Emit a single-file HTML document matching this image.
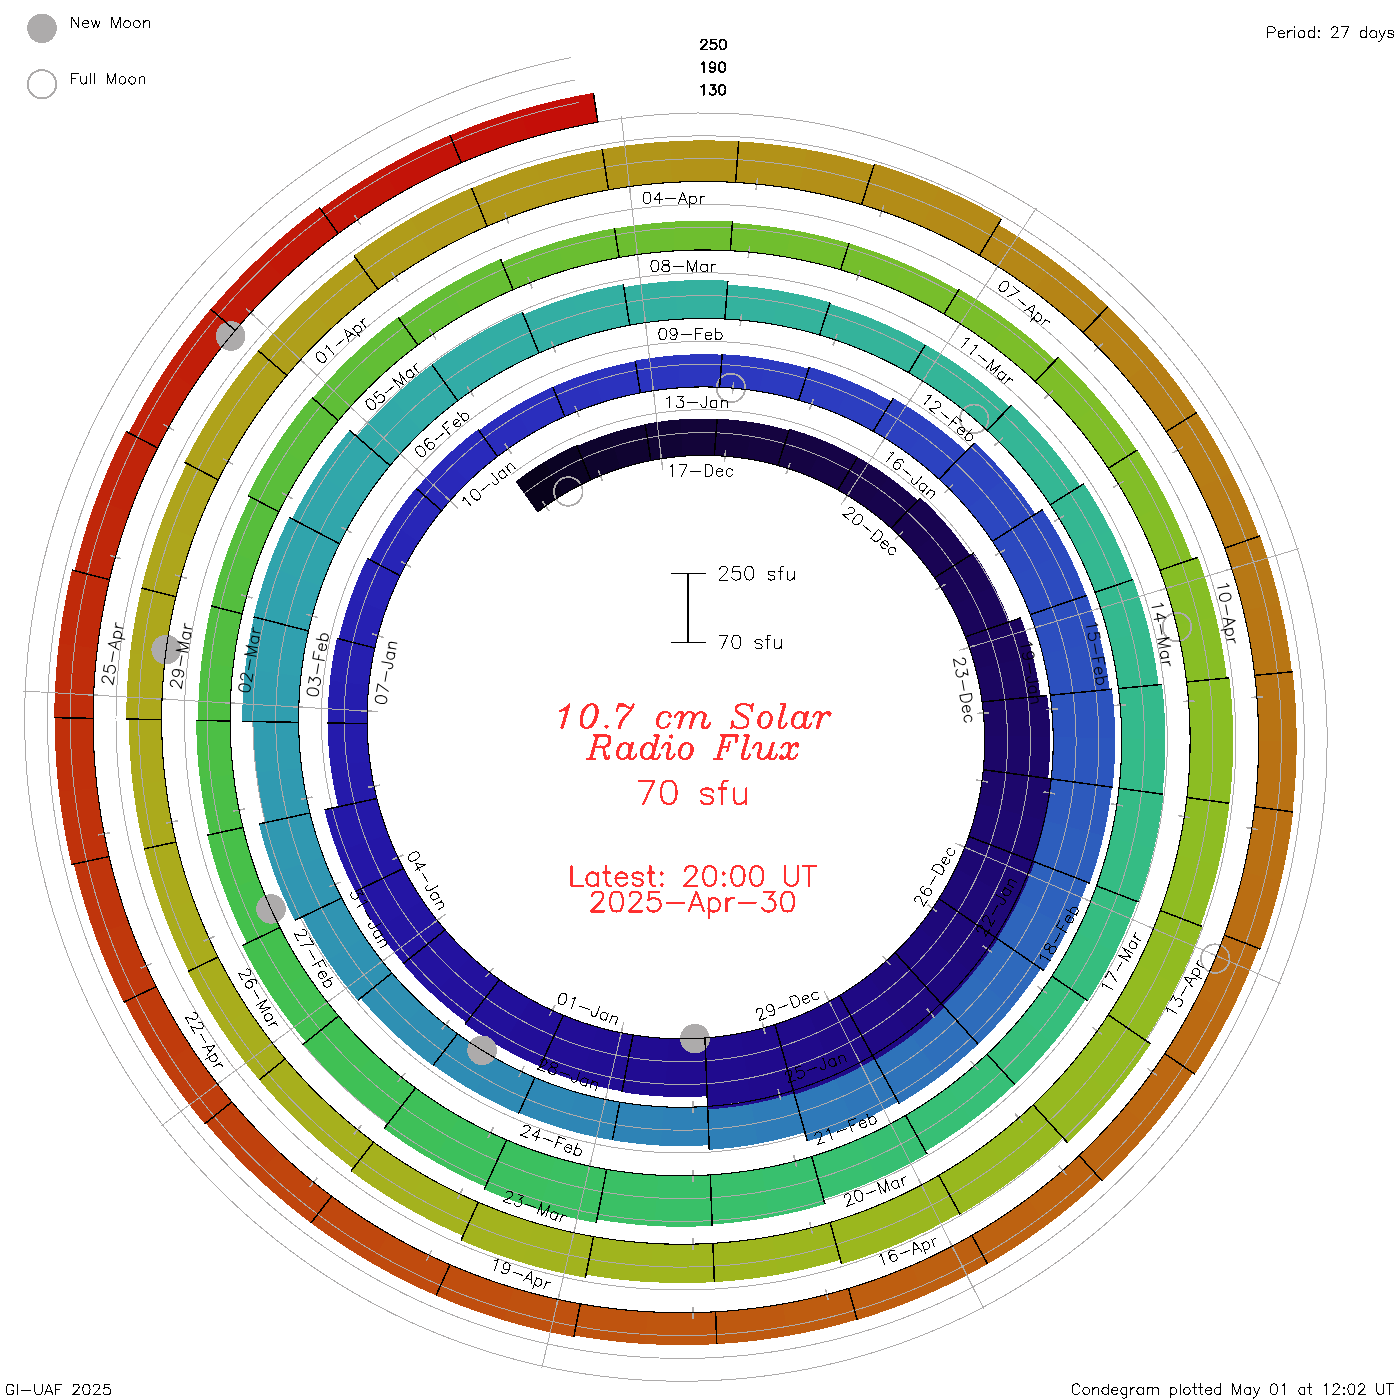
<!DOCTYPE html><html><head><meta charset="utf-8"><title>Condegram</title><style>html,body{margin:0;padding:0;background:#fff}svg{display:block}</style></head><body><svg shape-rendering="crispEdges" width="1400" height="1400" viewBox="0 0 1400 1400">
<rect width="1400" height="1400" fill="#fff"/>
<g shape-rendering="crispEdges" stroke="none">
<path fill="#c40e08" d="M528.4 138.5L542.1 134.6L555.9 131L569.9 127.8L583.9 124.8L597.9 122.2L593.4 92.9L578.6 95.6L563.9 98.7L549.3 102.1L534.8 105.9L520.4 110Z"/>
<path fill="#c31108" d="M461.3 162.8L474.5 157.4L487.8 152.2L501.2 147.3L514.7 142.8L528.4 138.5L520.4 110L506.1 114.4L491.9 119.1L477.8 124.2L463.9 129.6L450.1 135.4Z"/>
<path fill="#c31308" d="M397.6 194.7L410 187.7L422.6 181.1L435.4 174.7L448.3 168.6L461.3 162.8L449.9 135L436.2 141.1L422.7 147.4L409.3 154.1L396.1 161.1L383.1 168.4Z"/>
<path fill="#c21608" d="M338.2 233.6L349.7 225.3L361.4 217.2L373.3 209.4L385.4 201.9L397.6 194.7L383.1 168.4L370.2 175.9L357.6 183.8L345.1 192L332.8 200.4L320.7 209.2Z"/>
<path fill="#c21808" d="M283.8 279.1L294.3 269.5L304.9 260.2L315.8 251.1L326.9 242.2L338.2 233.6L319.4 207.3L307.5 216.3L295.8 225.7L284.3 235.2L273.1 245.1L262.1 255.2Z"/>
<path fill="#c11b09" d="M235.2 330.5L244.4 319.8L253.9 309.3L263.7 299L273.6 288.9L283.8 279.1L262.1 255.2L251.3 265.5L240.8 276.1L230.6 286.9L220.6 297.9L210.8 309.2Z"/>
<path fill="#c11e09" d="M193 387.1L200.9 375.4L209.1 363.9L217.5 352.5L226.2 341.4L235.2 330.5L210.6 309L201.1 320.5L191.9 332.2L183 344.1L174.3 356.2L166 368.5Z"/>
<path fill="#c12109" d="M157.7 448L164.2 435.5L170.9 423.2L178 411L185.3 398.9L193 387.1L166 368.5L157.9 381L150.2 393.7L142.7 406.6L135.6 419.6L128.7 432.8Z"/>
<path fill="#c0240a" d="M129.7 512.5L134.7 499.4L140 486.4L145.6 473.4L151.5 460.7L157.7 448L125.7 431.2L119.1 444.6L112.8 458.1L106.9 471.8L101.3 485.6L96 499.5Z"/>
<path fill="#c0270a" d="M109.5 579.7L112.9 566.1L116.7 552.6L120.7 539.1L125.1 525.8L129.7 512.5L96 499.5L91 513.5L86.4 527.7L82.1 541.9L78.1 556.3L74.5 570.7Z"/>
<path fill="#c02a0a" d="M97.3 648.6L99.1 634.8L101.2 620.9L103.7 607.1L106.4 593.4L109.5 579.7L71.9 570L68.6 584.6L65.7 599.2L63 613.9L60.8 628.6L58.8 643.4Z"/>
<path fill="#c02d0b" d="M93.1 718.4L93.3 704.4L93.8 690.4L94.6 676.5L95.8 662.5L97.3 648.6L58.8 643.4L57.2 658.2L56 673L55.1 687.9L54.5 702.7L54.3 717.6Z"/>
<path fill="#c0300b" d="M97.1 788L95.7 774.1L94.5 760.2L93.7 746.3L93.3 732.3L93.1 718.4L54.7 717.6L54.8 732.5L55.3 747.3L56.1 762.1L57.3 776.9L58.8 791.7Z"/>
<path fill="#c0320b" d="M109.1 856.5L106.1 842.9L103.3 829.3L100.9 815.6L98.9 801.8L97.1 788L58.8 791.7L60.7 806.4L62.9 821L65.4 835.6L68.3 850.2L71.5 864.6Z"/>
<path fill="#c0350c" d="M128.9 923L124.3 909.9L120.1 896.7L116.1 883.4L112.4 870L109.1 856.5L73.8 864.1L77.3 878.4L81.2 892.7L85.4 906.8L89.9 920.8L94.7 934.7Z"/>
<path fill="#c0380c" d="M156.3 986.6L150.2 974.2L144.5 961.6L139 948.9L133.8 936L128.9 923L94.7 934.7L99.9 948.5L105.4 962.1L111.2 975.6L117.3 989L123.7 1002.2Z"/>
<path fill="#c03b0c" d="M190.8 1046.5L183.3 1034.9L176.2 1023.1L169.3 1011.1L162.6 998.9L156.3 986.6L124.7 1001.7L131.4 1014.8L138.4 1027.6L145.7 1040.3L153.3 1052.9L161.2 1065.2Z"/>
<path fill="#c03e0d" d="M231.9 1101.9L223.2 1091.2L214.7 1080.3L206.5 1069.3L198.5 1058L190.8 1046.5L161.2 1065.2L169.3 1077.3L177.8 1089.3L186.5 1101L195.4 1112.6L204.7 1123.9Z"/>
<path fill="#c0410d" d="M279.1 1152L269.2 1142.4L259.5 1132.6L250.1 1122.6L240.9 1112.4L231.9 1101.9L205.6 1123.2L215 1134.2L224.8 1145.1L234.7 1155.7L244.9 1166.1L255.4 1176.2Z"/>
<path fill="#c0450d" d="M331.7 1196.2L320.8 1187.9L310 1179.3L299.5 1170.4L289.2 1161.3L279.1 1152L255.4 1176.2L266.1 1186.1L277 1195.7L288.1 1205L299.4 1214.1L310.9 1223Z"/>
<path fill="#c0480e" d="M388.9 1233.9L377.1 1226.9L365.5 1219.6L354 1212.1L342.8 1204.3L331.7 1196.2L310.9 1223L322.6 1231.5L334.6 1239.8L346.7 1247.8L358.9 1255.5L371.4 1262.9Z"/>
<path fill="#c04b0e" d="M450 1264.7L437.5 1259.1L425.1 1253.2L412.9 1247.1L400.8 1240.6L388.9 1233.9L371.4 1262.9L384 1270L396.8 1276.9L409.7 1283.4L422.8 1289.6L436 1295.5Z"/>
<path fill="#c04e0e" d="M514.1 1288L501 1284L488.1 1279.6L475.3 1274.9L462.6 1269.9L450 1264.7L436 1295.5L449.3 1301.1L462.7 1306.4L476.3 1311.3L490 1316L503.7 1320.3Z"/>
<path fill="#bf510f" d="M580.3 1303.8L566.9 1301.3L553.6 1298.4L540.4 1295.3L527.2 1291.8L514.1 1288L503.7 1320.3L517.6 1324.3L531.5 1328L545.5 1331.3L559.6 1334.3L573.8 1337Z"/>
<path fill="#bf540f" d="M647.8 1311.7L634.2 1310.8L620.7 1309.5L607.2 1307.9L593.7 1306L580.3 1303.8L574.1 1335.5L588.2 1337.9L602.5 1339.9L616.7 1341.6L631 1343L645.3 1344Z"/>
<path fill="#bf560f" d="M715.6 1311.8L702 1312.4L688.5 1312.7L674.9 1312.7L661.3 1312.4L647.8 1311.7L645.3 1344L659.6 1344.7L673.9 1345L688.2 1345.1L702.5 1344.8L716.8 1344.1Z"/>
<path fill="#be5910" d="M782.8 1304L769.4 1306.2L756 1308L742.6 1309.6L729.1 1310.9L715.6 1311.8L716.8 1344.1L731.1 1343.1L745.3 1341.8L759.5 1340.2L773.7 1338.2L787.8 1335.9Z"/>
<path fill="#be5c10" d="M848.5 1288.5L835.5 1292.2L822.4 1295.6L809.3 1298.7L796.1 1301.5L782.8 1304L787.8 1335.9L801.8 1333.3L815.8 1330.4L829.6 1327.1L843.4 1323.5L857.1 1319.6Z"/>
<path fill="#be5e10" d="M911.8 1265.5L899.3 1270.6L886.8 1275.5L874.1 1280.1L861.3 1284.4L848.5 1288.5L857.2 1320L870.8 1315.8L884.3 1311.2L897.7 1306.4L911 1301.2L924.1 1295.8Z"/>
<path fill="#bd6011" d="M971.8 1235.3L960.1 1241.9L948.2 1248.2L936.2 1254.2L924.1 1260L911.8 1265.5L924.1 1295.8L937.1 1290L950 1283.9L962.7 1277.6L975.3 1270.9L987.6 1264Z"/>
<path fill="#bd6211" d="M1027.9 1198.5L1017 1206.4L1006 1214L994.8 1221.4L983.4 1228.5L971.8 1235.3L987.6 1264L999.9 1256.8L1011.9 1249.3L1023.8 1241.5L1035.4 1233.4L1046.9 1225.1Z"/>
<path fill="#bd6411" d="M1079.1 1155.5L1069.3 1164.6L1059.3 1173.4L1049 1182L1038.5 1190.4L1027.9 1198.5L1046.9 1225.1L1058.2 1216.6L1069.2 1207.7L1080.1 1198.7L1090.7 1189.3L1101.1 1179.8Z"/>
<path fill="#bc6612" d="M1125 1107L1116.3 1117.1L1107.3 1127L1098.2 1136.7L1088.8 1146.2L1079.1 1155.5L1102.2 1180.9L1112.4 1171.1L1122.3 1161L1132.1 1150.7L1141.6 1140.2L1150.8 1129.5Z"/>
<path fill="#bc6812" d="M1164.8 1053.6L1157.3 1064.6L1149.6 1075.5L1141.7 1086.2L1133.4 1096.7L1125 1107L1150.8 1129.5L1159.8 1118.6L1168.5 1107.5L1176.9 1096.1L1185.1 1084.6L1193 1072.9Z"/>
<path fill="#bb6a12" d="M1198 996L1191.9 1007.8L1185.5 1019.5L1178.9 1031L1172 1042.4L1164.8 1053.6L1194.9 1074.2L1202.6 1062.3L1209.9 1050.2L1217 1038L1223.8 1025.6L1230.4 1013Z"/>
<path fill="#bb6c13" d="M1224.3 935.1L1219.6 947.5L1214.7 959.8L1209.4 972L1203.9 984.1L1198 996L1230.4 1013L1236.6 1000.4L1242.5 987.5L1248.1 974.6L1253.4 961.5L1258.4 948.3Z"/>
<path fill="#ba6e13" d="M1243.3 871.8L1240.1 884.6L1236.6 897.3L1232.8 910L1228.7 922.6L1224.3 935.1L1260.5 949.1L1265.2 935.8L1269.6 922.3L1273.7 908.8L1277.5 895.1L1280.9 881.4Z"/>
<path fill="#b97013" d="M1254.8 806.7L1253.1 819.8L1251.1 832.9L1248.8 845.9L1246.2 858.8L1243.3 871.8L1280.9 881.4L1284 867.7L1286.8 853.8L1289.3 839.9L1291.4 826L1293.2 812Z"/>
<path fill="#b97214" d="M1258.6 741L1258.5 754.1L1258 767.3L1257.2 780.5L1256.2 793.6L1254.8 806.7L1292.5 811.9L1294 797.9L1295.1 783.9L1296 769.8L1296.5 755.8L1296.7 741.7Z"/>
<path fill="#b87414" d="M1254.8 675.4L1256.2 688.4L1257.3 701.5L1258 714.7L1258.5 727.8L1258.6 741L1296.7 741.7L1296.5 727.7L1296.1 713.6L1295.3 699.6L1294.1 685.6L1292.7 671.7Z"/>
<path fill="#b87614" d="M1243.4 610.8L1246.3 623.6L1248.9 636.4L1251.2 649.3L1253.1 662.3L1254.8 675.4L1291.9 671.7L1290.2 657.9L1288.1 644L1285.7 630.2L1282.9 616.5L1279.9 602.9Z"/>
<path fill="#b77815" d="M1224.7 548.1L1229 560.4L1233 572.9L1236.8 585.4L1240.3 598.1L1243.4 610.8L1279.9 602.9L1276.5 589.3L1272.8 575.8L1268.9 562.5L1264.6 549.2L1260 536Z"/>
<path fill="#b77b15" d="M1198.8 488.1L1204.5 499.9L1210 511.7L1215.2 523.7L1220.1 535.8L1224.7 548.1L1258.9 536.4L1254 523.4L1248.8 510.4L1243.3 497.7L1237.5 485L1231.4 472.5Z"/>
<path fill="#b77d15" d="M1166.2 431.7L1173.3 442.7L1180 453.8L1186.6 465.1L1192.8 476.5L1198.8 488.1L1231.4 472.5L1225.1 460.2L1218.4 448L1211.5 436L1204.3 424.1L1196.8 412.5Z"/>
<path fill="#b67f16" d="M1127.4 379.6L1135.7 389.7L1143.7 399.9L1151.4 410.3L1159 420.9L1166.2 431.7L1196.8 412.5L1189.1 401L1181.1 389.6L1172.8 378.5L1164.3 367.6L1155.6 356.9Z"/>
<path fill="#b68216" d="M1082.9 332.4L1092.2 341.4L1101.4 350.7L1110.3 360.1L1119 369.8L1127.4 379.6L1155.6 356.9L1146.6 346.4L1137.3 336.1L1127.9 326.1L1118.2 316.2L1108.2 306.6Z"/>
<path fill="#b58416" d="M1033.4 290.9L1043.6 298.7L1053.7 306.8L1063.7 315.1L1073.4 323.7L1082.9 332.4L1108.2 306.6L1098.1 297.3L1087.8 288.2L1077.2 279.3L1066.4 270.7L1055.5 262.3Z"/>
<path fill="#b58717" d="M979.4 255.4L990.5 262L1001.5 268.8L1012.3 275.9L1022.9 283.3L1033.4 290.9L1055.5 262.3L1044.4 254.2L1033.1 246.3L1021.6 238.8L1009.9 231.5L998.1 224.5Z"/>
<path fill="#b48a17" d="M921.9 226.5L933.6 231.8L945.3 237.3L956.8 243L968.2 249.1L979.4 255.4L1001.6 218.6L989.5 211.8L977.3 205.2L964.9 199L952.3 193L939.7 187.4Z"/>
<path fill="#b38c17" d="M861.5 204.6L873.7 208.4L885.9 212.5L898 216.9L910 221.6L921.9 226.5L939.7 187.4L926.9 182L914 177L900.9 172.2L887.8 167.8L874.6 163.6Z"/>
<path fill="#b38f18" d="M799.1 189.8L811.7 192.2L824.2 194.8L836.7 197.8L849.1 201L861.5 204.6L874 165.4L860.8 161.6L847.4 158.1L834 154.9L820.5 152L807 149.5Z"/>
<path fill="#b29218" d="M735.6 182.4L748.3 183.3L761.1 184.5L773.8 186L786.4 187.7L799.1 189.8L807 149.5L793.4 147.2L779.8 145.3L766.1 143.7L752.5 142.4L738.7 141.4Z"/>
<path fill="#b29318" d="M671.8 182.4L684.5 181.8L697.3 181.5L710 181.5L722.8 181.8L735.6 182.4L738.7 141.4L725 140.8L711.3 140.4L697.6 140.4L683.9 140.7L670.2 141.4Z"/>
<path fill="#b19519" d="M608.5 189.9L621.1 187.8L633.7 186L646.3 184.5L659 183.3L671.8 182.4L670.2 141.4L656.5 142.3L642.8 143.6L629.2 145.1L615.7 147L602.2 149.3Z"/>
<path fill="#b19719" d="M546.7 204.5L558.9 201L571.2 197.8L583.6 194.9L596 192.2L608.5 189.9L602.2 149.3L588.7 151.8L575.4 154.6L562.1 157.7L548.8 161.2L535.7 164.9Z"/>
<path fill="#b19819" d="M487.2 226.2L498.9 221.4L510.7 216.7L522.6 212.4L534.6 208.3L546.7 204.5L535.7 164.9L522.7 169L509.7 173.4L496.9 178L484.2 183L471.7 188.2Z"/>
<path fill="#b09a1a" d="M430.7 254.7L441.7 248.5L452.9 242.5L464.2 236.8L475.6 231.4L487.2 226.2L471.5 187.8L459.1 193.4L446.7 199.2L434.6 205.3L422.5 211.7L410.7 218.3Z"/>
<path fill="#b09c1a" d="M378 289.4L388.2 281.9L398.6 274.7L409.2 267.8L419.9 261.1L430.7 254.7L410.7 218.3L399 225.3L387.4 232.5L376.1 239.9L364.9 247.6L353.9 255.6Z"/>
<path fill="#b09d1a" d="M329.9 329.8L339.1 321.3L348.6 313L358.2 304.9L368 297L378 289.4L355.9 258.4L345.2 266.6L334.7 275L324.3 283.6L314.2 292.5L304.3 301.7Z"/>
<path fill="#af9f1b" d="M286.8 375.5L295 366L303.4 356.7L312 347.5L320.8 338.6L329.9 329.8L304.3 301.7L294.6 311L285.1 320.6L275.9 330.3L266.9 340.3L258.2 350.5Z"/>
<path fill="#afa11b" d="M249.5 425.8L256.5 415.4L263.7 405.2L271.2 395.1L278.9 385.2L286.8 375.5L258.2 350.5L249.6 360.9L241.4 371.5L233.3 382.2L225.6 393.2L218.1 404.3Z"/>
<path fill="#afa21b" d="M218.3 479.9L224 468.8L230 457.9L236.2 447L242.7 436.3L249.5 425.8L218.1 404.3L210.8 415.6L203.9 427L197.2 438.6L190.7 450.3L184.6 462.2Z"/>
<path fill="#aea41c" d="M193.6 537.2L198 525.5L202.7 514L207.6 502.5L212.8 491.2L218.3 479.9L187 463.4L181.1 475.4L175.6 487.5L170.3 499.7L165.3 512L160.6 524.5Z"/>
<path fill="#aea61c" d="M175.9 596.8L178.9 584.7L182.1 572.7L185.7 560.8L189.5 549L193.6 537.2L160.6 524.5L156.2 537L152.1 549.6L148.3 562.3L144.8 575.1L141.6 588Z"/>
<path fill="#ada71c" d="M165.1 657.9L166.7 645.6L168.6 633.3L170.7 621.1L173.1 608.9L175.9 596.8L141.6 588L138.7 600.9L136.1 613.9L133.8 626.9L131.8 640L130.1 653.1Z"/>
<path fill="#ada81c" d="M161.6 719.7L161.7 707.3L162.2 694.9L162.9 682.6L163.9 670.2L165.1 657.9L130.1 653.1L128.7 666.3L127.6 679.4L126.8 692.6L126.4 705.8L126.2 719Z"/>
<path fill="#aca91c" d="M165.3 781.3L164 769.1L162.9 756.7L162.2 744.4L161.8 732.1L161.6 719.7L128.9 719.1L129 732.2L129.5 745.3L130.3 758.4L131.3 771.5L132.7 784.5Z"/>
<path fill="#abaa1c" d="M176 842L173.3 830L170.9 817.9L168.7 805.8L166.9 793.6L165.3 781.3L132.7 784.5L134.4 797.5L136.3 810.4L138.6 823.3L141.2 836.2L144.1 848.9Z"/>
<path fill="#abab1c" d="M193.7 900.8L189.7 889.2L185.8 877.6L182.3 865.8L179 853.9L176 842L144.1 848.9L147.2 861.6L150.7 874.2L154.4 886.7L158.5 899.1L162.8 911.4Z"/>
<path fill="#aaac1c" d="M218.1 957.1L212.7 946.1L207.6 934.9L202.7 923.7L198.1 912.3L193.7 900.8L162.8 911.4L167.4 923.6L172.3 935.7L177.4 947.7L182.9 959.5L188.6 971.2Z"/>
<path fill="#a9ad1c" d="M248.7 1010L242.1 999.7L235.7 989.3L229.6 978.7L223.7 968L218.1 957.1L187.9 971.5L193.9 983.1L200.1 994.5L206.6 1005.8L213.4 1016.9L220.4 1027.9Z"/>
<path fill="#a8ae1d" d="M285.2 1058.9L277.5 1049.5L270 1039.9L262.7 1030.1L255.6 1020.1L248.7 1010L220.4 1027.9L227.7 1038.6L235.2 1049.2L242.9 1059.7L250.9 1069.9L259.2 1079.9Z"/>
<path fill="#a7af1d" d="M327.1 1103.1L318.3 1094.7L309.7 1086L301.4 1077.2L293.2 1068.1L285.2 1058.9L259.2 1079.9L267.6 1089.8L276.3 1099.4L285.2 1108.8L294.3 1118L303.6 1127Z"/>
<path fill="#a6b01d" d="M373.6 1142.1L364 1134.7L354.5 1127.1L345.2 1119.3L336 1111.3L327.1 1103.1L303.6 1127L313.1 1135.8L322.8 1144.3L332.7 1152.6L342.8 1160.7L353.1 1168.5Z"/>
<path fill="#a5b11e" d="M424.3 1175.3L413.9 1169.1L403.6 1162.7L393.4 1156.1L383.5 1149.2L373.6 1142.1L351 1171.2L361.5 1178.9L372.2 1186.3L383 1193.4L394.1 1200.3L405.2 1206.9Z"/>
<path fill="#a4b21e" d="M478.3 1202.3L467.3 1197.4L456.3 1192.2L445.5 1186.8L434.8 1181.2L424.3 1175.3L405.2 1206.9L416.5 1213.2L427.9 1219.3L439.5 1225.1L451.2 1230.6L463 1235.9Z"/>
<path fill="#a3b31e" d="M535 1222.8L523.5 1219.2L512 1215.4L500.7 1211.3L489.5 1206.9L478.3 1202.3L461 1240.4L473 1245.4L485.2 1250.2L497.4 1254.6L509.8 1258.8L522.2 1262.7Z"/>
<path fill="#a2b31e" d="M593.5 1236.6L581.7 1234.4L569.9 1231.9L558.2 1229.1L546.6 1226.1L535 1222.8L522.2 1262.7L534.7 1266.3L547.3 1269.6L560 1272.6L572.7 1275.3L585.4 1277.7Z"/>
<path fill="#a0b41e" d="M653.1 1243.4L641.1 1242.6L629.2 1241.5L617.3 1240.2L605.4 1238.5L593.5 1236.6L586 1274.7L598.8 1276.8L611.6 1278.6L624.4 1280.1L637.2 1281.3L650.1 1282.1Z"/>
<path fill="#9fb51e" d="M712.9 1243.3L701 1243.9L689 1244.2L677 1244.2L665.1 1244L653.1 1243.4L650.1 1282.1L663 1282.7L675.8 1283L688.7 1283L701.6 1282.7L714.4 1282.1Z"/>
<path fill="#9eb51e" d="M772.2 1236.3L760.4 1238.3L748.6 1239.9L736.7 1241.4L724.8 1242.5L712.9 1243.3L714.4 1282.1L727.3 1281.2L740 1280L752.8 1278.5L765.5 1276.7L778.2 1274.7Z"/>
<path fill="#9cb61e" d="M830.1 1222.5L818.7 1225.8L807.1 1228.8L795.6 1231.6L783.9 1234.1L772.2 1236.3L778.2 1274.7L790.8 1272.3L803.3 1269.6L815.8 1266.6L828.2 1263.4L840.5 1259.9Z"/>
<path fill="#9bb71e" d="M885.9 1202L874.9 1206.6L863.9 1211L852.7 1215.1L841.4 1218.9L830.1 1222.5L841.7 1264.3L854 1260.4L866.3 1256.3L878.4 1251.9L890.4 1247.2L902.3 1242.2Z"/>
<path fill="#9ab71f" d="M938.7 1175.4L928.4 1181.2L918 1186.8L907.4 1192.1L896.7 1197.2L885.9 1202L902.3 1242.2L914 1237L925.7 1231.5L937.1 1225.7L948.5 1219.6L959.7 1213.3Z"/>
<path fill="#98b81f" d="M988 1142.8L978.5 1149.7L968.8 1156.5L958.9 1163L948.9 1169.3L938.7 1175.4L960.2 1214.3L971.3 1207.8L982.2 1200.9L993 1193.9L1003.5 1186.6L1013.9 1179Z"/>
<path fill="#97b91f" d="M1033.1 1104.8L1024.5 1112.8L1015.6 1120.6L1006.6 1128.2L997.4 1135.6L988 1142.8L1013.9 1179L1024.1 1171.2L1034.2 1163.2L1044 1154.9L1053.6 1146.5L1063 1137.8Z"/>
<path fill="#96b920" d="M1073.4 1061.9L1065.7 1070.9L1057.9 1079.6L1049.8 1088.2L1041.6 1096.6L1033.1 1104.8L1067.6 1142.8L1077 1133.8L1086.1 1124.6L1095 1115.2L1103.6 1105.6L1112.1 1095.7Z"/>
<path fill="#94ba20" d="M1108.3 1014.8L1101.8 1024.6L1095 1034.1L1088 1043.6L1080.8 1052.8L1073.4 1061.9L1112.1 1095.7L1120.3 1085.7L1128.2 1075.5L1136 1065.1L1143.4 1054.6L1150.7 1043.9Z"/>
<path fill="#93bb21" d="M1137.4 964.1L1132.1 974.5L1126.5 984.8L1120.7 994.9L1114.6 1004.9L1108.3 1014.8L1145.3 1040.2L1152.2 1029.5L1158.8 1018.6L1165.2 1007.5L1171.3 996.3L1177.2 985Z"/>
<path fill="#91bb21" d="M1160.4 910.5L1156.3 921.4L1152 932.2L1147.4 943L1142.5 953.6L1137.4 964.1L1177.2 985L1182.7 973.6L1188 962L1193.1 950.3L1197.8 938.5L1202.3 926.6Z"/>
<path fill="#8fbc22" d="M1177 854.7L1174.2 866L1171.1 877.2L1167.8 888.4L1164.2 899.5L1160.4 910.5L1200.5 926L1204.7 914L1208.6 902L1212.2 889.8L1215.6 877.7L1218.6 865.4Z"/>
<path fill="#8ebd23" d="M1186.9 797.5L1185.5 809L1183.7 820.5L1181.8 831.9L1179.5 843.3L1177 854.7L1218.6 865.4L1221.4 853.1L1223.9 840.7L1226 828.3L1227.9 815.8L1229.5 803.3Z"/>
<path fill="#8cbd23" d="M1190.1 739.6L1190 751.2L1189.7 762.8L1189 774.4L1188.1 785.9L1186.9 797.5L1229.5 803.3L1230.8 790.8L1231.8 778.2L1232.6 765.6L1233 753.1L1233.1 740.5Z"/>
<path fill="#8abe24" d="M1186.6 682L1187.9 693.5L1188.8 705L1189.5 716.5L1190 728.1L1190.1 739.6L1233.1 740.5L1233 727.9L1232.5 715.3L1231.8 702.8L1230.8 690.3L1229.4 677.8Z"/>
<path fill="#88be25" d="M1176.5 625.3L1179 636.5L1181.3 647.8L1183.4 659.1L1185.1 670.5L1186.6 682L1226.8 678.1L1225.2 665.7L1223.3 653.4L1221.1 641.1L1218.7 628.9L1215.9 616.7Z"/>
<path fill="#86be25" d="M1159.9 570.3L1163.7 581.1L1167.3 592L1170.6 603L1173.7 614.1L1176.5 625.3L1215.9 616.7L1212.9 604.7L1209.6 592.7L1206 580.7L1202.2 568.9L1198 557.2Z"/>
<path fill="#84be26" d="M1137 517.7L1142.1 528L1146.9 538.4L1151.4 548.9L1155.8 559.5L1159.9 570.3L1192.3 559.2L1187.9 547.7L1183.3 536.3L1178.4 525.1L1173.3 513.9L1167.9 502.9Z"/>
<path fill="#82be27" d="M1108.3 468.3L1114.5 477.9L1120.5 487.6L1126.2 497.5L1131.7 507.5L1137 517.7L1167.9 502.9L1162.3 492L1156.4 481.3L1150.3 470.7L1143.9 460.3L1137.3 450Z"/>
<path fill="#80be27" d="M1074.1 422.6L1081.4 431.4L1088.4 440.4L1095.2 449.5L1101.9 458.8L1108.3 468.3L1136.9 450.2L1130.1 440.1L1123 430.1L1115.7 420.4L1108.2 410.8L1100.5 401.3Z"/>
<path fill="#7ebe28" d="M1035 381.3L1043.2 389.2L1051.2 397.3L1059 405.5L1066.7 414L1074.1 422.6L1100.5 401.3L1092.5 392.1L1084.4 383.1L1076 374.2L1067.4 365.6L1058.7 357.2Z"/>
<path fill="#7cbe29" d="M991.4 345L1000.4 351.9L1009.3 358.9L1018 366.2L1026.6 373.7L1035 381.3L1055.5 360.4L1046.6 352.3L1037.5 344.3L1028.3 336.6L1018.9 329.1L1009.3 321.8Z"/>
<path fill="#7abe2a" d="M944 314.1L953.8 319.8L963.4 325.8L972.9 332L982.2 338.4L991.4 345L1009.3 321.8L999.6 314.8L989.7 308L979.7 301.4L969.5 295.1L959.2 289Z"/>
<path fill="#77be2b" d="M893.5 288.9L903.8 293.4L914 298.2L924.2 303.3L934.2 308.5L944 314.1L958.4 290.3L947.9 284.4L937.4 278.8L926.7 273.5L915.9 268.4L905 263.6Z"/>
<path fill="#75be2c" d="M840.6 269.8L851.3 273.1L862 276.7L872.6 280.5L883.1 284.6L893.5 288.9L905 263.6L894 259L882.9 254.7L871.7 250.7L860.4 246.9L849 243.3Z"/>
<path fill="#73be2d" d="M785.9 257L796.9 259.1L807.9 261.4L818.9 263.9L829.7 266.7L840.6 269.8L849 243.3L837.6 240.1L826.1 237.1L814.5 234.4L802.9 231.9L791.2 229.8Z"/>
<path fill="#70be2e" d="M730.3 250.7L741.4 251.4L752.6 252.4L763.7 253.7L774.8 255.2L785.9 257L791.2 229.8L779.5 227.9L767.8 226.2L756 224.9L744.2 223.8L732.4 223Z"/>
<path fill="#6ebe2f" d="M674.4 250.9L685.6 250.3L696.7 250L707.9 250L719.1 250.2L730.3 250.7L732.5 221.5L720.7 221L708.8 220.7L697 220.7L685.1 221L673.3 221.6Z"/>
<path fill="#6cbe30" d="M619.1 257.5L630.1 255.7L641.1 254.1L652.2 252.8L663.3 251.7L674.4 250.9L673.3 221.6L661.5 222.5L649.7 223.6L637.9 225L626.2 226.6L614.6 228.6Z"/>
<path fill="#6abe31" d="M565.1 270.5L575.8 267.4L586.5 264.6L597.3 262L608.2 259.6L619.1 257.5L614.5 228.2L602.9 230.4L591.4 232.9L579.9 235.6L568.5 238.7L557.1 241.9Z"/>
<path fill="#68be32" d="M513.1 289.7L523.3 285.4L533.6 281.3L544 277.5L554.5 273.9L565.1 270.5L557.1 241.9L545.9 245.5L534.7 249.3L523.7 253.3L512.7 257.6L501.9 262.2Z"/>
<path fill="#66be33" d="M463.8 314.6L473.4 309.2L483.2 304L493 299L503 294.2L513.1 289.7L500.6 259L489.8 263.8L479.1 268.9L468.5 274.3L458.1 279.8L447.8 285.6Z"/>
<path fill="#64be34" d="M417.9 345.1L426.8 338.6L435.8 332.3L445 326.2L454.3 320.3L463.8 314.6L447.8 285.6L437.7 291.7L427.7 298L417.8 304.5L408.1 311.2L398.6 318.1Z"/>
<path fill="#62be35" d="M375.9 380.6L384 373.1L392.2 365.8L400.6 358.7L409.1 351.8L417.9 345.1L398 317.2L388.6 324.4L379.4 331.8L370.4 339.4L361.5 347.2L352.9 355.2Z"/>
<path fill="#5fbe37" d="M338.4 420.6L345.5 412.2L352.8 404.1L360.3 396.1L368 388.2L375.9 380.6L352.9 355.2L344.4 363.4L336.2 371.8L328.1 380.4L320.3 389.1L312.6 398.1Z"/>
<path fill="#5cbe39" d="M306 464.5L312 455.5L318.3 446.5L324.8 437.7L331.5 429.1L338.4 420.6L311.8 397.3L304.3 406.4L297.1 415.7L290.1 425.2L283.3 434.8L276.8 444.5Z"/>
<path fill="#5abe3a" d="M278.9 511.9L283.8 502.2L289 492.6L294.5 483.1L300.1 473.8L306 464.5L276.8 444.5L270.5 454.4L264.4 464.5L258.5 474.6L252.9 484.9L247.6 495.4Z"/>
<path fill="#57be3c" d="M257.5 561.9L261.3 551.7L265.4 541.6L269.6 531.6L274.1 521.7L278.9 511.9L250.6 497L245.5 507.4L240.7 518L236.1 528.7L231.8 539.5L227.7 550.4Z"/>
<path fill="#54be3e" d="M242.2 613.9L244.8 603.4L247.6 592.9L250.7 582.5L254 572.1L257.5 561.9L227.7 550.4L223.9 561.3L220.3 572.4L217 583.5L214 594.7L211.2 605.9Z"/>
<path fill="#52be40" d="M233 667.2L234.4 656.4L235.9 645.7L237.8 635.1L239.9 624.5L242.2 613.9L211.2 605.9L208.7 617.2L206.5 628.6L204.5 640L202.8 651.4L201.3 662.8Z"/>
<path fill="#4fbf42" d="M230.1 721L230.2 710.2L230.5 699.5L231.1 688.7L231.9 677.9L233 667.2L201.3 662.8L200.2 674.3L199.3 685.8L198.6 697.4L198.2 708.9L198.1 720.4Z"/>
<path fill="#4cbf45" d="M233.5 774.7L232.3 764L231.4 753.3L230.7 742.6L230.3 731.8L230.1 721L196.2 720.4L196.4 731.9L196.8 743.5L197.5 755L198.5 766.5L199.7 778Z"/>
<path fill="#4abf47" d="M243 827.5L240.6 817L238.4 806.5L236.5 796L234.9 785.4L233.5 774.7L199.7 778L201.2 789.4L203 800.8L205 812.1L207.3 823.4L209.9 834.6Z"/>
<path fill="#47c049" d="M258.5 878.7L255 868.6L251.6 858.4L248.5 848.2L245.6 837.9L243 827.5L207.3 835.2L210.1 846.4L213.2 857.6L216.5 868.6L220.1 879.6L224 890.5Z"/>
<path fill="#44c04c" d="M279.9 927.5L275.2 918L270.7 908.3L266.4 898.5L262.4 888.6L258.5 878.7L224 890.5L228.1 901.3L232.4 911.9L237 922.5L241.9 933L246.9 943.3Z"/>
<path fill="#43c04e" d="M306.7 973.5L300.9 964.6L295.3 955.5L290 946.3L284.8 937L279.9 927.5L242.1 945.6L247.5 955.9L253.1 966.1L258.9 976.1L265 986.1L271.3 995.8Z"/>
<path fill="#42c051" d="M338.6 1015.9L331.8 1007.7L325.2 999.4L318.8 990.9L312.7 982.3L306.7 973.5L271.3 995.8L277.8 1005.4L284.5 1014.8L291.5 1024.1L298.6 1033.2L306 1042.2Z"/>
<path fill="#40c054" d="M375 1054.2L367.4 1046.9L359.9 1039.4L352.6 1031.7L345.5 1023.9L338.6 1015.9L302.7 1044.8L310.3 1053.6L318.2 1062.3L326.2 1070.7L334.4 1079L342.8 1087.1Z"/>
<path fill="#3fc056" d="M415.6 1087.9L407.2 1081.6L398.9 1075L390.8 1068.3L382.8 1061.3L375 1054.2L342.8 1087.1L351.4 1094.9L360.1 1102.6L369 1110.1L378.1 1117.3L387.4 1124.3Z"/>
<path fill="#3ec059" d="M459.7 1116.6L450.6 1111.3L441.7 1105.8L432.8 1100L424.1 1094.1L415.6 1087.9L384.1 1128.5L393.6 1135.4L403.3 1142.1L413.1 1148.5L423 1154.7L433.1 1160.6Z"/>
<path fill="#3cc05c" d="M506.7 1139.9L497.1 1135.7L487.6 1131.3L478.2 1126.6L468.9 1121.7L459.7 1116.6L433.1 1160.6L443.3 1166.3L453.7 1171.8L464.1 1177L474.7 1182L485.4 1186.7Z"/>
<path fill="#3bc05f" d="M555.9 1157.6L545.9 1154.5L536 1151.2L526.1 1147.7L516.3 1143.9L506.7 1139.9L484.1 1189.5L495 1194L505.9 1198.2L517 1202.2L528.1 1205.9L539.3 1209.4Z"/>
<path fill="#3bc062" d="M606.7 1169.4L596.5 1167.5L586.2 1165.4L576.1 1163L566 1160.4L555.9 1157.6L539.3 1209.4L550.6 1212.6L561.9 1215.6L573.3 1218.2L584.7 1220.6L596.2 1222.8Z"/>
<path fill="#3ac065" d="M658.4 1175.2L648 1174.5L637.7 1173.6L627.3 1172.4L617 1171L606.7 1169.4L596.9 1219.4L608.3 1221.3L619.8 1222.8L631.4 1224.2L642.9 1225.2L654.4 1226Z"/>
<path fill="#39c068" d="M710.3 1174.9L699.9 1175.4L689.5 1175.7L679.2 1175.8L668.8 1175.6L658.4 1175.2L654.4 1226L666 1226.5L677.6 1226.7L689.1 1226.7L700.7 1226.4L712.2 1225.8Z"/>
<path fill="#39c06b" d="M761.6 1168.6L751.4 1170.4L741.2 1171.8L730.9 1173.1L720.6 1174.1L710.3 1174.9L712.2 1224.3L723.7 1223.5L735.1 1222.4L746.5 1221L757.9 1219.4L769.2 1217.5Z"/>
<path fill="#38c06e" d="M811.7 1156.5L801.8 1159.4L791.9 1162L781.8 1164.5L771.7 1166.7L761.6 1168.6L769.2 1217.5L780.5 1215.3L791.7 1212.9L802.9 1210.3L814 1207.3L825 1204.1Z"/>
<path fill="#38c070" d="M859.9 1138.6L850.5 1142.6L840.9 1146.4L831.3 1150L821.5 1153.4L811.7 1156.5L823.6 1199L834.4 1195.6L845.1 1191.9L855.7 1188L866.2 1183.9L876.6 1179.5Z"/>
<path fill="#37bf72" d="M905.6 1115.4L896.7 1120.4L887.7 1125.3L878.6 1130L869.3 1134.4L859.9 1138.6L876.6 1179.5L886.9 1174.9L897.1 1170L907.2 1164.9L917.2 1159.6L927 1154Z"/>
<path fill="#37bf75" d="M948.2 1087.1L940 1093.1L931.6 1099L923.1 1104.6L914.4 1110.1L905.6 1115.4L925.5 1151.4L935.1 1145.6L944.6 1139.7L953.9 1133.5L963.1 1127.1L972.1 1120.5Z"/>
<path fill="#37bf77" d="M987.1 1054.1L979.6 1061L972 1067.8L964.2 1074.4L956.3 1080.8L948.2 1087.1L972.1 1120.5L981 1113.7L989.7 1106.7L998.2 1099.5L1006.5 1092.1L1014.7 1084.5Z"/>
<path fill="#36be79" d="M1021.8 1016.9L1015.2 1024.7L1008.4 1032.2L1001.5 1039.7L994.4 1047L987.1 1054.1L1014.7 1084.5L1022.7 1076.7L1030.5 1068.8L1038.1 1060.7L1045.5 1052.4L1052.7 1043.9Z"/>
<path fill="#36be7c" d="M1051.8 976.1L1047.1 983.1L1042.3 990.1L1037.4 996.9L1032.3 1003.7L1027.1 1010.3L1021.8 1016.9L1052.7 1043.9L1058.6 1036.8L1064.3 1029.5L1069.9 1022.1L1075.3 1014.6L1080.6 1007L1085.7 999.3Z"/>
<path fill="#36bd7e" d="M1076.8 932.2L1072.2 941.2L1067.4 950.1L1062.4 958.9L1057.2 967.5L1051.8 976.1L1087.9 1000.8L1093.9 991.4L1099.6 981.9L1105.2 972.2L1110.5 962.5L1115.5 952.6Z"/>
<path fill="#35bd81" d="M1096.5 885.8L1093 895.2L1089.3 904.6L1085.4 913.9L1081.2 923.1L1076.8 932.2L1115.5 952.6L1120.4 942.6L1125 932.5L1129.3 922.2L1133.5 911.9L1137.3 901.6Z"/>
<path fill="#35bc84" d="M1110.6 837.6L1108.3 847.3L1105.7 857L1102.8 866.7L1099.8 876.3L1096.5 885.8L1138.4 902L1142 891.5L1145.4 880.9L1148.6 870.3L1151.5 859.5L1154.1 848.8Z"/>
<path fill="#35bb86" d="M1119 788.2L1117.8 798.1L1116.4 808L1114.7 817.9L1112.8 827.8L1110.6 837.6L1154.1 848.8L1156.5 838L1158.7 827.1L1160.5 816.2L1162.2 805.2L1163.5 794.3Z"/>
<path fill="#34bb89" d="M1121.7 738.3L1121.6 748.3L1121.3 758.3L1120.8 768.3L1120 778.2L1119 788.2L1162.4 794.1L1163.5 783.1L1164.4 772.2L1165 761.2L1165.3 750.2L1165.4 739.2Z"/>
<path fill="#34ba8c" d="M1118.5 688.6L1119.6 698.5L1120.4 708.4L1121.1 718.4L1121.5 728.3L1121.7 738.3L1165.4 739.2L1165.2 728.2L1164.8 717.2L1164.1 706.2L1163.2 695.3L1162 684.4Z"/>
<path fill="#34b98d" d="M1109.5 639.8L1111.8 649.4L1113.8 659.2L1115.6 668.9L1117.1 678.8L1118.5 688.6L1158.6 684.7L1157.2 673.9L1155.5 663.2L1153.6 652.5L1151.4 641.8L1149 631.2Z"/>
<path fill="#34b98f" d="M1095 592.4L1098.4 601.8L1101.5 611.1L1104.4 620.6L1107.1 630.2L1109.5 639.8L1149 631.2L1146.3 620.7L1143.4 610.3L1140.2 599.9L1136.8 589.6L1133.2 579.4Z"/>
<path fill="#34b891" d="M1075.2 547.2L1079.6 556.1L1083.8 565L1087.7 574.1L1091.5 583.2L1095 592.4L1132.5 579.6L1128.6 569.5L1124.5 559.5L1120.2 549.6L1115.7 539.8L1110.9 530.2Z"/>
<path fill="#34b792" d="M1050.3 504.8L1055.7 513L1060.9 521.4L1065.9 529.9L1070.6 538.5L1075.2 547.2L1110.9 530.2L1105.9 520.6L1100.7 511.2L1095.3 501.9L1089.7 492.7L1083.8 483.7Z"/>
<path fill="#34b794" d="M1020.8 465.6L1027.1 473.2L1033.1 480.8L1039.1 488.7L1044.8 496.7L1050.3 504.8L1080.3 485.9L1074.3 477.1L1068.1 468.4L1061.7 459.9L1055.1 451.6L1048.3 443.4Z"/>
<path fill="#34b696" d="M987 430.3L994.1 437L1001 443.9L1007.8 451L1014.4 458.2L1020.8 465.6L1048.3 443.4L1041.4 435.4L1034.2 427.5L1026.9 419.8L1019.4 412.3L1011.8 405Z"/>
<path fill="#34b597" d="M949.4 399.2L957.2 405L964.9 411.1L972.4 417.3L979.8 423.7L987 430.3L1009.9 406.9L1002.1 399.8L994.2 392.9L986.1 386.1L977.9 379.6L969.5 373.3Z"/>
<path fill="#34b598" d="M908.6 372.7L917 377.6L925.3 382.7L933.5 388L941.5 393.5L949.4 399.2L969.5 373.3L961 367.2L952.3 361.2L943.5 355.5L934.6 350L925.5 344.7Z"/>
<path fill="#34b49a" d="M865.2 351.2L874 355.1L882.8 359.2L891.5 363.5L900.1 368L908.6 372.7L925.5 344.7L916.4 339.6L907.1 334.7L897.7 330.1L888.3 325.7L878.7 321.4Z"/>
<path fill="#34b39b" d="M819.6 335L828.9 337.8L838.1 340.9L847.2 344.1L856.2 347.6L865.2 351.2L878.7 321.4L869.1 317.5L859.3 313.7L849.5 310.2L839.6 306.9L829.6 303.9Z"/>
<path fill="#34b39c" d="M772.7 324.2L782.2 326L791.6 327.9L801 330L810.3 332.4L819.6 335L830.1 302.4L820 299.6L809.9 297L799.8 294.6L789.5 292.5L779.3 290.6Z"/>
<path fill="#34b29e" d="M724.9 319L734.5 319.6L744.1 320.4L753.7 321.5L763.2 322.7L772.7 324.2L779.3 290.6L769 289L758.7 287.6L748.3 286.4L738 285.5L727.6 284.8Z"/>
<path fill="#34b19f" d="M677.1 319.3L686.6 318.8L696.2 318.5L705.8 318.5L715.4 318.6L724.9 319L727.9 280.7L717.4 280.2L707 280L696.5 280.1L686 280.4L675.6 280.9Z"/>
<path fill="#33b0a0" d="M629.7 325.2L639.1 323.6L648.5 322.2L658 321L667.5 320.1L677.1 319.3L675.6 280.9L665.1 281.7L654.7 282.7L644.4 284L634 285.5L623.8 287.2Z"/>
<path fill="#33afa2" d="M583.5 336.5L592.6 333.8L601.8 331.4L611 329.1L620.3 327L629.7 325.2L623.3 284.2L613 286.2L602.7 288.5L592.5 290.9L582.4 293.6L572.3 296.6Z"/>
<path fill="#33aea3" d="M539 353.1L547.7 349.4L556.5 345.8L565.4 342.5L574.4 339.4L583.5 336.5L572.3 296.6L562.4 299.7L552.5 303.1L542.7 306.7L532.9 310.6L523.3 314.7Z"/>
<path fill="#32ada4" d="M496.9 374.6L505.1 369.9L513.4 365.4L521.9 361.1L530.4 357L539 353.1L522.2 311.9L512.6 316.2L503.1 320.7L493.8 325.5L484.5 330.4L475.4 335.6Z"/>
<path fill="#32aca6" d="M457.7 400.8L465.3 395.2L473 389.8L480.8 384.5L488.8 379.5L496.9 374.6L475.4 335.6L466.4 341L457.5 346.6L448.8 352.4L440.2 358.4L431.8 364.6Z"/>
<path fill="#32aba7" d="M421.9 431.3L428.8 424.9L435.8 418.6L443 412.5L450.3 406.6L457.7 400.8L431.8 364.6L423.5 371L415.4 377.5L407.4 384.3L399.6 391.2L392 398.3Z"/>
<path fill="#31a9a8" d="M390 465.6L396.1 458.5L402.3 451.5L408.7 444.6L415.2 437.9L421.9 431.3L392 398.3L384.6 405.6L377.3 413L370.2 420.6L363.2 428.4L356.5 436.3Z"/>
<path fill="#31a7aa" d="M362.4 503.3L367.6 495.5L372.9 487.8L378.5 480.3L384.2 472.9L390 465.6L349.6 430.3L342.9 438.6L336.4 446.9L330.2 455.5L324.1 464.1L318.2 472.9Z"/>
<path fill="#31a6ab" d="M339.5 543.8L343.7 535.5L348.1 527.3L352.7 519.2L357.5 511.2L362.4 503.3L318.2 472.9L312.5 481.9L307.1 490.9L301.8 500.1L296.8 509.4L292 518.8Z"/>
<path fill="#30a4ac" d="M321.4 586.5L324.6 577.8L328.1 569.2L331.7 560.7L335.5 552.2L339.5 543.8L289.3 517.4L284.7 526.9L280.3 536.6L276.2 546.3L272.2 556.2L268.5 566.1Z"/>
<path fill="#30a2ae" d="M308.5 631L310.7 622L313.1 613L315.6 604.1L318.4 595.3L321.4 586.5L268.5 566.1L265.1 576.1L261.9 586.2L258.9 596.4L256.1 606.6L253.6 616.8Z"/>
<path fill="#30a0af" d="M300.9 676.4L302 667.3L303.3 658.2L304.8 649.1L306.6 640L308.5 631L254 616.9L251.7 627.2L249.7 637.6L247.9 648L246.4 658.4L245.1 668.8Z"/>
<path fill="#309eaf" d="M298.6 722.4L298.6 713.2L298.9 704L299.3 694.8L300 685.6L300.9 676.4L245.1 668.8L244 679.3L243.2 689.8L242.7 700.3L242.3 710.8L242.3 721.3Z"/>
<path fill="#309cb0" d="M301.6 768.1L300.6 759L299.8 749.8L299.2 740.7L298.8 731.5L298.6 722.4L252.5 721.5L252.7 731.7L253.1 741.9L253.8 752.2L254.7 762.4L255.8 772.5Z"/>
<path fill="#309ab1" d="M309.9 813L307.9 804.1L306 795.1L304.3 786.2L302.9 777.1L301.6 768.1L255.8 772.5L257.2 782.7L258.8 792.7L260.6 802.8L262.6 812.8L264.9 822.7Z"/>
<path fill="#3098b1" d="M323.4 856.5L320.3 847.9L317.4 839.3L314.7 830.6L312.2 821.8L309.9 813L259 824L261.5 834L264.3 844L267.3 853.8L270.6 863.6L274 873.4Z"/>
<path fill="#3096b2" d="M341.7 898L337.6 889.9L333.8 881.7L330.1 873.4L326.6 865L323.4 856.5L274 873.4L277.7 883L281.6 892.5L285.8 901.9L290.1 911.3L294.6 920.5Z"/>
<path fill="#3094b2" d="M364.6 937L359.7 929.4L354.9 921.7L350.3 913.9L345.9 906L341.7 898L302.2 916.9L306.9 925.8L311.8 934.6L316.9 943.3L322.1 951.9L327.6 960.3Z"/>
<path fill="#2f92b3" d="M391.9 972.9L386.1 966L380.5 958.9L375 951.7L369.8 944.4L364.6 937L327.6 960.3L333.3 968.6L339.1 976.8L345.2 984.8L351.4 992.6L357.8 1000.4Z"/>
<path fill="#2f90b3" d="M423 1005.3L416.5 999.1L410.1 992.8L403.9 986.3L397.8 979.7L391.9 972.9L360.5 998.2L367 1005.7L373.7 1013.1L380.5 1020.2L387.6 1027.2L394.7 1034.1Z"/>
<path fill="#2f8eb3" d="M457.6 1033.8L450.4 1028.4L443.3 1022.9L436.4 1017.2L429.6 1011.3L423 1005.3L394.7 1034.1L402.1 1040.8L409.6 1047.3L417.2 1053.6L424.9 1059.7L432.8 1065.7Z"/>
<path fill="#2e8cb4" d="M495.1 1058L487.4 1053.5L479.7 1048.8L472.2 1044L464.8 1039L457.6 1033.8L433.3 1065.1L441.3 1070.8L449.5 1076.4L457.7 1081.7L466.1 1086.9L474.6 1091.9Z"/>
<path fill="#2e8ab4" d="M535 1077.6L526.9 1074L518.8 1070.3L510.8 1066.4L502.9 1062.3L495.1 1058L474.6 1091.9L483.2 1096.6L491.9 1101.2L500.7 1105.5L509.6 1109.7L518.6 1113.6Z"/>
<path fill="#2e88b5" d="M576.8 1092.4L568.3 1089.8L559.9 1087L551.5 1084.1L543.2 1080.9L535 1077.6L518.9 1112.9L528 1116.6L537.1 1120.1L546.3 1123.4L555.6 1126.5L565 1129.3Z"/>
<path fill="#2e86b5" d="M619.9 1102.2L611.2 1100.6L602.6 1098.8L593.9 1096.9L585.3 1094.7L576.8 1092.4L565 1129.3L574.4 1132L583.8 1134.4L593.3 1136.5L602.9 1138.5L612.4 1140.2Z"/>
<path fill="#2e83b6" d="M663.7 1106.9L654.9 1106.3L646.1 1105.6L637.4 1104.7L628.6 1103.5L619.9 1102.2L612.4 1140.2L622 1141.8L631.7 1143L641.3 1144.1L651 1144.9L660.7 1145.6Z"/>
<path fill="#2e81b7" d="M707.6 1106.4L698.8 1106.9L690.1 1107.2L681.3 1107.3L672.5 1107.2L663.7 1106.9L660.7 1145.6L670.4 1145.9L680.1 1146.1L689.8 1146L699.5 1145.7L709.1 1145.2Z"/>
<path fill="#2e7fb7" d="M751 1100.9L742.4 1102.5L733.7 1103.8L725.1 1104.9L716.3 1105.7L707.6 1106.4L709.3 1149.8L719 1149L728.8 1148.1L738.5 1146.9L748.1 1145.5L757.7 1143.8Z"/>
<path fill="#2e7cb8" d="M793.3 1090.5L785 1093L776.6 1095.3L768.1 1097.4L759.6 1099.2L751 1100.9L757.7 1143.8L767.3 1141.9L776.8 1139.9L786.3 1137.5L795.7 1135L805 1132.3Z"/>
<path fill="#2e79b9" d="M834 1075.2L826.1 1078.6L818 1081.9L809.9 1084.9L801.6 1087.8L793.3 1090.5L807.5 1141.4L817 1138.4L826.4 1135.2L835.7 1131.7L844.9 1128.1L854 1124.2Z"/>
<path fill="#2e76b9" d="M872.6 1055.4L865 1059.7L857.4 1063.9L849.7 1067.8L841.9 1071.6L834 1075.2L854 1124.2L863.1 1120.1L872 1115.8L880.8 1111.3L889.5 1106.6L898.1 1101.7Z"/>
<path fill="#2e73ba" d="M908.4 1031.3L901.4 1036.5L894.4 1041.4L887.2 1046.3L879.9 1050.9L872.6 1055.4L899.2 1103.7L907.7 1098.6L916.1 1093.3L924.4 1087.8L932.5 1082.1L940.5 1076.2Z"/>
<path fill="#2e6fbb" d="M941 1003.3L934.8 1009.2L928.4 1015L921.8 1020.6L915.2 1026L908.4 1031.3L940.5 1076.2L948.3 1070.2L956 1063.9L963.5 1057.5L970.9 1051L978.1 1044.2Z"/>
<path fill="#2e6cbb" d="M970.1 971.9L964.6 978.4L959 984.9L953.1 991.2L947.2 997.3L941 1003.3L978.1 1044.2L985.2 1037.3L992.1 1030.2L998.8 1023L1005.4 1015.7L1011.7 1008.2Z"/>
<path fill="#2e69bc" d="M995.3 937.3L990.6 944.5L985.7 951.5L980.7 958.4L975.5 965.2L970.1 971.9L1011.7 1008.2L1017.9 1000.5L1023.9 992.7L1029.7 984.8L1035.4 976.7L1040.8 968.6Z"/>
<path fill="#2e65bc" d="M1016.2 900.3L1012.4 907.8L1008.4 915.4L1004.2 922.8L999.8 930.1L995.3 937.3L1044 970.7L1049.2 962.3L1054.3 953.8L1059.2 945.2L1063.9 936.5L1068.4 927.7Z"/>
<path fill="#2d61bd" d="M1032.6 861.1L1029.7 869.1L1026.6 877L1023.3 884.8L1019.9 892.6L1016.2 900.3L1068.4 927.7L1072.7 918.8L1076.7 909.8L1080.6 900.8L1084.2 891.6L1087.6 882.4Z"/>
<path fill="#2d5ebd" d="M1044.3 820.5L1042.3 828.7L1040.2 836.9L1037.9 845L1035.3 853.1L1032.6 861.1L1089.8 883.2L1093 873.8L1096 864.4L1098.8 854.9L1101.3 845.4L1103.6 835.8Z"/>
<path fill="#2d5abd" d="M1051.2 778.9L1050.2 787.3L1049 795.6L1047.6 803.9L1046.1 812.2L1044.3 820.5L1103.6 835.8L1105.7 826.1L1107.6 816.5L1109.3 806.7L1110.7 797L1111.9 787.2Z"/>
<path fill="#2c56be" d="M1053.2 737L1053.2 745.4L1053 753.8L1052.6 762.2L1052 770.5L1051.2 778.9L1112.6 787.3L1113.6 777.5L1114.3 767.7L1114.9 757.9L1115.1 748L1115.2 738.2Z"/>
<path fill="#2c53be" d="M1050.3 695.2L1051.2 703.6L1052 711.9L1052.6 720.2L1053 728.6L1053.2 737L1115.2 738.2L1115 728.4L1114.6 718.6L1114 708.8L1113.1 699L1112 689.2Z"/>
<path fill="#2c50be" d="M1042.6 654.3L1044.5 662.4L1046.2 670.5L1047.8 678.7L1049.1 687L1050.3 695.2L1109.7 689.5L1108.4 679.8L1106.9 670.2L1105.2 660.6L1103.2 651.1L1101 641.6Z"/>
<path fill="#2c4ebf" d="M1030.2 614.6L1033.1 622.4L1035.7 630.3L1038.2 638.2L1040.5 646.2L1042.6 654.3L1101 641.6L1098.6 632.2L1095.9 622.9L1093.1 613.6L1090 604.4L1086.8 595.3Z"/>
<path fill="#2c4bbf" d="M1013.4 576.8L1017.1 584.2L1020.7 591.7L1024 599.2L1027.2 606.9L1030.2 614.6L1086.4 595.4L1082.9 586.4L1079.2 577.4L1075.4 568.6L1071.3 559.8L1067 551.2Z"/>
<path fill="#2c49bf" d="M992.4 541.3L996.9 548.2L1001.3 555.2L1005.5 562.3L1009.5 569.5L1013.4 576.8L1067 551.2L1062.5 542.6L1057.8 534.2L1052.9 525.9L1047.9 517.7L1042.6 509.6Z"/>
<path fill="#2c47c0" d="M967.5 508.6L972.7 514.9L977.9 521.3L982.9 527.9L987.7 534.5L992.4 541.3L1035.5 514.1L1030.2 506.3L1024.7 498.7L1019 491.2L1013.2 483.8L1007.2 476.6Z"/>
<path fill="#2c44c0" d="M939 479.2L945 484.8L950.8 490.5L956.5 496.4L962.1 502.5L967.5 508.6L1007.2 476.6L1001 469.5L994.7 462.6L988.2 455.8L981.5 449.2L974.7 442.7Z"/>
<path fill="#2c42c0" d="M907.5 453.3L914 458.2L920.4 463.2L926.8 468.4L932.9 473.7L939 479.2L966.2 451.4L959.5 445.3L952.6 439.4L945.6 433.6L938.5 428L931.2 422.6Z"/>
<path fill="#2c40c0" d="M873.2 431.4L880.3 435.4L887.2 439.6L894.1 444L900.8 448.6L907.5 453.3L931.2 422.6L923.9 417.4L916.4 412.3L908.8 407.4L901.1 402.7L893.3 398.1Z"/>
<path fill="#2c3ec0" d="M836.8 413.6L844.3 416.8L851.6 420.2L858.9 423.7L866.1 427.5L873.2 431.4L891.3 401.4L883.5 397.1L875.6 393L867.6 389L859.5 385.3L851.3 381.7Z"/>
<path fill="#2c3cc0" d="M798.7 400.3L806.5 402.6L814.1 405.1L821.8 407.7L829.3 410.6L836.8 413.6L851.3 381.7L843.1 378.4L834.7 375.2L826.4 372.2L817.9 369.5L809.4 366.9Z"/>
<path fill="#2c3ac0" d="M759.5 391.5L767.4 392.8L775.3 394.4L783.1 396.2L791 398.1L798.7 400.3L808.8 368.7L800.3 366.4L791.8 364.2L783.2 362.3L774.5 360.5L765.9 359Z"/>
<path fill="#2c38c0" d="M719.6 387.3L727.6 387.7L735.6 388.4L743.6 389.2L751.5 390.2L759.5 391.5L765.9 359L757.2 357.6L748.5 356.5L739.7 355.5L731 354.8L722.2 354.3Z"/>
<path fill="#2c36bf" d="M679.7 387.8L687.7 387.3L695.7 387L703.6 386.9L711.6 387L719.6 387.3L722.2 354.7L713.4 354.3L704.7 354.2L695.9 354.3L687.2 354.6L678.5 355.1Z"/>
<path fill="#2b34bf" d="M640.3 392.9L648.1 391.5L656 390.3L663.9 389.3L671.8 388.4L679.7 387.8L678.5 355.1L669.7 355.8L661.1 356.7L652.4 357.8L643.8 359.1L635.2 360.6Z"/>
<path fill="#2b32be" d="M601.8 402.5L609.4 400.2L617.1 398.1L624.8 396.2L632.5 394.5L640.3 392.9L635.3 361.3L626.8 363L618.3 364.9L609.9 367L601.6 369.2L593.3 371.7Z"/>
<path fill="#2b30bd" d="M564.9 416.5L572.2 413.4L579.5 410.4L586.9 407.6L594.3 405L601.8 402.5L593.3 371.7L585 374.4L576.9 377.2L568.8 380.3L560.8 383.5L552.8 386.9Z"/>
<path fill="#2a2ebd" d="M530 434.6L536.8 430.6L543.7 426.9L550.7 423.2L557.8 419.8L564.9 416.5L552.8 386.9L545 390.5L537.2 394.2L529.6 398.2L522 402.3L514.6 406.6Z"/>
<path fill="#2a2cbc" d="M497.5 456.5L503.8 451.9L510.2 447.3L516.7 442.9L523.3 438.7L530 434.6L514.6 406.6L507.2 411.1L500 415.7L492.8 420.5L485.8 425.4L479 430.5Z"/>
<path fill="#292abb" d="M468 482L473.6 476.7L479.4 471.4L485.3 466.3L491.4 461.4L497.5 456.5L478.1 429.3L471.3 434.6L464.6 440L458.1 445.6L451.7 451.3L445.5 457.2Z"/>
<path fill="#2928b9" d="M441.7 510.7L446.6 504.7L451.8 498.8L457 493.1L462.4 487.5L468 482L445.5 457.2L439.4 463.2L433.4 469.4L427.6 475.7L421.9 482.1L416.4 488.6Z"/>
<path fill="#2826b7" d="M418.9 542L423.2 535.6L427.6 529.2L432.1 522.9L436.8 516.7L441.7 510.7L415.9 488.1L410.5 494.8L405.3 501.6L400.3 508.5L395.4 515.5L390.7 522.7Z"/>
<path fill="#2724b6" d="M400.1 575.7L403.5 568.8L407.1 562L410.9 555.3L414.8 548.6L418.9 542L390.7 522.7L386.2 529.9L381.8 537.2L377.6 544.6L373.6 552.2L369.8 559.7Z"/>
<path fill="#2722b4" d="M385.3 611.2L388 604L390.7 596.8L393.7 589.7L396.8 582.7L400.1 575.7L367.1 558.3L363.4 566.1L359.9 573.9L356.6 581.8L353.5 589.8L350.6 597.8Z"/>
<path fill="#2620b2" d="M374.9 648.1L376.6 640.6L378.5 633.2L380.6 625.8L382.9 618.5L385.3 611.2L350.6 597.8L347.8 605.9L345.3 614L342.9 622.2L340.7 630.5L338.7 638.7Z"/>
<path fill="#261fb0" d="M368.8 685.7L369.6 678.1L370.7 670.6L371.9 663L373.3 655.5L374.9 648.1L336.9 638.3L335.1 646.6L333.5 655L332.1 663.5L330.9 671.9L329.9 680.4Z"/>
<path fill="#251dae" d="M367.1 723.7L367.1 716.1L367.2 708.5L367.6 700.9L368.1 693.3L368.8 685.7L329.9 680.4L329.1 688.9L328.5 697.4L328.1 705.9L327.9 714.4L327.9 722.9Z"/>
<path fill="#251bac" d="M369.8 761.4L368.9 753.9L368.2 746.4L367.6 738.8L367.3 731.3L367.1 723.7L327.5 722.9L327.7 731.4L328.1 739.9L328.7 748.4L329.4 756.8L330.4 765.3Z"/>
<path fill="#251aaa" d="M376.9 798.5L375.1 791.1L373.5 783.8L372.1 776.4L370.9 768.9L369.8 761.4L330.4 765.3L331.6 773.7L333 782L334.5 790.3L336.3 798.6L338.2 806.9Z"/>
<path fill="#2418a8" d="M388.2 834.3L385.6 827.3L383.2 820.1L380.9 813L378.8 805.8L376.9 798.5L324.4 809.8L326.6 818.3L329 826.8L331.6 835.1L334.4 843.4L337.4 851.7Z"/>
<path fill="#2416a6" d="M403.5 868.4L400.1 861.8L396.9 855L393.8 848.2L390.9 841.3L388.2 834.3L337.4 851.7L340.6 859.8L343.9 867.9L347.5 875.9L351.2 883.8L355.1 891.6Z"/>
<path fill="#2415a4" d="M422.6 900.4L418.5 894.2L414.5 887.9L410.7 881.5L407 875L403.5 868.4L355.1 891.6L359.2 899.3L363.4 906.9L367.8 914.4L372.4 921.8L377.2 929Z"/>
<path fill="#2314a2" d="M445.2 929.9L440.4 924.2L435.7 918.4L431.2 912.5L426.8 906.5L422.6 900.4L377.2 929L382.1 936.2L387.2 943.2L392.5 950.1L397.9 956.9L403.4 963.6Z"/>
<path fill="#23129f" d="M471 956.4L465.6 951.3L460.3 946.2L455.1 940.9L450.1 935.4L445.2 929.9L403.1 963.8L408.8 970.3L414.7 976.7L420.7 982.9L426.8 989L433.1 995Z"/>
<path fill="#23119d" d="M499.5 979.6L493.6 975.3L487.8 970.8L482.1 966.1L476.5 961.3L471 956.4L433.1 995L439.5 1000.8L446.1 1006.4L452.7 1011.9L459.5 1017.2L466.4 1022.3Z"/>
<path fill="#22109b" d="M530.5 999.3L524.1 995.7L517.8 991.9L511.6 988L505.5 983.9L499.5 979.6L465 1024.2L472.1 1029.2L479.2 1034L486.5 1038.7L493.9 1043.2L501.4 1047.5Z"/>
<path fill="#220e98" d="M563.4 1015.2L557.8 1012.8L552.2 1010.4L546.7 1007.8L541.2 1005.1L535.8 1002.2L530.5 999.3L501.4 1047.5L507.7 1051L514 1054.4L520.4 1057.6L526.9 1060.7L533.5 1063.7L540 1066.5Z"/>
<path fill="#220d96" d="M597.7 1027.1L590.8 1025.1L583.8 1022.9L577 1020.5L570.1 1017.9L563.4 1015.2L539.6 1067.5L547.6 1070.8L555.6 1073.8L563.8 1076.7L571.9 1079.4L580.2 1081.9Z"/>
<path fill="#210d94" d="M633.1 1034.9L626 1033.7L618.9 1032.3L611.8 1030.8L604.7 1029L597.7 1027.1L580.2 1081.9L588.5 1084.1L596.8 1086.2L605.2 1088.1L613.6 1089.8L622 1091.3Z"/>
<path fill="#210c92" d="M669 1038.6L661.8 1038.2L654.6 1037.6L647.4 1036.9L640.3 1036L633.1 1034.9L621.9 1092.1L630.4 1093.4L638.9 1094.5L647.4 1095.4L656 1096.1L664.5 1096.6Z"/>
<path fill="#210b90" d="M705 1038L697.8 1038.4L690.6 1038.7L683.4 1038.8L676.2 1038.8L669 1038.6L664.5 1096.6L673.1 1096.9L681.6 1097L690.2 1096.9L698.7 1096.7L707.2 1096.2Z"/>
<path fill="#200b8e" d="M740.4 1033.3L733.4 1034.5L726.3 1035.7L719.2 1036.6L712.1 1037.4L705 1038L707.7 1109.5L716.5 1108.8L725.3 1107.9L734.1 1106.8L742.8 1105.5L751.5 1104Z"/>
<path fill="#200a8c" d="M775 1024.5L768.2 1026.6L761.3 1028.5L754.4 1030.2L747.4 1031.8L740.4 1033.3L751.5 1104L760.1 1102.2L768.7 1100.3L777.3 1098.2L785.7 1095.9L794.2 1093.4Z"/>
<path fill="#200a8a" d="M808.1 1011.8L801.6 1014.7L795.1 1017.3L788.4 1019.9L781.7 1022.3L775 1024.5L794.5 1094.5L802.9 1091.8L811.2 1088.9L819.4 1085.8L827.6 1082.6L835.6 1079.1Z"/>
<path fill="#1f0986" d="M839.5 995.4L833.4 999L827.2 1002.4L820.9 1005.7L814.6 1008.8L808.1 1011.8L835.6 1079.1L843.6 1075.5L851.5 1071.6L859.3 1067.6L867 1063.4L874.6 1059.1Z"/>
<path fill="#1f0984" d="M868.5 975.6L862.9 979.8L857.2 983.9L851.4 987.9L845.5 991.7L839.5 995.4L875.1 1060.1L882.6 1055.5L890 1050.8L897.3 1045.9L904.4 1040.9L911.5 1035.7Z"/>
<path fill="#1f0980" d="M895 952.6L889.9 957.5L884.8 962.2L879.5 966.8L874.1 971.2L868.5 975.6L911.5 1035.7L918.4 1030.3L925.1 1024.8L931.8 1019.1L938.3 1013.3L944.6 1007.3Z"/>
<path fill="#1e087e" d="M918.5 926.8L914.1 932.2L909.5 937.5L904.8 942.6L900 947.7L895 952.6L943.1 1005.6L949.3 999.5L955.3 993.3L961.2 987L966.9 980.5L972.4 973.9Z"/>
<path fill="#1e087a" d="M938.8 898.6L935 904.4L931.1 910.2L927.1 915.8L922.9 921.4L918.5 926.8L972.4 973.9L977.8 967.1L983.1 960.3L988.2 953.3L993.1 946.2L997.8 939.1Z"/>
<path fill="#1e0877" d="M955.6 868.3L952.5 874.5L949.3 880.7L946 886.7L942.5 892.7L938.8 898.6L997.2 938.6L1001.8 931.4L1006.1 924L1010.3 916.5L1014.4 909L1018.2 901.3Z"/>
<path fill="#1d0773" d="M968.7 836.4L966.4 842.9L963.9 849.4L961.3 855.7L958.5 862.1L955.6 868.3L1018.2 901.3L1021.9 893.6L1025.4 885.8L1028.7 877.9L1031.8 870L1034.7 861.9Z"/>
<path fill="#1d0770" d="M978 803.4L976.4 810.1L974.7 816.7L972.9 823.3L970.9 829.9L968.7 836.4L1033.3 861.4L1036 853.4L1038.6 845.3L1040.9 837.1L1043.1 828.9L1045 820.7Z"/>
<path fill="#1d076c" d="M983.3 769.7L982.6 776.4L981.6 783.2L980.6 790L979.4 796.7L978 803.4L1045 820.7L1046.8 812.4L1048.4 804.1L1049.8 795.8L1050.9 787.4L1051.9 779Z"/>
<path fill="#1c0668" d="M984.7 735.7L984.7 742.5L984.6 749.3L984.3 756.1L983.9 762.9L983.3 769.7L1048.2 778.5L1048.9 770.2L1049.5 761.9L1049.9 753.6L1050.1 745.2L1050.1 736.9Z"/>
<path fill="#1c0665" d="M982.1 701.9L982.9 708.6L983.6 715.3L984.1 722.1L984.5 728.9L984.7 735.7L1050.1 736.9L1049.9 728.6L1049.6 720.3L1049 712L1048.2 703.8L1047.3 695.5Z"/>
<path fill="#1b0661" d="M975.6 668.8L977.2 675.3L978.7 681.9L980 688.5L981.1 695.2L982.1 701.9L1040.4 696.2L1039.3 688.2L1038 680.2L1036.5 672.2L1034.8 664.2L1032.9 656.4Z"/>
<path fill="#1b055e" d="M965.4 636.8L967.8 643.1L970 649.4L972 655.8L973.9 662.3L975.6 668.8L1032.9 656.4L1030.9 648.5L1028.6 640.8L1026.2 633L1023.6 625.4L1020.9 617.8Z"/>
<path fill="#1a055b" d="M951.6 606.3L954.7 612.3L957.6 618.3L960.3 624.4L962.9 630.6L965.4 636.8L1009.7 621.6L1006.9 614.4L1003.9 607.2L1000.7 600.1L997.3 593.1L993.8 586.1Z"/>
<path fill="#190557" d="M934.4 577.8L938.1 583.4L941.7 589L945.1 594.7L948.4 600.5L951.6 606.3L993.8 586.1L990.2 579.3L986.4 572.5L982.4 565.9L978.3 559.3L974 552.9Z"/>
<path fill="#190454" d="M914.2 551.6L918.4 556.7L922.6 561.8L926.7 567L930.6 572.4L934.4 577.8L970.2 555.3L965.8 549L961.3 542.9L956.7 536.8L951.9 530.9L947 525.1Z"/>
<path fill="#180451" d="M891.1 528.1L895.1 531.8L899.1 535.6L902.9 539.5L906.8 543.5L910.5 547.5L914.2 551.6L947 525.1L942.8 520.4L938.6 515.7L934.2 511.1L929.8 506.6L925.2 502.2L920.6 497.9Z"/>
<path fill="#17044d" d="M865.5 507.4L870.8 511.3L876 515.3L881.1 519.4L886.1 523.7L891.1 528.1L918 500.6L912.4 495.6L906.7 490.8L900.9 486.1L895 481.5L889 477.1Z"/>
<path fill="#17044a" d="M837.8 490L843.5 493.2L849.1 496.6L854.7 500.1L860.1 503.7L865.5 507.4L889 477.1L883 472.8L876.8 468.6L870.5 464.6L864.1 460.8L857.7 457.1Z"/>
<path fill="#160447" d="M808.5 476L814.5 478.5L820.4 481.2L826.3 484L832.1 486.9L837.8 490L857.7 457.1L851.2 453.6L844.6 450.2L837.9 446.9L831.2 443.9L824.4 441Z"/>
<path fill="#150443" d="M777.8 465.5L784 467.3L790.2 469.2L796.3 471.3L802.4 473.6L808.5 476L824.4 441L817.5 438.2L810.6 435.6L803.6 433.2L796.6 431L789.5 428.9Z"/>
<path fill="#150440" d="M746.3 458.7L752.6 459.7L759 460.9L765.3 462.3L771.6 463.8L777.8 465.5L789.1 430.3L782 428.4L774.9 426.7L767.8 425.1L760.6 423.7L753.4 422.4Z"/>
<path fill="#14043d" d="M714.3 455.6L720.7 455.9L727.1 456.4L733.5 457L739.9 457.8L746.3 458.7L753.4 422.4L746.2 421.4L739 420.5L731.7 419.7L724.5 419.2L717.2 418.8Z"/>
<path fill="#130439" d="M682.4 456.2L688.7 455.8L695.1 455.5L701.5 455.4L707.9 455.4L714.3 455.6L717.2 418.8L709.9 418.6L702.7 418.5L695.4 418.6L688.2 418.9L680.9 419.3Z"/>
<path fill="#110435" d="M650.9 460.6L657.1 459.4L663.4 458.4L669.7 457.5L676 456.8L682.4 456.2L680.9 419.3L673.7 420L666.5 420.7L659.4 421.7L652.3 422.8L645.2 424.1Z"/>
<path fill="#100431" d="M620.2 468.5L626.2 466.6L632.3 464.9L638.5 463.3L644.6 461.9L650.9 460.6L645.2 424.5L638.2 425.9L631.2 427.5L624.2 429.3L617.3 431.2L610.4 433.3Z"/>
<path fill="#0e042d" d="M590.8 479.9L596.6 477.3L602.4 474.9L608.3 472.7L614.2 470.5L620.2 468.5L610.4 433.3L603.6 435.6L596.9 438L590.2 440.5L583.6 443.2L577 446.1Z"/>
<path fill="#0b0324" d="M563.1 494.6L568.5 491.4L574 488.3L579.5 485.4L585.1 482.6L590.8 479.9L576.6 445L570.1 448L563.7 451.2L557.3 454.5L551.1 458L544.9 461.6Z"/>
<path fill="#08021b" d="M537.4 512.3L542.3 508.5L547.4 504.8L552.5 501.3L557.8 497.9L563.1 494.6L544.9 461.6L538.8 465.3L532.8 469.2L526.9 473.2L521.1 477.3L515.5 481.6Z"/>
</g>
<circle cx="695" cy="1038.6" r="14.8" fill="#adabab"/>
<circle cx="482.1" cy="1050.3" r="14.8" fill="#adabab"/>
<circle cx="271" cy="908.9" r="14.8" fill="#adabab"/>
<circle cx="166.2" cy="649.6" r="14.8" fill="#adabab"/>
<circle cx="230.7" cy="336" r="14.8" fill="#adabab"/>
<g fill="none" stroke="#adabab" stroke-width="1">
<path d="M524.1 493.7L529.5 489.6L535 485.7L540.6 481.8L546.3 478.1L552.1 474.6L557.9 471.1L563.9 467.8L569.9 464.7L576 461.6L582.2 458.8L588.4 456L594.8 453.4L601.1 451L607.6 448.7L614.1 446.5L620.6 444.5L627.2 442.6L633.9 440.9L640.6 439.4L647.3 438L654.1 436.8L660.9 435.7L667.7 434.8L674.6 434L681.5 433.4L688.4 433L695.3 432.7L702.2 432.6L709.2 432.6L716.1 432.8L723 433.2L730 433.7L736.9 434.4L743.8 435.3L750.7 436.3L757.6 437.4L764.4 438.8L771.2 440.3L778 441.9L784.8 443.7L791.5 445.7L798.2 447.8L804.8 450.1L811.4 452.6L817.9 455.2L824.4 457.9L830.8 460.8L837.1 463.9L843.4 467.1L849.6 470.4L855.8 473.9L861.8 477.6L867.8 481.4L873.7 485.3L879.5 489.4L885.2 493.6L890.8 497.9L896.3 502.4L901.7 507L907 511.8L912.2 516.6L917.3 521.6L922.3 526.7L927.2 531.9L931.9 537.3L936.5 542.7L941 548.3L945.4 554L949.6 559.8L953.7 565.6L957.7 571.6L961.6 577.7L965.2 583.9L968.8 590.1L972.2 596.5L975.5 602.9L978.6 609.4L981.6 616L984.4 622.7L987 629.4L989.5 636.2L991.9 643L994.1 649.9L996.1 656.9L998 663.9L999.7 671L1001.2 678.1L1002.6 685.3L1003.8 692.4L1004.8 699.7L1005.7 706.9L1006.4 714.2L1006.9 721.5L1007.3 728.8L1007.5 736.1L1007.5 743.4L1007.4 750.7L1007.1 758.1L1006.6 765.4L1005.9 772.7L1005.1 780L1004.1 787.3L1002.9 794.6L1001.6 801.9L1000.1 809.1L998.4 816.3L996.6 823.4L994.5 830.5L992.4 837.6L990 844.7L987.5 851.6L984.8 858.6L982 865.4L979 872.2L975.8 878.9L972.5 885.6L969 892.2L965.4 898.7L961.6 905.1L957.7 911.5L953.6 917.7L949.3 923.9L945 930L940.4 936L935.8 941.8L930.9 947.6L926 953.2L920.9 958.8L915.7 964.2L910.4 969.5L904.9 974.7L899.3 979.8L893.6 984.7L887.8 989.5L881.8 994.2L875.8 998.7L869.6 1003.1L863.4 1007.3L857 1011.4L850.5 1015.4L843.9 1019.2L837.3 1022.9L830.5 1026.4L823.7 1029.7L816.8 1032.9L809.8 1036L802.7 1038.8L795.6 1041.6L788.4 1044.1L781.1 1046.5L773.8 1048.7L766.4 1050.7L759 1052.6L751.5 1054.3L744 1055.8L736.4 1057.2L728.8 1058.3L721.2 1059.3L713.5 1060.2L705.9 1060.8L698.2 1061.3L690.5 1061.6L682.7 1061.7L675 1061.6L667.3 1061.3L659.5 1060.9L651.8 1060.3L644.1 1059.5L636.4 1058.5L628.7 1057.3L621.1 1056L613.5 1054.5L605.9 1052.8L598.3 1050.9L590.8 1048.9L583.3 1046.7L575.9 1044.3L568.5 1041.7L561.2 1038.9L553.9 1036L546.7 1032.9L539.6 1029.7L532.6 1026.2L525.6 1022.6L518.7 1018.9L511.9 1015L505.2 1010.9L498.5 1006.7L492 1002.3L485.6 997.7L479.2 993L473 988.2L466.9 983.2L460.9 978L455 972.7L449.2 967.3L443.6 961.7L438.1 956L432.7 950.2L427.4 944.2L422.3 938.2L417.4 932L412.5 925.6L407.8 919.2L403.3 912.6L398.9 906L394.7 899.2L390.6 892.3L386.7 885.4L382.9 878.3L379.3 871.2L375.9 863.9L372.6 856.6L369.5 849.2L366.6 841.7L363.8 834.2L361.2 826.6L358.8 818.9L356.6 811.1L354.6 803.4L352.7 795.5L351 787.6L349.5 779.7L348.2 771.7L347.1 763.7L346.1 755.7L345.4 747.6L344.8 739.5L344.4 731.4L344.2 723.3L344.2 715.2L344.4 707L344.8 698.9L345.4 690.8L346.1 682.7L347.1 674.6L348.2 666.5L349.5 658.4L351 650.4L352.7 642.4L354.6 634.4L356.7 626.5L359 618.6L361.4 610.8L364 603L366.8 595.3L369.8 587.7L373 580.1L376.3 572.6L379.9 565.1L383.6 557.8L387.4 550.5L391.5 543.3L395.7 536.2L400.1 529.2L404.6 522.3L409.3 515.4L414.2 508.7L419.2 502.2L424.4 495.7L429.8 489.3L435.2 483.1L440.9 477L446.7 471L452.6 465.1L458.6 459.4L464.8 453.9L471.2 448.4L477.6 443.1L484.2 438L490.9 433L497.8 428.2L504.7 423.5L511.8 419L518.9 414.6L526.2 410.4L533.6 406.4L541 402.6L548.6 398.9L556.2 395.4L564 392L571.8 388.9L579.7 385.9L587.6 383.1L595.7 380.5L603.8 378.1L611.9 375.9L620.1 373.8L628.4 372L636.7 370.3L645 368.9L653.4 367.6L661.8 366.5L670.3 365.7L678.8 365L687.3 364.5L695.8 364.2L704.3 364.1L712.8 364.2L721.3 364.5L729.9 365L738.4 365.7L746.9 366.6L755.4 367.7L763.8 369L772.3 370.5L780.7 372.2L789 374.1L797.4 376.2L805.6 378.5L813.9 381L822 383.6L830.2 386.5L838.2 389.5L846.2 392.8L854.1 396.2L862 399.8L869.7 403.6L877.4 407.6L885 411.8L892.5 416.1L899.9 420.6L907.1 425.3L914.3 430.2L921.4 435.2L928.4 440.4L935.2 445.8L941.9 451.3L948.5 457L955 462.8L961.3 468.8L967.5 474.9L973.5 481.2L979.4 487.7L985.2 494.2L990.8 500.9L996.3 507.8L1001.6 514.7L1006.7 521.8L1011.7 529.1L1016.5 536.4L1021.1 543.9L1025.6 551.4L1029.9 559.1L1034 566.9L1037.9 574.7L1041.7 582.7L1045.2 590.8L1048.6 598.9L1051.8 607.1L1054.8 615.5L1057.6 623.8L1060.2 632.3L1062.7 640.8L1064.9 649.4L1066.9 658L1068.7 666.7L1070.4 675.4L1071.8 684.2L1073 693L1074 701.8L1074.8 710.7L1075.4 719.5L1075.8 728.4L1076 737.3L1076 746.3L1075.7 755.2L1075.3 764.1L1074.7 773L1073.8 781.9L1072.8 790.8L1071.5 799.7L1070 808.5L1068.3 817.3L1066.4 826.1L1064.3 834.8L1062 843.5L1059.5 852.2L1056.8 860.7L1053.9 869.3L1050.8 877.7L1047.5 886.1L1044 894.4L1040.3 902.7L1036.5 910.8L1032.4 918.9L1028.1 926.9L1023.6 934.7L1019 942.5L1014.2 950.2L1009.2 957.7L1004 965.2L998.6 972.5L993.1 979.7L987.4 986.8L981.5 993.8L975.5 1000.6L969.3 1007.3L963 1013.8L956.5 1020.2L949.8 1026.4L943 1032.5L936 1038.5L929 1044.2L921.7 1049.8L914.4 1055.3L906.9 1060.6L899.3 1065.7L891.5 1070.6L883.7 1075.3L875.7 1079.9L867.6 1084.3L859.4 1088.5L851.1 1092.5L842.8 1096.3L834.3 1099.9L825.7 1103.4L817.1 1106.6L808.4 1109.6L799.6 1112.5L790.7 1115.1L781.8 1117.5L772.8 1119.7L763.7 1121.7L754.6 1123.5L745.5 1125.1L736.3 1126.4L727.1 1127.6L717.9 1128.5L708.6 1129.3L699.3 1129.8L690 1130.1L680.7 1130.1L671.4 1130L662 1129.6L652.7 1129.1L643.4 1128.3L634.1 1127.2L624.9 1126L615.6 1124.6L606.4 1122.9L597.2 1121L588.1 1119L579 1116.6L569.9 1114.1L561 1111.4L552 1108.5L543.2 1105.3L534.4 1102L525.7 1098.4L517 1094.6L508.5 1090.7L500 1086.5L491.6 1082.1L483.4 1077.6L475.2 1072.8L467.1 1067.9L459.2 1062.7L451.4 1057.4L443.7 1051.9L436.1 1046.2L428.6 1040.3L421.3 1034.3L414.1 1028.1L407.1 1021.7L400.2 1015.1L393.5 1008.4L386.9 1001.5L380.4 994.5L374.2 987.3L368.1 980L362.1 972.5L356.4 964.9L350.8 957.1L345.4 949.2L340.2 941.2L335.1 933.1L330.3 924.8L325.6 916.4L321.1 907.9L316.9 899.3L312.8 890.6L308.9 881.8L305.3 873L301.8 864L298.5 854.9L295.5 845.8L292.7 836.6L290 827.3L287.6 817.9L285.5 808.5L283.5 799.1L281.7 789.5L280.2 780L278.9 770.4L277.8 760.8L277 751.1L276.3 741.4L275.9 731.7L275.8 722L275.8 712.3L276.1 702.6L276.6 692.9L277.3 683.2L278.2 673.5L279.4 663.8L280.8 654.1L282.5 644.5L284.3 634.9L286.4 625.4L288.7 615.9L291.2 606.4L294 597L296.9 587.7L300.1 578.4L303.5 569.2L307.1 560.1L310.9 551.1L315 542.1L319.2 533.3L323.7 524.5L328.3 515.8L333.2 507.3L338.3 498.8L343.5 490.5L349 482.3L354.7 474.2L360.5 466.2L366.5 458.4L372.8 450.7L379.2 443.2L385.7 435.7L392.5 428.5L399.4 421.4L406.5 414.5L413.8 407.7L421.2 401.1L428.7 394.7L436.5 388.4L444.3 382.3L452.3 376.4L460.5 370.7L468.8 365.2L477.2 359.8L485.8 354.7L494.4 349.7L503.2 345L512.1 340.5L521.1 336.1L530.2 332L539.5 328.1L548.8 324.4L558.2 320.9L567.7 317.6L577.2 314.6L586.9 311.7L596.6 309.1L606.3 306.8L616.1 304.6L626 302.7L636 301L645.9 299.5L655.9 298.3L666 297.3L676 296.5L686.1 296L696.2 295.7L706.3 295.6L716.5 295.8L726.6 296.2L736.7 296.9L746.8 297.8L756.9 298.9L766.9 300.2L776.9 301.8L786.9 303.6L796.9 305.7L806.8 308L816.7 310.5L826.5 313.2L836.2 316.2L845.9 319.4L855.5 322.9L865 326.5L874.5 330.4L883.8 334.5L893.1 338.8L902.3 343.4L911.3 348.1L920.3 353.1L929.1 358.3L937.9 363.6L946.5 369.2L955 375L963.3 381L971.5 387.2L979.6 393.6L987.5 400.2L995.3 406.9L1002.9 413.8L1010.3 421L1017.6 428.3L1024.7 435.7L1031.7 443.4L1038.5 451.2L1045.1 459.1L1051.5 467.2L1057.7 475.5L1063.7 483.9L1069.6 492.5L1075.2 501.2L1080.7 510L1085.9 519L1090.9 528L1095.7 537.2L1100.4 546.6L1104.7 556L1108.9 565.5L1112.9 575.2L1116.6 584.9L1120.1 594.7L1123.4 604.6L1126.4 614.6L1129.2 624.7L1131.8 634.8L1134.2 645L1136.3 655.2L1138.1 665.5L1139.8 675.9L1141.2 686.2L1142.3 696.7L1143.2 707.1L1143.9 717.6L1144.3 728.1L1144.5 738.6L1144.4 749.1L1144.1 759.6L1143.5 770.1L1142.7 780.6L1141.7 791.1L1140.4 801.6L1138.9 812L1137.1 822.4L1135.1 832.8L1132.8 843.1L1130.3 853.4L1127.5 863.6L1124.6 873.8L1121.3 883.8L1117.9 893.9L1114.2 903.8L1110.2 913.7L1106.1 923.4L1101.7 933.1L1097.1 942.7L1092.3 952.1L1087.2 961.5L1081.9 970.7L1076.4 979.9L1070.7 988.9L1064.8 997.7L1058.7 1006.5L1052.3 1015L1045.8 1023.5L1039.1 1031.8L1032.1 1039.9L1025 1047.9L1017.7 1055.7L1010.2 1063.4L1002.6 1070.9L994.7 1078.2L986.7 1085.3L978.5 1092.2L970.1 1099L961.6 1105.5L953 1111.9L944.1 1118L935.2 1124L926.1 1129.7L916.8 1135.3L907.5 1140.6L898 1145.7L888.3 1150.6L878.6 1155.3L868.7 1159.7L858.8 1163.9L848.7 1167.9L838.6 1171.6L828.3 1175.1L818 1178.4L807.6 1181.5L797.1 1184.2L786.6 1186.8L776 1189.1L765.3 1191.2L754.6 1193L743.8 1194.5L733 1195.8L722.2 1196.9L711.3 1197.7L700.5 1198.3L689.6 1198.6L678.6 1198.6L667.7 1198.4L656.8 1197.9L645.9 1197.2L635 1196.2L624.2 1195L613.3 1193.5L602.5 1191.8L591.7 1189.8L581 1187.6L570.3 1185.1L559.7 1182.4L549.1 1179.4L538.6 1176.2L528.2 1172.7L517.8 1169L507.6 1165L497.4 1160.8L487.3 1156.4L477.3 1151.7L467.5 1146.8L457.7 1141.6L448 1136.3L438.5 1130.7L429.1 1124.9L419.9 1118.8L410.7 1112.6L401.8 1106.1L392.9 1099.4L384.3 1092.5L375.7 1085.4L367.4 1078.1L359.2 1070.6L351.2 1063L343.3 1055.1L335.7 1047L328.2 1038.8L320.9 1030.4L313.8 1021.8L306.9 1013L300.2 1004.1L293.8 995.1L287.5 985.8L281.4 976.5L275.6 966.9L270 957.3L264.6 947.5L259.4 937.6L254.4 927.5L249.7 917.4L245.2 907.1L241 896.7L237 886.2L233.3 875.7L229.8 865L226.5 854.2L223.5 843.4L220.7 832.5L218.2 821.5L216 810.5L214 799.4L212.2 788.3L210.7 777.1L209.5 765.9L208.6 754.7L207.9 743.4L207.4 732.1L207.3 720.8L207.4 709.5L207.7 698.2L208.3 686.9L209.2 675.6L210.4 664.3L211.8 653L213.4 641.8L215.4 630.6L217.6 619.5L220 608.4L222.7 597.4L225.7 586.4L228.9 575.5L232.4 564.6L236.2 553.9L240.2 543.2L244.4 532.6L248.9 522.1L253.6 511.7L258.6 501.4L263.8 491.2L269.2 481.2L274.9 471.3L280.9 461.5L287 451.8L293.4 442.3L300 432.9L306.8 423.7L313.8 414.6L321.1 405.7L328.5 397L336.2 388.4L344.1 380L352.1 371.8L360.4 363.8L368.8 356L377.5 348.3L386.3 340.9L395.3 333.7L404.4 326.6L413.7 319.8L423.2 313.2L432.9 306.8L442.6 300.7L452.6 294.8L462.7 289.1L472.9 283.6L483.2 278.4L493.7 273.4L504.3 268.6L514.9 264.1L525.8 259.9L536.7 255.8L547.7 252.1L558.8 248.6L569.9 245.4L581.2 242.4L592.5 239.7L603.9 237.2L615.3 235L626.9 233.1L638.4 231.4L650 230L661.6 228.9L673.3 228.1L685 227.5L696.7 227.2L708.4 227.2L720.1 227.4L731.8 227.9L743.5 228.7L755.2 229.8L766.8 231.1L778.5 232.7L790.1 234.6L801.6 236.7L813.1 239.1L824.6 241.8L836 244.8L847.3 248L858.6 251.5L869.7 255.2L880.8 259.2L891.8 263.5L902.7 268L913.5 272.8L924.2 277.8L934.8 283.1L945.3 288.6L955.6 294.4L965.8 300.4L975.9 306.7L985.8 313.1L995.6 319.9L1005.2 326.8L1014.6 334L1023.9 341.4L1033 349L1042 356.8L1050.8 364.9L1059.3 373.1L1067.7 381.6L1075.9 390.2L1083.9 399.1L1091.7 408.1L1099.3 417.3L1106.7 426.7L1113.8 436.2L1120.8 446L1127.5 455.9L1133.9 465.9L1140.2 476.1L1146.2 486.5L1152 497L1157.5 507.6L1162.8 518.4L1167.8 529.3L1172.6 540.3L1177.1 551.4L1181.4 562.6L1185.4 574L1189.1 585.4L1192.6 596.9L1195.8 608.5L1198.7 620.2L1201.4 631.9L1203.8 643.7L1205.9 655.6L1207.8 667.5L1209.3 679.5L1210.6 691.5L1211.6 703.6L1212.4 715.6L1212.8 727.7L1213 739.8L1212.9 751.9L1212.5 764L1211.8 776.1L1210.8 788.2L1209.6 800.3L1208 812.3L1206.2 824.3L1204.2 836.3L1201.8 848.2L1199.1 860.1L1196.2 871.9L1193 883.7L1189.6 895.3L1185.8 906.9L1181.8 918.4L1177.5 929.9L1173 941.2L1168.2 952.4L1163.1 963.5L1157.8 974.5L1152.2 985.4L1146.3 996.1L1140.2 1006.7L1133.9 1017.2L1127.3 1027.5L1120.4 1037.7L1113.4 1047.7L1106.1 1057.6L1098.5 1067.2L1090.8 1076.7L1082.8 1086.1L1074.6 1095.2L1066.1 1104.2L1057.5 1113L1048.7 1121.5L1039.6 1129.9L1030.4 1138L1021 1146L1011.3 1153.7L1001.5 1161.2L991.6 1168.5L981.4 1175.5L971.1 1182.3L960.6 1188.9L950 1195.2L939.2 1201.3L928.3 1207.1L917.3 1212.7L906.1 1218L894.8 1223.1L883.3 1227.9L871.8 1232.4L860.1 1236.7L848.3 1240.7L836.5 1244.4L824.5 1247.8L812.5 1251L800.4 1253.9L788.2 1256.5L776 1258.8L763.7 1260.9L751.4 1262.6L739 1264.1L726.6 1265.3L714.1 1266.1L701.6 1266.7L689.1 1267L676.6 1267.1L664.1 1266.8L651.6 1266.2L639.1 1265.4L626.7 1264.2L614.2 1262.8L601.8 1261.1L589.4 1259L577.1 1256.7L564.8 1254.1L552.6 1251.3L540.4 1248.1L528.3 1244.6L516.3 1240.9L504.4 1236.9L492.5 1232.6L480.8 1228L469.1 1223.2L457.6 1218.1L446.2 1212.7L434.9 1207.1L423.8 1201.1L412.7 1195L401.9 1188.5L391.1 1181.8L380.6 1174.9L370.1 1167.7L359.9 1160.3L349.8 1152.6L339.9 1144.7L330.2 1136.6L320.6 1128.2L311.3 1119.6L302.2 1110.8L293.2 1101.8L284.5 1092.5L276 1083.1L267.7 1073.5L259.6 1063.6L251.7 1053.6L244.1 1043.4L236.7 1033L229.6 1022.4L222.7 1011.7L216 1000.8L209.7 989.8L203.5 978.6L197.6 967.2L192 955.7L186.7 944.1L181.6 932.4L176.8 920.5L172.2 908.5L168 896.4L164 884.2L160.3 872L156.9 859.6L153.8 847.1L151 834.6L148.4 822L146.2 809.3L144.2 796.6L142.6 783.9L141.2 771.1L140.2 758.2L139.4 745.4L138.9 732.5L138.8 719.6L138.9 706.7L139.4 693.8L140.1 680.9L141.1 668L142.5 655.1L144.1 642.3L146.1 629.5L148.3 616.8L150.8 604.1L153.7 591.4L156.8 578.8L160.2 566.3L163.9 553.9L167.9 541.5L172.2 529.3L176.8 517.1L181.7 505.1L186.8 493.1L192.2 481.3L197.9 469.6L203.9 458L210.1 446.6L216.6 435.3L223.4 424.2L230.4 413.2L237.7 402.3L245.3 391.7L253.1 381.2L261.1 370.9L269.4 360.8L277.9 350.9L286.7 341.1L295.7 331.6L304.9 322.3L314.3 313.2L323.9 304.3L333.8 295.6L343.8 287.2L354.1 279L364.5 271L375.1 263.3L385.9 255.8L396.9 248.5L408.1 241.6L419.4 234.8L430.9 228.4L442.5 222.2L454.3 216.3L466.2 210.6L478.2 205.2L490.4 200.2L502.7 195.3L515.1 190.8L527.6 186.6L540.3 182.6L553 179L565.8 175.6L578.7 172.6L591.6 169.8L604.6 167.4L617.7 165.2L630.9 163.4L644 161.8L657.3 160.6L670.5 159.6L683.8 159L697.1 158.7L710.4 158.7L723.7 159L737 159.6L750.3 160.5L763.5 161.8L776.8 163.3L790 165.2L803.1 167.3L816.3 169.8L829.3 172.6L842.3 175.7L855.2 179L868.1 182.7L880.9 186.7L893.5 191L906.1 195.6L918.6 200.4L931 205.6L943.2 211L955.3 216.8L967.3 222.8L979.2 229.1L990.9 235.7L1002.5 242.5L1013.9 249.6L1025.1 257L1036.2 264.7L1047 272.6L1057.8 280.8L1068.3 289.2L1078.6 297.8L1088.7 306.7L1098.6 315.9L1108.3 325.3L1117.8 334.9L1127.1 344.7L1136.1 354.7L1145 365L1153.5 375.4L1161.9 386.1L1169.9 397L1177.8 408L1185.3 419.2L1192.7 430.6L1199.7 442.2L1206.5 454L1213 465.9L1219.2 477.9L1225.2 490.2L1230.9 502.5L1236.2 515L1241.3 527.6L1246.1 540.3L1250.6 553.2L1254.9 566.1L1258.8 579.2L1262.4 592.3L1265.7 605.6L1268.7 618.9L1271.3 632.3L1273.7 645.7L1275.8 659.2L1277.5 672.8L1278.9 686.4L1280 700L1280.8 713.6L1281.3 727.3L1281.5 741L1281.3 754.7L1280.8 768.4L1280 782.1L1278.9 795.8L1277.5 809.4L1275.7 823L1273.6 836.6L1271.2 850.2L1268.5 863.6L1265.5 877.1L1262.2 890.4L1258.5 903.7L1254.6 916.9L1250.3 930L1245.8 943L1240.9 955.9L1235.7 968.7L1230.2 981.3L1224.5 993.9L1218.4 1006.3L1212.1 1018.6L1205.4 1030.7L1198.5 1042.7L1191.3 1054.5L1183.8 1066.1L1176.1 1077.6L1168.1 1088.9L1159.8 1100L1151.2 1111L1142.4 1121.7L1133.4 1132.2L1124.1 1142.5L1114.6 1152.6L1104.8 1162.5L1094.8 1172.2L1084.6 1181.6L1074.1 1190.8L1063.4 1199.7L1052.6 1208.4L1041.5 1216.8L1030.2 1225L1018.7 1233L1007.1 1240.6L995.2 1248L983.2 1255.1L971 1262L958.7 1268.5L946.2 1274.8L933.6 1280.7L920.8 1286.4L907.9 1291.8L894.8 1296.9L881.6 1301.7L868.4 1306.2L855 1310.3L841.5 1314.2L827.9 1317.7L814.3 1321L800.5 1323.9L786.7 1326.5L772.8 1328.7L758.9 1330.7L744.9 1332.3L730.9 1333.6L716.9 1334.6L702.8 1335.2L688.7 1335.5L674.6 1335.5L660.5 1335.2L646.4 1334.5L632.4 1333.5L618.3 1332.2L604.3 1330.6L590.3 1328.6L576.3 1326.3L562.4 1323.7L548.6 1320.7L534.8 1317.4L521.1 1313.8L507.5 1309.9L494 1305.7L480.6 1301.1L467.2 1296.3L454 1291.1L440.9 1285.6L427.9 1279.8L415.1 1273.7L402.4 1267.3L389.9 1260.7L377.5 1253.7L365.2 1246.4L353.2 1238.9L341.3 1231L329.6 1222.9L318 1214.5L306.7 1205.9L295.6 1196.9L284.6 1187.7L273.9 1178.3L263.4 1168.6L253.2 1158.7L243.1 1148.5L233.3 1138.1L223.7 1127.4L214.4 1116.6L205.4 1105.5L196.6 1094.2L188 1082.7L179.7 1071L171.7 1059.1L164 1047L156.5 1034.7L149.4 1022.3L142.5 1009.7L135.9 996.9L129.6 984L123.6 970.9L117.9 957.7L112.5 944.3L107.5 930.8L102.7 917.2L98.3 903.5L94.2 889.7L90.4 875.8L86.9 861.8L83.7 847.7L80.9 833.5L78.4 819.3L76.3 805L74.4 790.6L72.9 776.2L71.8 761.8L70.9 747.4L70.4 732.9L70.3 718.4L70.5 703.9L71 689.4L71.9 674.9L73.1 660.4L74.6 646L76.5 631.6L78.7 617.2L81.2 602.9L84.1 588.7L87.3 574.5L90.8 560.3L94.7 546.3L98.9 532.4L103.4 518.5L108.3 504.7L113.4 491.1L118.9 477.6L124.7 464.2L130.8 450.9L137.3 437.8L144 424.8L151 412L158.3 399.3L166 386.9L173.9 374.5L182.1 362.4L190.6 350.5L199.3 338.7L208.4 327.2L217.7 315.8L227.3 304.7L237.1 293.8L247.2 283.2L257.6 272.7L268.1 262.5L279 252.6L290 242.9L301.3 233.4L312.8 224.3L324.5 215.3L336.5 206.7L348.6 198.3L360.9 190.2L373.5 182.4L386.2 174.9L399.1 167.7L412.1 160.8L425.3 154.2L438.7 147.9L452.2 141.9L465.9 136.2L479.7 130.8L493.6 125.8L507.6 121.1L521.8 116.7L536 112.6L550.4 108.9L564.8 105.5L579.3 102.4"/>
<path d="M510.8 475.1L516.7 470.7L522.6 466.5L528.6 462.4L534.8 458.4L541 454.6L547.4 450.9L553.8 447.3L560.3 444L566.9 440.7L573.5 437.6L580.3 434.7L587.1 431.9L594 429.3L600.9 426.8L608 424.5L615 422.4L622.1 420.4L629.3 418.6L636.5 416.9L643.8 415.4L651.1 414.1L658.4 413L665.8 412L673.2 411.2L680.6 410.6L688 410.1L695.5 409.9L702.9 409.7L710.4 409.8L717.9 410.1L725.3 410.5L732.8 411.1L740.2 411.8L747.7 412.7L755.1 413.9L762.5 415.1L769.8 416.6L777.2 418.2L784.5 420L791.8 422L799 424.1L806.2 426.4L813.3 428.9L820.3 431.6L827.4 434.4L834.3 437.4L841.2 440.5L848 443.8L854.8 447.3L861.4 450.9L868 454.7L874.5 458.6L880.9 462.7L887.2 466.9L893.5 471.3L899.6 475.9L905.6 480.6L911.5 485.4L917.3 490.3L923 495.4L928.6 500.7L934.1 506.1L939.4 511.6L944.6 517.2L949.7 522.9L954.6 528.8L959.5 534.8L964.1 540.9L968.7 547.1L973.1 553.5L977.3 559.9L981.4 566.4L985.4 573.1L989.2 579.8L992.8 586.6L996.3 593.5L999.6 600.5L1002.8 607.6L1005.8 614.8L1008.6 622L1011.3 629.3L1013.8 636.6L1016.1 644.1L1018.3 651.6L1020.3 659.1L1022.1 666.7L1023.7 674.3L1025.2 682L1026.5 689.7L1027.6 697.4L1028.5 705.2L1029.2 713L1029.8 720.8L1030.1 728.7L1030.3 736.5L1030.3 744.4L1030.2 752.2L1029.8 760.1L1029.3 768L1028.6 775.8L1027.7 783.6L1026.6 791.5L1025.3 799.3L1023.8 807L1022.2 814.8L1020.4 822.5L1018.4 830.1L1016.2 837.8L1013.8 845.3L1011.3 852.9L1008.6 860.3L1005.7 867.8L1002.7 875.1L999.4 882.4L996 889.6L992.4 896.7L988.7 903.8L984.8 910.7L980.7 917.6L976.5 924.4L972.1 931.1L967.5 937.7L962.8 944.2L958 950.6L953 956.8L947.8 963L942.5 969L937 975L931.5 980.8L925.7 986.4L919.9 992L913.9 997.4L907.7 1002.6L901.5 1007.8L895.1 1012.7L888.6 1017.6L882 1022.3L875.3 1026.8L868.5 1031.2L861.5 1035.4L854.5 1039.5L847.4 1043.4L840.1 1047.1L832.8 1050.7L825.4 1054.1L817.9 1057.3L810.4 1060.4L802.7 1063.2L795 1066L787.3 1068.5L779.4 1070.8L771.5 1073L763.6 1075L755.6 1076.8L747.5 1078.4L739.4 1079.8L731.3 1081L723.1 1082.1L715 1083L706.8 1083.6L698.5 1084.1L690.3 1084.4L682 1084.5L673.8 1084.4L665.5 1084.1L657.3 1083.6L649 1082.9L640.8 1082.1L632.5 1081L624.3 1079.8L616.2 1078.3L608 1076.7L599.9 1074.8L591.8 1072.8L583.8 1070.6L575.8 1068.2L567.9 1065.7L560 1062.9L552.2 1059.9L544.5 1056.8L536.8 1053.5L529.2 1050L521.7 1046.3L514.3 1042.5L506.9 1038.4L499.6 1034.2L492.5 1029.9L485.4 1025.3L478.4 1020.6L471.6 1015.8L464.8 1010.7L458.2 1005.5L451.7 1000.2L445.3 994.7L439 989L432.9 983.2L426.9 977.3L421 971.2L415.3 964.9L409.7 958.6L404.2 952.1L398.9 945.5L393.8 938.7L388.8 931.8L384 924.8L379.3 917.7L374.8 910.5L370.5 903.1L366.3 895.7L362.3 888.2L358.5 880.5L354.8 872.8L351.4 865L348.1 857.1L345 849.1L342.1 841.1L339.3 832.9L336.8 824.8L334.4 816.5L332.3 808.2L330.3 799.8L328.5 791.4L326.9 782.9L325.5 774.4L324.4 765.9L323.4 757.3L322.6 748.7L322 740.1L321.6 731.5L321.4 722.8L321.4 714.2L321.6 705.5L322.1 696.9L322.7 688.2L323.5 679.6L324.5 671L325.8 662.4L327.2 653.8L328.8 645.2L330.6 636.7L332.7 628.2L334.9 619.8L337.3 611.4L339.9 603.1L342.7 594.8L345.7 586.6L348.9 578.5L352.3 570.4L355.9 562.4L359.7 554.5L363.6 546.6L367.8 538.9L372.1 531.3L376.6 523.7L381.2 516.2L386.1 508.9L391.1 501.7L396.3 494.6L401.7 487.5L407.2 480.7L412.9 473.9L418.8 467.3L424.8 460.8L430.9 454.4L437.2 448.2L443.7 442.2L450.3 436.3L457 430.5L463.9 424.9L470.9 419.4L478.1 414.1L485.4 409L492.7 404L500.3 399.2L507.9 394.6L515.6 390.2L523.5 385.9L531.4 381.8L539.5 377.9L547.6 374.2L555.8 370.7L564.1 367.4L572.5 364.2L581 361.3L589.5 358.5L598.1 356L606.8 353.6L615.5 351.5L624.3 349.5L633.2 347.8L642 346.2L651 344.9L659.9 343.8L668.9 342.9L677.9 342.2L686.9 341.7L695.9 341.4L705 341.3L714.1 341.4L723.1 341.8L732.2 342.3L741.2 343.1L750.2 344L759.2 345.2L768.2 346.6L777.2 348.2L786.1 350.1L795 352.1L803.8 354.3L812.6 356.7L821.3 359.4L830 362.2L838.6 365.3L847.2 368.5L855.7 372L864 375.7L872.4 379.5L880.6 383.6L888.7 387.8L896.8 392.2L904.7 396.8L912.5 401.6L920.3 406.6L927.9 411.8L935.4 417.2L942.8 422.7L950 428.4L957.1 434.3L964.1 440.3L970.9 446.5L977.7 452.9L984.2 459.4L990.6 466.1L996.9 472.9L1003 479.9L1008.9 487L1014.7 494.3L1020.3 501.7L1025.7 509.2L1031 516.9L1036.1 524.7L1041 532.6L1045.7 540.6L1050.2 548.8L1054.6 557L1058.7 565.4L1062.7 573.8L1066.5 582.4L1070 591L1073.4 599.8L1076.6 608.6L1079.6 617.5L1082.3 626.4L1084.9 635.4L1087.2 644.5L1089.3 653.7L1091.3 662.9L1093 672.1L1094.4 681.4L1095.7 690.7L1096.8 700.1L1097.6 709.5L1098.2 718.9L1098.6 728.3L1098.8 737.8L1098.8 747.2L1098.5 756.7L1098.1 766.1L1097.4 775.6L1096.4 785L1095.3 794.4L1093.9 803.8L1092.4 813.2L1090.6 822.5L1088.5 831.8L1086.3 841L1083.9 850.2L1081.2 859.4L1078.3 868.5L1075.2 877.5L1071.9 886.4L1068.4 895.3L1064.7 904.1L1060.8 912.8L1056.7 921.5L1052.3 930L1047.8 938.4L1043.1 946.8L1038.1 955L1033 963.1L1027.7 971.1L1022.2 979L1016.5 986.7L1010.7 994.3L1004.6 1001.8L998.4 1009.2L992 1016.4L985.4 1023.4L978.7 1030.3L971.8 1037.1L964.8 1043.7L957.5 1050.1L950.2 1056.4L942.7 1062.5L935 1068.4L927.2 1074.2L919.3 1079.7L911.2 1085.1L903 1090.3L894.7 1095.3L886.3 1100.2L877.7 1104.8L869 1109.2L860.3 1113.4L851.4 1117.5L842.4 1121.3L833.4 1124.9L824.2 1128.3L815 1131.5L805.7 1134.4L796.3 1137.2L786.9 1139.7L777.4 1142.1L767.8 1144.2L758.2 1146L748.5 1147.7L738.8 1149.1L729.1 1150.3L719.3 1151.3L709.5 1152.1L699.7 1152.6L689.8 1152.9L680 1153L670.1 1152.8L660.3 1152.4L650.4 1151.8L640.6 1150.9L630.8 1149.8L621 1148.5L611.2 1147L601.5 1145.2L591.8 1143.2L582.1 1141L572.5 1138.5L563 1135.9L553.5 1133L544.1 1129.9L534.7 1126.5L525.4 1123L516.2 1119.2L507.1 1115.2L498.1 1111L489.1 1106.6L480.3 1102L471.6 1097.1L462.9 1092.1L454.4 1086.8L446.1 1081.4L437.8 1075.8L429.7 1069.9L421.7 1063.9L413.8 1057.7L406.1 1051.3L398.5 1044.7L391.1 1038L383.8 1031L376.7 1023.9L369.8 1016.7L363 1009.2L356.4 1001.6L350 993.9L343.7 986L337.6 977.9L331.8 969.7L326.1 961.4L320.6 952.9L315.3 944.3L310.1 935.6L305.2 926.8L300.5 917.8L296 908.7L291.8 899.5L287.7 890.2L283.8 880.9L280.2 871.4L276.8 861.8L273.6 852.2L270.6 842.4L267.9 832.6L265.3 822.8L263 812.8L261 802.9L259.1 792.8L257.6 782.7L256.2 772.6L255.1 762.5L254.2 752.3L253.5 742.1L253.1 731.8L252.9 721.6L253 711.3L253.3 701.1L253.8 690.8L254.6 680.6L255.6 670.4L256.9 660.2L258.4 650L260.1 639.9L262.1 629.8L264.3 619.7L266.7 609.7L269.4 599.7L272.3 589.8L275.4 580L278.8 570.2L282.4 560.5L286.2 550.9L290.3 541.4L294.5 532L299 522.6L303.7 513.4L308.7 504.3L313.8 495.2L319.2 486.3L324.7 477.6L330.5 468.9L336.5 460.4L342.6 452L349 443.8L355.6 435.7L362.3 427.7L369.2 420L376.4 412.3L383.7 404.9L391.1 397.6L398.8 390.4L406.6 383.5L414.6 376.7L422.7 370.1L431 363.7L439.5 357.5L448.1 351.5L456.8 345.7L465.7 340.1L474.7 334.7L483.9 329.5L493.1 324.5L502.5 319.7L512 315.2L521.6 310.9L531.3 306.7L541.1 302.9L551 299.2L561 295.8L571.1 292.6L581.2 289.6L591.5 286.9L601.7 284.4L612.1 282.1L622.5 280.1L632.9 278.3L643.4 276.8L654 275.5L664.6 274.5L675.1 273.7L685.8 273.2L696.4 272.9L707 272.8L717.7 273L728.3 273.5L739 274.2L749.6 275.1L760.2 276.3L770.8 277.7L781.3 279.4L791.9 281.3L802.3 283.5L812.8 285.9L823.1 288.6L833.4 291.5L843.7 294.6L853.9 298L864 301.7L874 305.5L883.9 309.6L893.8 313.9L903.5 318.5L913.1 323.3L922.7 328.3L932.1 333.5L941.4 339L950.6 344.7L959.6 350.6L968.5 356.7L977.3 363L985.9 369.5L994.4 376.2L1002.7 383.1L1010.9 390.2L1018.9 397.5L1026.7 405L1034.3 412.7L1041.8 420.6L1049.1 428.6L1056.2 436.8L1063.2 445.2L1069.9 453.7L1076.4 462.4L1082.8 471.3L1088.9 480.3L1094.8 489.4L1100.5 498.7L1106 508.2L1111.3 517.7L1116.3 527.4L1121.2 537.2L1125.8 547.1L1130.1 557.1L1134.3 567.3L1138.2 577.5L1141.9 587.8L1145.3 598.2L1148.5 608.7L1151.4 619.3L1154.1 629.9L1156.6 640.7L1158.8 651.4L1160.7 662.2L1162.4 673.1L1163.9 684L1165.1 695L1166 706L1166.7 717L1167.1 728L1167.3 739L1167.2 750.1L1166.9 761.1L1166.3 772.2L1165.4 783.2L1164.3 794.2L1162.9 805.2L1161.3 816.2L1159.4 827.1L1157.3 838L1154.9 848.8L1152.3 859.6L1149.4 870.3L1146.2 881L1142.8 891.6L1139.2 902.1L1135.3 912.5L1131.1 922.9L1126.8 933.1L1122.2 943.3L1117.3 953.3L1112.2 963.2L1106.9 973.1L1101.3 982.8L1095.6 992.3L1089.6 1001.8L1083.3 1011.1L1076.9 1020.2L1070.2 1029.2L1063.4 1038.1L1056.3 1046.8L1049 1055.3L1041.5 1063.7L1033.8 1071.9L1026 1079.9L1017.9 1087.8L1009.7 1095.4L1001.2 1102.9L992.6 1110.2L983.9 1117.2L974.9 1124.1L965.8 1130.8L956.5 1137.2L947.1 1143.4L937.6 1149.5L927.9 1155.3L918 1160.8L908.1 1166.2L898 1171.3L887.7 1176.2L877.4 1180.8L866.9 1185.2L856.4 1189.4L845.7 1193.3L835 1197L824.1 1200.4L813.2 1203.6L802.2 1206.5L791.2 1209.2L780 1211.6L768.8 1213.7L757.6 1215.6L746.3 1217.2L735 1218.6L723.6 1219.7L712.2 1220.5L700.8 1221.1L689.4 1221.4L677.9 1221.4L666.5 1221.2L655.1 1220.7L643.6 1219.9L632.2 1218.9L620.8 1217.6L609.4 1216L598.1 1214.2L586.8 1212.1L575.6 1209.8L564.4 1207.2L553.2 1204.3L542.1 1201.1L531.1 1197.7L520.2 1194.1L509.4 1190.2L498.6 1186L487.9 1181.6L477.4 1176.9L466.9 1172L456.6 1166.9L446.4 1161.5L436.3 1155.8L426.3 1149.9L416.4 1143.8L406.7 1137.5L397.2 1130.9L387.8 1124.1L378.5 1117.1L369.4 1109.9L360.5 1102.5L351.8 1094.8L343.2 1086.9L334.8 1078.9L326.6 1070.6L318.6 1062.2L310.8 1053.5L303.1 1044.7L295.7 1035.7L288.5 1026.5L281.5 1017.2L274.7 1007.7L268.2 998L261.8 988.2L255.7 978.2L249.8 968.1L244.2 957.8L238.8 947.4L233.6 936.9L228.7 926.3L224 915.5L219.6 904.6L215.4 893.6L211.5 882.6L207.8 871.4L204.4 860.1L201.3 848.8L198.4 837.4L195.8 825.9L193.4 814.3L191.4 802.7L189.6 791L188 779.3L186.8 767.6L185.8 755.8L185.1 744L184.6 732.2L184.4 720.4L184.6 708.5L184.9 696.7L185.6 684.8L186.5 673L187.7 661.2L189.2 649.4L191 637.7L193 626L195.3 614.3L197.9 602.7L200.8 591.2L203.9 579.7L207.3 568.2L210.9 556.9L214.9 545.6L219 534.5L223.5 523.4L228.2 512.4L233.2 501.5L238.4 490.8L243.8 480.1L249.6 469.6L255.5 459.3L261.7 449L268.2 438.9L274.9 429L281.8 419.2L288.9 409.5L296.3 400L303.9 390.7L311.7 381.6L319.7 372.6L328 363.9L336.4 355.3L345 346.9L353.9 338.7L362.9 330.7L372.1 323L381.5 315.4L391.1 308.1L400.9 301L410.8 294.1L420.9 287.4L431.1 281L441.5 274.8L452.1 268.8L462.8 263.1L473.6 257.6L484.5 252.4L495.6 247.5L506.8 242.8L518.1 238.3L529.5 234.2L541 230.3L552.6 226.6L564.3 223.2L576.1 220.1L587.9 217.3L599.8 214.7L611.8 212.5L623.8 210.5L635.9 208.7L648 207.3L660.2 206.1L672.4 205.3L684.6 204.7L696.8 204.4L709.1 204.3L721.3 204.6L733.5 205.2L745.8 206L758 207.1L770.2 208.5L782.3 210.2L794.4 212.2L806.5 214.4L818.5 217L830.5 219.8L842.4 222.9L854.3 226.2L866 229.9L877.7 233.8L889.3 238L900.8 242.5L912.2 247.2L923.5 252.2L934.6 257.5L945.7 263L956.6 268.8L967.4 274.8L978 281.1L988.6 287.7L998.9 294.5L1009.1 301.5L1019.2 308.8L1029 316.3L1038.7 324L1048.3 332L1057.6 340.2L1066.7 348.6L1075.7 357.2L1084.5 366L1093 375.1L1101.4 384.3L1109.5 393.7L1117.4 403.4L1125.1 413.2L1132.5 423.2L1139.8 433.3L1146.8 443.7L1153.5 454.2L1160 464.9L1166.3 475.7L1172.3 486.6L1178.1 497.7L1183.6 509L1188.8 520.4L1193.8 531.9L1198.5 543.5L1203 555.2L1207.1 567.1L1211 579L1214.7 591L1218 603.1L1221.1 615.3L1223.8 627.6L1226.3 639.9L1228.5 652.3L1230.4 664.8L1232.1 677.3L1233.4 689.8L1234.4 702.4L1235.2 715L1235.6 727.6L1235.8 740.2L1235.7 752.9L1235.2 765.5L1234.5 778.2L1233.5 790.8L1232.2 803.4L1230.6 815.9L1228.7 828.5L1226.5 841L1224 853.4L1221.3 865.8L1218.2 878.1L1214.9 890.4L1211.2 902.5L1207.3 914.6L1203.1 926.6L1198.6 938.6L1193.9 950.4L1188.8 962.1L1183.5 973.7L1178 985.1L1172.1 996.5L1166 1007.7L1159.6 1018.7L1153 1029.6L1146.1 1040.4L1139 1051L1131.6 1061.5L1123.9 1071.7L1116.1 1081.8L1108 1091.8L1099.6 1101.5L1091.1 1111L1082.3 1120.4L1073.2 1129.5L1064 1138.4L1054.6 1147.1L1044.9 1155.6L1035.1 1163.9L1025.1 1171.9L1014.8 1179.8L1004.4 1187.3L993.8 1194.7L983.1 1201.8L972.1 1208.6L961.1 1215.2L949.8 1221.5L938.4 1227.6L926.9 1233.4L915.2 1238.9L903.4 1244.2L891.5 1249.2L879.4 1253.9L867.3 1258.3L855 1262.5L842.6 1266.4L830.2 1270L817.6 1273.2L805 1276.2L792.3 1279L779.5 1281.4L766.7 1283.5L753.9 1285.3L740.9 1286.8L728 1288L715 1289L702 1289.6L689 1289.9L675.9 1289.9L662.9 1289.6L649.9 1289L636.8 1288.1L623.8 1286.9L610.9 1285.4L597.9 1283.6L585 1281.5L572.2 1279L559.4 1276.3L546.6 1273.3L533.9 1270L521.3 1266.4L508.8 1262.5L496.4 1258.3L484.1 1253.8L471.8 1249.1L459.7 1244L447.7 1238.7L435.8 1233L424.1 1227.1L412.4 1221L401 1214.5L389.6 1207.8L378.5 1200.8L367.4 1193.6L356.6 1186.1L345.9 1178.3L335.4 1170.3L325.1 1162.1L315 1153.6L305 1144.9L295.3 1135.9L285.8 1126.7L276.5 1117.3L267.4 1107.7L258.5 1097.9L249.9 1087.8L241.5 1077.6L233.3 1067.1L225.4 1056.5L217.7 1045.6L210.3 1034.6L203.1 1023.4L196.2 1012.1L189.5 1000.6L183.2 988.9L177 977.1L171.2 965.1L165.6 953L160.4 940.8L155.4 928.4L150.6 915.9L146.2 903.3L142.1 890.6L138.3 877.8L134.7 864.9L131.5 852L128.6 838.9L125.9 825.8L123.6 812.6L121.6 799.4L119.9 786.1L118.5 772.8L117.4 759.4L116.6 746L116.1 732.6L116 719.1L116.1 705.7L116.6 692.3L117.4 678.9L118.5 665.4L119.9 652.1L121.6 638.7L123.6 625.4L125.9 612.1L128.6 598.9L131.6 585.7L134.8 572.6L138.4 559.6L142.3 546.7L146.4 533.8L150.9 521.1L155.7 508.4L160.8 495.9L166.1 483.5L171.8 471.1L177.7 459L183.9 446.9L190.4 435L197.2 423.3L204.3 411.7L211.6 400.3L219.2 389L227.1 377.9L235.2 367L243.6 356.3L252.2 345.8L261.1 335.5L270.2 325.3L279.5 315.4L289.1 305.7L298.9 296.3L309 287L319.2 278L329.7 269.2L340.3 260.7L351.2 252.4L362.3 244.4L373.5 236.6L384.9 229.1L396.6 221.8L408.3 214.9L420.3 208.1L432.4 201.7L444.6 195.6L457 189.7L469.6 184.1L482.3 178.8L495.1 173.8L508 169.1L521 164.7L534.1 160.6L547.4 156.9L560.7 153.4L574.1 150.2L587.6 147.3L601.1 144.8L614.7 142.6L628.4 140.7L642.1 139.1L655.8 137.8L669.6 136.8L683.4 136.2L697.2 135.9L711.1 135.9L724.9 136.2L738.7 136.9L752.5 137.8L766.3 139.1L780.1 140.7L793.8 142.7L807.5 144.9L821.2 147.5L834.7 150.4L848.3 153.6L861.7 157.1L875.1 161L888.3 165.1L901.5 169.6L914.6 174.3L927.6 179.4L940.4 184.8L953.1 190.5L965.7 196.4L978.2 202.7L990.5 209.3L1002.7 216.1L1014.7 223.2L1026.5 230.7L1038.2 238.3L1049.7 246.3L1061 254.5L1072.1 263L1083.1 271.8L1093.8 280.8L1104.3 290.1L1114.6 299.6L1124.7 309.3L1134.6 319.3L1144.2 329.5L1153.6 340L1162.7 350.6L1171.6 361.5L1180.3 372.6L1188.7 383.9L1196.8 395.4L1204.7 407L1212.3 418.9L1219.6 431L1226.6 443.2L1233.4 455.5L1239.8 468.1L1246 480.8L1251.9 493.6L1257.5 506.6L1262.8 519.7L1267.7 532.9L1272.4 546.3L1276.8 559.7L1280.8 573.3L1284.6 587L1288 600.7L1291.1 614.5L1293.8 628.4L1296.3 642.4L1298.4 656.4L1300.2 670.5L1301.7 684.7L1302.8 698.8L1303.7 713L1304.1 727.2L1304.3 741.4L1304.1 755.7L1303.6 769.9L1302.8 784.1L1301.6 798.3L1300.1 812.5L1298.2 826.7L1296.1 840.8L1293.6 854.8L1290.8 868.8L1287.6 882.7L1284.2 896.6L1280.4 910.4L1276.2 924.1L1271.8 937.7L1267.1 951.2L1262 964.6L1256.6 977.9L1250.9 991L1244.9 1004L1238.6 1016.9L1232 1029.7L1225.1 1042.3L1217.9 1054.7L1210.4 1067L1202.7 1079.1L1194.6 1091L1186.3 1102.7L1177.7 1114.2L1168.8 1125.6L1159.7 1136.7L1150.3 1147.6L1140.6 1158.3L1130.7 1168.8L1120.5 1179L1110.1 1189.1L1099.5 1198.8L1088.7 1208.4L1077.6 1217.6L1066.3 1226.7L1054.8 1235.4L1043.1 1243.9L1031.1 1252.1L1019 1260.1L1006.7 1267.7L994.3 1275.1L981.6 1282.2L968.8 1289L955.8 1295.5L942.7 1301.7L929.4 1307.6L916 1313.1L902.5 1318.4L888.8 1323.4L875 1328L861.1 1332.3L847.1 1336.3L833 1340L818.8 1343.3L804.6 1346.3L790.3 1349L775.9 1351.4L761.4 1353.4L746.9 1355.1L732.4 1356.4L717.8 1357.4L703.2 1358.1L688.6 1358.4L673.9 1358.4L659.3 1358L644.7 1357.3L630.1 1356.3L615.5 1354.9L600.9 1353.2L586.4 1351.1L571.9 1348.7L557.5 1346L543.2 1342.9L528.9 1339.5L514.7 1335.7L500.6 1331.7L486.5 1327.3L472.6 1322.5L458.8 1317.5L445.1 1312.1L431.5 1306.4L418 1300.4L404.7 1294.1L391.6 1287.4L378.5 1280.5L365.7 1273.2L353 1265.7L340.5 1257.8L328.2 1249.7L316 1241.3L304.1 1232.6L292.3 1223.6L280.8 1214.3L269.4 1204.8L258.3 1195L247.5 1184.9L236.8 1174.6L226.4 1164.1L216.2 1153.2L206.3 1142.2L196.7 1130.9L187.3 1119.4L178.1 1107.7L169.3 1095.8L160.7 1083.6L152.4 1071.3L144.4 1058.7L136.7 1046L129.2 1033.1L122.1 1020L115.3 1006.8L108.8 993.3L102.6 979.8L96.7 966.1L91.1 952.2L85.9 938.2L81 924.1L76.4 909.9L72.1 895.6L68.2 881.1L64.6 866.6L61.3 852L58.4 837.3L55.8 822.6L53.6 807.7L51.7 792.9L50.2 777.9L49 763L48.1 748L47.6 733L47.5 718L47.7 702.9L48.2 687.9L49.1 672.9L50.4 657.9L52 642.9L53.9 628L56.2 613.1L58.9 598.3L61.9 583.5L65.2 568.8L68.9 554.2L72.9 539.6L77.2 525.1L81.9 510.8L87 496.5L92.3 482.4L98 468.4L104 454.5L110.4 440.8L117 427.2L124 413.7L131.3 400.4L138.9 387.3L146.8 374.4L155 361.6L163.6 349.1L172.4 336.7L181.5 324.5L190.8 312.6L200.5 300.8L210.4 289.3L220.6 278L231.1 267L241.8 256.2L252.8 245.6L264 235.3L275.5 225.3L287.2 215.5L299.1 206L311.3 196.8L323.6 187.8L336.2 179.2L349 170.8L362 162.7L375.1 154.9L388.5 147.5L402 140.3L415.7 133.5L429.5 127L443.6 120.8L457.7 114.9L472 109.3L486.4 104.1L501 99.2L515.6 94.7L530.4 90.5L545.3 86.6L560.2 83.1L575.3 80"/>
<path d="M497.5 456.5L503.8 451.9L510.2 447.3L516.7 442.9L523.3 438.7L530 434.6L536.8 430.6L543.7 426.9L550.7 423.2L557.8 419.8L564.9 416.5L572.2 413.4L579.5 410.4L586.9 407.6L594.3 405L601.8 402.5L609.4 400.2L617.1 398.1L624.7 396.2L632.5 394.5L640.3 392.9L648.1 391.5L656 390.3L663.9 389.3L671.8 388.4L679.7 387.8L687.7 387.3L695.7 387L703.6 386.9L711.6 387L719.6 387.3L727.6 387.7L735.6 388.4L743.6 389.2L751.5 390.2L759.5 391.5L767.4 392.8L775.3 394.4L783.1 396.2L790.9 398.1L798.7 400.3L806.4 402.6L814.1 405.1L821.7 407.7L829.3 410.6L836.8 413.6L844.2 416.8L851.6 420.2L858.9 423.7L866.1 427.5L873.2 431.3L880.3 435.4L887.2 439.6L894.1 444L900.8 448.6L907.5 453.3L914 458.2L920.4 463.2L926.7 468.4L932.9 473.7L939 479.1L945 484.8L950.8 490.5L956.5 496.4L962 502.4L967.5 508.6L972.7 514.9L977.9 521.3L982.9 527.9L987.7 534.5L992.4 541.3L996.9 548.2L1001.3 555.2L1005.5 562.3L1009.5 569.5L1013.4 576.8L1017.1 584.2L1020.7 591.6L1024 599.2L1027.2 606.9L1030.2 614.6L1033.1 622.4L1035.7 630.3L1038.2 638.2L1040.5 646.2L1042.6 654.3L1044.5 662.4L1046.2 670.5L1047.8 678.7L1049.1 687L1050.3 695.2L1051.2 703.5L1052 711.9L1052.6 720.2L1053 728.6L1053.2 737L1053.2 745.4L1053 753.7L1052.6 762.1L1052 770.5L1051.2 778.9L1050.2 787.3L1049 795.6L1047.6 803.9L1046.1 812.2L1044.3 820.5L1042.4 828.7L1040.2 836.9L1037.9 845L1035.3 853.1L1032.6 861.1L1029.7 869.1L1026.6 877L1023.3 884.8L1019.9 892.5L1016.2 900.2L1012.4 907.8L1008.4 915.3L1004.2 922.8L999.9 930.1L995.3 937.3L990.6 944.4L985.8 951.5L980.7 958.4L975.5 965.2L970.2 971.8L964.7 978.4L959 984.8L953.2 991.1L947.2 997.3L941.1 1003.3L934.8 1009.2L928.4 1015L921.9 1020.6L915.2 1026L908.4 1031.3L901.5 1036.5L894.4 1041.4L887.3 1046.2L880 1050.9L872.6 1055.4L865.1 1059.7L857.5 1063.8L849.8 1067.8L842 1071.6L834.1 1075.2L826.1 1078.6L818 1081.9L809.9 1084.9L801.7 1087.8L793.4 1090.5L785 1093L776.6 1095.2L768.1 1097.3L759.6 1099.2L751 1100.9L742.4 1102.4L733.8 1103.7L725.1 1104.8L716.4 1105.7L707.6 1106.4L698.9 1106.9L690.1 1107.2L681.3 1107.3L672.5 1107.2L663.7 1106.9L655 1106.3L646.2 1105.6L637.4 1104.7L628.7 1103.5L619.9 1102.2L611.3 1100.6L602.6 1098.9L594 1096.9L585.4 1094.7L576.8 1092.4L568.4 1089.8L559.9 1087.1L551.6 1084.1L543.3 1080.9L535 1077.6L526.9 1074.1L518.8 1070.3L510.8 1066.4L502.9 1062.3L495.1 1058L487.4 1053.5L479.8 1048.9L472.3 1044L464.9 1039L457.6 1033.8L450.4 1028.4L443.4 1022.9L436.5 1017.2L429.7 1011.3L423 1005.3L416.5 999.1L410.1 992.8L403.9 986.3L397.8 979.7L391.9 972.9L386.1 966L380.5 958.9L375.1 951.8L369.8 944.4L364.7 937L359.7 929.4L354.9 921.7L350.4 914L345.9 906L341.7 898L337.7 889.9L333.8 881.7L330.1 873.4L326.7 865L323.4 856.5L320.3 848L317.4 839.3L314.7 830.6L312.2 821.9L309.9 813L307.9 804.1L306 795.2L304.3 786.2L302.9 777.2L301.6 768.1L300.6 759L299.8 749.9L299.2 740.7L298.8 731.6L298.6 722.4L298.6 713.2L298.9 704L299.3 694.8L300 685.7L300.9 676.5L302 667.3L303.3 658.2L304.8 649.1L306.6 640L308.5 631L310.7 622L313.1 613.1L315.6 604.2L318.4 595.4L321.4 586.6L324.6 577.9L328 569.3L331.6 560.7L335.5 552.2L339.5 543.8L343.7 535.5L348.1 527.3L352.7 519.2L357.4 511.2L362.4 503.3L367.6 495.6L372.9 487.9L378.4 480.4L384.1 472.9L390 465.7L396.1 458.5L402.3 451.5L408.6 444.6L415.2 437.9L421.9 431.3L428.7 424.9L435.8 418.7L442.9 412.6L450.2 406.6L457.7 400.8L465.2 395.2L473 389.8L480.8 384.6L488.8 379.5L496.8 374.6L505.1 369.9L513.4 365.4L521.8 361.1L530.3 357L538.9 353.1L547.7 349.4L556.5 345.9L565.4 342.5L574.4 339.4L583.4 336.5L592.5 333.9L601.7 331.4L611 329.1L620.3 327.1L629.6 325.2L639 323.6L648.5 322.2L658 321L667.5 320.1L677 319.3L686.6 318.8L696.1 318.5L705.7 318.5L715.3 318.6L724.9 319L734.5 319.6L744 320.4L753.6 321.5L763.1 322.7L772.6 324.2L782.1 325.9L791.5 327.9L800.9 330L810.3 332.4L819.6 335L828.8 337.8L838 340.8L847.1 344.1L856.1 347.5L865.1 351.2L874 355.1L882.8 359.2L891.5 363.5L900.1 368L908.6 372.7L917 377.6L925.2 382.7L933.4 388L941.4 393.4L949.4 399.1L957.2 405L964.8 411L972.3 417.2L979.7 423.6L986.9 430.2L994 436.9L1000.9 443.9L1007.7 450.9L1014.3 458.2L1020.7 465.6L1027 473.1L1033.1 480.8L1039 488.6L1044.7 496.6L1050.3 504.7L1055.7 513L1060.8 521.3L1065.8 529.8L1070.6 538.4L1075.2 547.2L1079.6 556L1083.7 564.9L1087.7 574L1091.5 583.1L1095 592.4L1098.4 601.7L1101.5 611.1L1104.4 620.5L1107.1 630.1L1109.5 639.7L1111.8 649.4L1113.8 659.1L1115.6 668.9L1117.1 678.7L1118.4 688.5L1119.6 698.4L1120.4 708.3L1121.1 718.3L1121.5 728.2L1121.7 738.2L1121.6 748.2L1121.3 758.2L1120.8 768.2L1120 778.1L1119.1 788.1L1117.8 798L1116.4 808L1114.7 817.8L1112.8 827.7L1110.7 837.5L1108.3 847.2L1105.7 857L1102.9 866.6L1099.8 876.2L1096.5 885.7L1093 895.1L1089.3 904.5L1085.4 913.8L1081.2 923L1076.9 932.1L1072.3 941.1L1067.5 950L1062.5 958.8L1057.3 967.4L1051.9 976L1046.2 984.4L1040.4 992.7L1034.4 1000.9L1028.2 1008.9L1021.8 1016.8L1015.2 1024.6L1008.5 1032.2L1001.6 1039.6L994.4 1046.9L987.2 1054L979.7 1061L972.1 1067.7L964.3 1074.3L956.4 1080.8L948.3 1087L940.1 1093L931.7 1098.9L923.2 1104.6L914.5 1110.1L905.7 1115.3L896.8 1120.4L887.8 1125.3L878.7 1129.9L869.4 1134.4L860 1138.6L850.6 1142.6L841 1146.4L831.4 1150L821.6 1153.3L811.8 1156.4L801.9 1159.3L792 1162L781.9 1164.4L771.8 1166.6L761.7 1168.6L751.5 1170.3L741.3 1171.8L731 1173.1L720.7 1174.1L710.4 1174.9L700 1175.4L689.7 1175.7L679.3 1175.8L668.9 1175.6L658.5 1175.2L648.1 1174.5L637.8 1173.6L627.4 1172.4L617.1 1171L606.8 1169.4L596.6 1167.5L586.4 1165.4L576.2 1163L566.1 1160.5L556 1157.6L546 1154.6L536.1 1151.3L526.2 1147.7L516.5 1144L506.8 1140L497.2 1135.8L487.7 1131.3L478.3 1126.7L469 1121.8L459.8 1116.7L450.7 1111.4L441.8 1105.8L432.9 1100.1L424.2 1094.1L415.7 1088L407.3 1081.6L399 1075.1L390.9 1068.3L382.9 1061.4L375.1 1054.3L367.5 1047L360 1039.5L352.7 1031.8L345.6 1024L338.6 1016L331.9 1007.8L325.3 999.5L318.9 991L312.7 982.4L306.8 973.6L301 964.7L295.4 955.6L290 946.4L284.9 937.1L279.9 927.6L275.2 918.1L270.7 908.4L266.5 898.6L262.4 888.8L258.6 878.8L255 868.7L251.7 858.5L248.5 848.3L245.7 838L243 827.6L240.6 817.2L238.5 806.6L236.6 796.1L234.9 785.5L233.5 774.8L232.3 764.1L231.4 753.4L230.7 742.7L230.3 731.9L230.1 721.2L230.2 710.4L230.5 699.6L231.1 688.8L231.9 678.1L233 667.3L234.3 656.6L235.9 645.9L237.7 635.2L239.8 624.6L242.2 614L244.7 603.5L247.6 593L250.6 582.6L253.9 572.3L257.5 562L261.3 551.8L265.3 541.7L269.6 531.7L274.1 521.8L278.8 512L283.8 502.3L289 492.7L294.4 483.2L300 473.9L305.9 464.7L312 455.6L318.2 446.6L324.7 437.8L331.4 429.2L338.3 420.7L345.5 412.3L352.8 404.2L360.2 396.2L367.9 388.3L375.8 380.7L383.8 373.2L392.1 365.9L400.5 358.8L409 351.9L417.8 345.2L426.6 338.7L435.7 332.4L444.9 326.3L454.2 320.4L463.7 314.7L473.3 309.3L483 304L492.9 299L502.9 294.3L513 289.7L523.2 285.4L533.5 281.3L543.9 277.5L554.4 273.9L565 270.6L575.6 267.5L586.4 264.6L597.2 262L608 259.7L619 257.6L629.9 255.7L641 254.1L652 252.8L663.1 251.7L674.3 250.9L685.4 250.3L696.6 250L707.7 250L718.9 250.2L730.1 250.7L741.3 251.4L752.4 252.4L763.6 253.7L774.7 255.2L785.7 257L796.8 259L807.8 261.3L818.7 263.9L829.6 266.7L840.4 269.7L851.2 273.1L861.8 276.6L872.4 280.4L882.9 284.5L893.4 288.8L903.7 293.4L913.9 298.2L924 303.2L934 308.5L943.9 314L953.6 319.7L963.2 325.7L972.7 331.9L982.1 338.3L991.3 344.9L1000.3 351.8L1009.2 358.8L1017.9 366.1L1026.5 373.6L1034.8 381.2L1043 389.1L1051.1 397.2L1058.9 405.4L1066.5 413.9L1074 422.5L1081.3 431.3L1088.3 440.2L1095.1 449.4L1101.8 458.7L1108.2 468.1L1114.4 477.7L1120.4 487.5L1126.1 497.4L1131.6 507.4L1136.9 517.5L1142 527.8L1146.8 538.2L1151.4 548.7L1155.7 559.4L1159.8 570.1L1163.6 580.9L1167.2 591.8L1170.6 602.9L1173.6 613.9L1176.4 625.1L1179 636.3L1181.3 647.6L1183.3 659L1185.1 670.4L1186.6 681.8L1187.9 693.3L1188.8 704.8L1189.5 716.3L1190 727.9L1190.1 739.5L1190 751L1189.7 762.6L1189 774.2L1188.1 785.7L1186.9 797.3L1185.5 808.8L1183.8 820.3L1181.8 831.7L1179.5 843.1L1177 854.5L1174.2 865.8L1171.2 877L1167.9 888.2L1164.3 899.3L1160.5 910.3L1156.4 921.2L1152 932L1147.5 942.8L1142.6 953.4L1137.5 963.9L1132.2 974.3L1126.6 984.6L1120.8 994.8L1114.7 1004.8L1108.4 1014.7L1101.9 1024.4L1095.1 1034L1088.1 1043.4L1080.9 1052.7L1073.5 1061.8L1065.9 1070.7L1058 1079.5L1050 1088.1L1041.7 1096.5L1033.3 1104.7L1024.6 1112.7L1015.8 1120.5L1006.8 1128.1L997.6 1135.5L988.2 1142.7L978.7 1149.6L969 1156.4L959.1 1162.9L949.1 1169.2L938.9 1175.3L928.6 1181.1L918.1 1186.7L907.6 1192L896.9 1197.1L886 1202L875.1 1206.6L864 1210.9L852.9 1215L841.6 1218.8L830.3 1222.4L818.8 1225.7L807.3 1228.8L795.7 1231.5L784.1 1234L772.4 1236.3L760.6 1238.2L748.8 1239.9L736.9 1241.3L725 1242.5L713.1 1243.3L701.2 1243.9L689.2 1244.2L677.2 1244.2L665.3 1244L653.3 1243.5L641.3 1242.6L629.4 1241.6L617.5 1240.2L605.6 1238.5L593.7 1236.6L581.9 1234.4L570.1 1231.9L558.4 1229.2L546.8 1226.2L535.2 1222.9L523.7 1219.3L512.2 1215.5L500.9 1211.4L489.7 1207L478.5 1202.4L467.5 1197.5L456.5 1192.3L445.7 1186.9L435 1181.3L424.5 1175.4L414 1169.2L403.8 1162.8L393.6 1156.2L383.6 1149.3L373.8 1142.2L364.1 1134.8L354.6 1127.3L345.3 1119.5L336.2 1111.5L327.2 1103.3L318.5 1094.8L309.9 1086.2L301.5 1077.3L293.3 1068.3L285.4 1059.1L277.6 1049.6L270.1 1040L262.8 1030.3L255.7 1020.3L248.9 1010.2L242.2 999.9L235.9 989.5L229.7 978.9L223.8 968.2L218.2 957.3L212.8 946.3L207.7 935.1L202.8 923.9L198.2 912.5L193.8 901L189.7 889.5L185.9 877.8L182.4 866L179.1 854.1L176.1 842.2L173.4 830.2L170.9 818.1L168.8 806L166.9 793.8L165.3 781.6L164 769.3L163 757L162.2 744.6L161.8 732.3L161.6 719.9L161.7 707.6L162.2 695.2L162.9 682.8L163.8 670.5L165.1 658.1L166.7 645.8L168.5 633.6L170.7 621.3L173.1 609.2L175.8 597L178.8 585L182.1 573L185.6 561L189.4 549.2L193.6 537.4L197.9 525.8L202.6 514.2L207.5 502.7L212.7 491.4L218.2 480.2L223.9 469L229.9 458.1L236.1 447.2L242.6 436.5L249.3 426L256.3 415.6L263.6 405.4L271 395.3L278.7 385.4L286.7 375.7L294.8 366.2L303.2 356.8L311.8 347.7L320.7 338.8L329.7 330L338.9 321.5L348.4 313.1L358 305L367.8 297.2L377.8 289.5L388 282.1L398.4 274.9L408.9 267.9L419.6 261.2L430.5 254.8L441.5 248.6L452.7 242.6L464 236.9L475.4 231.5L487 226.3L498.6 221.5L510.4 216.8L522.4 212.5L534.4 208.4L546.5 204.6L558.7 201.1L571 197.9L583.3 194.9L595.8 192.3L608.3 189.9L620.8 187.8L633.4 186L646.1 184.5L658.8 183.4L671.5 182.5L684.2 181.8L697 181.5L709.8 181.5L722.5 181.8L735.3 182.4L748.1 183.3L760.8 184.4L773.5 185.9L786.2 187.7L798.8 189.8L811.4 192.1L824 194.8L836.5 197.7L848.9 201L861.2 204.5L873.5 208.3L885.7 212.4L897.7 216.8L909.7 221.5L921.6 226.4L933.4 231.6L945 237.1L956.5 242.9L967.9 249L979.2 255.3L990.3 261.8L1001.2 268.7L1012 275.8L1022.7 283.1L1033.1 290.7L1043.4 298.5L1053.5 306.6L1063.5 314.9L1073.2 323.5L1082.7 332.3L1092.1 341.3L1101.2 350.5L1110.1 359.9L1118.8 369.5L1127.2 379.4L1135.5 389.4L1143.5 399.7L1151.3 410.1L1158.8 420.7L1166.1 431.5L1173.1 442.5L1179.9 453.6L1186.4 464.9L1192.7 476.3L1198.7 487.9L1204.4 499.6L1209.9 511.5L1215 523.5L1220 535.6L1224.6 547.8L1228.9 560.2L1233 572.6L1236.7 585.1L1240.2 597.8L1243.4 610.5L1246.2 623.3L1248.8 636.1L1251.1 649.1L1253.1 662L1254.8 675.1L1256.2 688.1L1257.2 701.2L1258 714.4L1258.5 727.5L1258.6 740.7L1258.5 753.8L1258 767L1257.3 780.2L1256.2 793.3L1254.8 806.4L1253.1 819.5L1251.2 832.6L1248.9 845.6L1246.3 858.6L1243.4 871.5L1240.2 884.3L1236.7 897.1L1232.9 909.8L1228.8 922.4L1224.4 934.9L1219.7 947.3L1214.8 959.6L1209.5 971.7L1204 983.8L1198.2 995.8L1192.1 1007.6L1185.7 1019.2L1179 1030.7L1172.1 1042.1L1164.9 1053.3L1157.5 1064.4L1149.8 1075.2L1141.8 1085.9L1133.6 1096.4L1125.2 1106.8L1116.5 1116.9L1107.5 1126.8L1098.4 1136.5L1089 1146L1079.4 1155.3L1069.5 1164.4L1059.5 1173.2L1049.2 1181.8L1038.8 1190.2L1028.1 1198.3L1017.3 1206.2L1006.2 1213.8L995 1221.2L983.7 1228.3L972.1 1235.2L960.4 1241.8L948.5 1248.1L936.5 1254.1L924.3 1259.9L912 1265.3L899.6 1270.5L887.1 1275.4L874.4 1280L861.6 1284.3L848.8 1288.4L835.8 1292.1L822.7 1295.5L809.6 1298.6L796.4 1301.4L783.1 1303.9L769.7 1306.1L756.3 1308L742.9 1309.6L729.4 1310.8L715.9 1311.8L702.4 1312.4L688.8 1312.7L675.2 1312.7L661.7 1312.4L648.1 1311.8L634.6 1310.8L621 1309.5L607.5 1308L594.1 1306.1L580.6 1303.9L567.3 1301.3L553.9 1298.5L540.7 1295.4L527.5 1291.9L514.4 1288.1L501.4 1284.1L488.4 1279.7L475.6 1275L462.9 1270.1L450.3 1264.8L437.8 1259.2L425.4 1253.4L413.2 1247.2L401.1 1240.8L389.2 1234.1L377.4 1227.1L365.8 1219.8L354.3 1212.3L343 1204.5L331.9 1196.4L321 1188.1L310.3 1179.5L299.8 1170.6L289.5 1161.6L279.3 1152.2L269.4 1142.7L259.8 1132.9L250.3 1122.9L241.1 1112.6L232.1 1102.2L223.4 1091.5L214.9 1080.6L206.7 1069.5L198.7 1058.3L191 1046.8L183.5 1035.2L176.3 1023.4L169.4 1011.4L162.8 999.2L156.4 986.9L150.4 974.5L144.6 961.9L139.1 949.2L133.9 936.3L129 923.3L124.5 910.2L120.2 897L116.2 883.7L112.5 870.3L109.2 856.8L106.1 843.3L103.4 829.6L101 815.9L98.9 802.1L97.1 788.3L95.7 774.4L94.6 760.6L93.8 746.6L93.3 732.7L93.1 718.7L93.3 704.8L93.8 690.8L94.6 676.8L95.8 662.9L97.2 649L99 635.1L101.1 621.3L103.6 607.5L106.4 593.7L109.4 580.1L112.8 566.4L116.6 552.9L120.6 539.5L124.9 526.1L129.6 512.9L134.6 499.7L139.9 486.7L145.4 473.8L151.3 461L157.5 448.3L164 435.8L170.7 423.5L177.8 411.3L185.1 399.2L192.8 387.4L200.7 375.7L208.9 364.2L217.3 352.8L226 341.7L235 330.8L244.2 320.1L253.7 309.5L263.4 299.3L273.4 289.2L283.6 279.4L294 269.8L304.7 260.4L315.5 251.3L326.6 242.4L337.9 233.8L349.4 225.5L361.1 217.4L373 209.6L385.1 202.1L397.3 194.9L409.7 187.9L422.3 181.2L435 174.9L447.9 168.8L460.9 163L474.1 157.5L487.4 152.3L500.8 147.5L514.4 142.9L528 138.7L541.7 134.7L555.6 131.1L569.5 127.8L583.5 124.9L597.6 122.2L611.7 119.9L625.9 118L640.1 116.3L654.4 115L668.7 114L683 113.4L697.4 113L711.8 113.1L726.1 113.4L740.5 114.1L754.8 115.1L769.1 116.5L783.4 118.1L797.7 120.2L811.9 122.5L826.1 125.2L840.2 128.2L854.2 131.6L868.1 135.2L882 139.2L895.8 143.5L909.5 148.2L923 153.1L936.5 158.4L949.8 164L963.1 169.9L976.1 176.1L989.1 182.6L1001.8 189.4L1014.5 196.6L1026.9 204L1039.2 211.7L1051.3 219.7L1063.3 227.9L1075 236.5L1086.5 245.3L1097.9 254.4L1109 263.8L1119.9 273.4L1130.6 283.3L1141.1 293.4L1151.3 303.8L1161.3 314.4L1171 325.2L1180.5 336.3L1189.7 347.6L1198.7 359.1L1207.4 370.8L1215.8 382.7L1224 394.9L1231.8 407.2L1239.4 419.7L1246.7 432.4L1253.7 445.2L1260.4 458.2L1266.8 471.4L1272.9 484.7L1278.7 498.2L1284.2 511.8L1289.3 525.5L1294.2 539.4L1298.7 553.3L1302.9 567.4L1306.8 581.6L1310.3 595.9L1313.5 610.2L1316.4 624.6L1318.9 639.1L1321.1 653.7L1322.9 668.3L1324.5 683L1325.6 697.7L1326.5 712.4L1327 727.1L1327.1 741.9L1326.9 756.6L1326.4 771.4L1325.5 786.1L1324.3 800.9L1322.7 815.6L1320.8 830.3L1318.5 844.9L1316 859.5L1313 874L1309.7 888.4L1306.1 902.8L1302.2 917.1L1297.9 931.3L1293.3 945.4L1288.4 959.4L1283.1 973.3L1277.5 987.1L1271.6 1000.7L1265.4 1014.2L1258.8 1027.6L1252 1040.8L1244.8 1053.8L1237.3 1066.7L1229.6 1079.4L1221.5 1092L1213.2 1104.3L1204.5 1116.5L1195.6 1128.4L1186.4 1140.2L1176.9 1151.7L1167.1 1163L1157.1 1174.1L1146.8 1185L1136.3 1195.6L1125.5 1206L1114.5 1216.1L1103.2 1226L1091.7 1235.6L1080 1244.9L1068.1 1254L1055.9 1262.8L1043.6 1271.3L1031 1279.5L1018.2 1287.4L1005.3 1295.1L992.2 1302.4L978.9 1309.5L965.5 1316.2L951.8 1322.6L938.1 1328.7L924.2 1334.5L910.1 1339.9L896 1345.1L881.7 1349.9L867.3 1354.3L852.7 1358.5L838.1 1362.2L823.4 1365.7L808.7 1368.8L793.8 1371.6L778.9 1374L763.9 1376.1L748.9 1377.8L733.8 1379.2L718.7 1380.2L703.6 1380.9L688.4 1381.2L673.2 1381.2L658.1 1380.8L642.9 1380.1L627.8 1379L612.7 1377.5L597.6 1375.7L582.6 1373.6L567.6 1371.1L552.6 1368.3L537.8 1365.1L523 1361.5L508.2 1357.6L493.6 1353.4L479.1 1348.8L464.6 1343.9L450.3 1338.7L436.1 1333.1L422.1 1327.2L408.1 1321L394.3 1314.4L380.7 1307.5L367.2 1300.3L353.9 1292.8L340.8 1285L327.8 1276.8L315 1268.4L302.5 1259.7L290.1 1250.6L277.9 1241.3L266 1231.7L254.2 1221.8L242.7 1211.7L231.5 1201.2L220.5 1190.6L209.7 1179.6L199.2 1168.4L188.9 1157L178.9 1145.3L169.2 1133.4L159.7 1121.2L150.6 1108.8L141.7 1096.3L133.1 1083.5L124.8 1070.5L116.8 1057.3L109.1 1043.9L101.8 1030.3L94.7 1016.6L88 1002.7L81.6 988.7L75.5 974.5L69.7 960.1L64.3 945.6L59.2 931L54.4 916.3L50 901.5L46 886.5L42.3 871.5L38.9 856.3L35.9 841.1L33.2 825.8L30.9 810.5L29 795.1L27.4 779.6L26.2 764.1L25.3 748.6L24.8 733.1L24.6 717.5L24.9 702L25.4 686.4L26.4 670.9L27.7 655.4L29.3 639.9L31.4 624.4L33.8 609L36.5 593.6L39.6 578.3L43.1 563.1L46.9 548L51.1 532.9L55.6 517.9L60.4 503.1L65.7 488.3L71.2 473.7L77.1 459.2L83.4 444.8L89.9 430.6L96.8 416.5L104.1 402.6L111.6 388.9L119.5 375.3L127.7 361.9L136.2 348.7L145 335.7L154.1 322.9L163.6 310.4L173.3 298L183.3 285.8L193.6 273.9L204.1 262.3L215 250.8L226.1 239.7L237.4 228.7L249 218.1L260.9 207.7L273 197.6L285.4 187.7L298 178.2L310.8 169L323.8 160L337 151.3L350.4 143L364.1 135L377.9 127.2L391.9 119.9L406.1 112.8L420.4 106L434.9 99.6L449.5 93.6L464.3 87.8L479.3 82.4L494.3 77.4L509.5 72.7L524.8 68.4L540.1 64.4L555.6 60.8L571.2 57.5"/>
<path d="M662.6 469.6L621.3 116.5"/>
<path d="M841.2 504.6L1036.6 207.6"/>
<path d="M958.7 650.5L1299.3 548.5"/>
<path d="M954.7 842.9L1281.1 983.7"/>
<path d="M824.3 991.5L983.9 1309.1"/>
<path d="M623.8 1022.1L541.8 1368"/>
<path d="M446.1 913.8L161 1126.1"/>
<path d="M378.1 711.7L23.2 691"/>
<path d="M458 508.3L249.3 311.4"/>
<path stroke-width="1.6" d="M549 511.1L542.4 501"/>
<path stroke-width="1.6" d="M602.5 481.4L598.4 470.1"/>
<path stroke-width="1.6" d="M662 464.7L660.6 452.8"/>
<path stroke-width="1.6" d="M724.3 462.2L725.7 450.2"/>
<path stroke-width="1.6" d="M786.1 474.2L790.2 462.9"/>
<path stroke-width="1.6" d="M844 500.5L850.6 490.4"/>
<path stroke-width="1.6" d="M894.7 539.7L903.4 531.5"/>
<path stroke-width="1.6" d="M935.3 590.1L945.7 584.1"/>
<path stroke-width="1.6" d="M963.5 649L975 645.6"/>
<path stroke-width="1.6" d="M977.4 713.4L989.4 712.7"/>
<path stroke-width="1.6" d="M976.1 779.9L987.9 782"/>
<path stroke-width="1.6" d="M959.3 844.8L970.3 849.6"/>
<path stroke-width="1.6" d="M927.6 904.7L937.2 911.8"/>
<path stroke-width="1.6" d="M882.6 956L890.4 965.2"/>
<path stroke-width="1.6" d="M826.6 995.9L831.9 1006.6"/>
<path stroke-width="1.6" d="M762.2 1022L765 1033.7"/>
<path stroke-width="1.6" d="M693 1032.7L693 1044.7"/>
<path stroke-width="1.6" d="M622.6 1027L619.9 1038.6"/>
<path stroke-width="1.6" d="M554.9 1005L549.5 1015.7"/>
<path stroke-width="1.6" d="M493.6 967.7L485.9 976.9"/>
<path stroke-width="1.6" d="M442.1 916.8L432.5 924"/>
<path stroke-width="1.6" d="M403.5 854.9L392.4 859.7"/>
<path stroke-width="1.6" d="M380 785.2L368.1 787.3"/>
<path stroke-width="1.6" d="M373.1 711.4L361.2 710.7"/>
<path stroke-width="1.6" d="M383.6 637.4L372.1 633.9"/>
<path stroke-width="1.6" d="M411.1 567.3L400.7 561.3"/>
<path stroke-width="1.6" d="M454.4 504.9L445.7 496.7"/>
<path stroke-width="1.6" d="M511.4 453.8L504.8 443.8"/>
<path stroke-width="1.6" d="M579.1 417L575 405.7"/>
<path stroke-width="1.6" d="M654 396.6L652.6 384.7"/>
<path stroke-width="1.6" d="M732.3 394.1L733.7 382.2"/>
<path stroke-width="1.6" d="M809.5 409.8L813.6 398.6"/>
<path stroke-width="1.6" d="M881.6 443.2L888.2 433.2"/>
<path stroke-width="1.6" d="M944.5 492.7L953.2 484.5"/>
<path stroke-width="1.6" d="M994.7 555.8L1005 549.8"/>
<path stroke-width="1.6" d="M1029.1 629.4L1040.6 625.9"/>
<path stroke-width="1.6" d="M1045.8 709.5L1057.8 708.8"/>
<path stroke-width="1.6" d="M1043.5 791.8L1055.3 793.9"/>
<path stroke-width="1.6" d="M1022.1 872L1033.2 876.7"/>
<path stroke-width="1.6" d="M982.6 945.6L992.2 952.7"/>
<path stroke-width="1.6" d="M926.7 1008.5L934.4 1017.7"/>
<path stroke-width="1.6" d="M857.3 1057.1L862.7 1067.9"/>
<path stroke-width="1.6" d="M778 1088.7L780.8 1100.4"/>
<path stroke-width="1.6" d="M693 1101.2L693 1113.2"/>
<path stroke-width="1.6" d="M606.8 1093.6L604.1 1105.3"/>
<path stroke-width="1.6" d="M524.2 1066.2L518.8 1076.9"/>
<path stroke-width="1.6" d="M449.5 1020.1L441.8 1029.3"/>
<path stroke-width="1.6" d="M387.2 957.7L377.5 964.9"/>
<path stroke-width="1.6" d="M340.6 882L329.5 886.8"/>
<path stroke-width="1.6" d="M312.5 797.1L300.7 799.2"/>
<path stroke-width="1.6" d="M304.7 707.4L292.8 706.7"/>
<path stroke-width="1.6" d="M318 617.7L306.5 614.3"/>
<path stroke-width="1.6" d="M351.8 533L341.4 527"/>
<path stroke-width="1.6" d="M404.6 457.9L395.9 449.7"/>
<path stroke-width="1.6" d="M473.7 396.6L467.1 386.6"/>
<path stroke-width="1.6" d="M555.6 352.6L551.5 341.3"/>
<path stroke-width="1.6" d="M646.1 328.6L644.7 316.7"/>
<path stroke-width="1.6" d="M740.2 326.1L741.6 314.2"/>
<path stroke-width="1.6" d="M833 345.5L837.1 334.2"/>
<path stroke-width="1.6" d="M919.3 386L925.9 376"/>
<path stroke-width="1.6" d="M994.3 445.7L1003.1 437.5"/>
<path stroke-width="1.6" d="M1054 521.6L1064.4 515.6"/>
<path stroke-width="1.6" d="M1094.7 609.7L1106.2 606.3"/>
<path stroke-width="1.6" d="M1114.2 705.5L1126.2 704.8"/>
<path stroke-width="1.6" d="M1111 803.7L1122.8 805.8"/>
<path stroke-width="1.6" d="M1085 899.1L1096.1 903.9"/>
<path stroke-width="1.6" d="M1037.5 986.5L1047.1 993.6"/>
<path stroke-width="1.6" d="M970.7 1061L978.4 1070.2"/>
<path stroke-width="1.6" d="M888 1118.4L893.4 1129.1"/>
<path stroke-width="1.6" d="M793.8 1155.3L796.6 1167"/>
<path stroke-width="1.6" d="M693 1169.7L693 1181.7"/>
<path stroke-width="1.6" d="M591 1160.3L588.3 1171.9"/>
<path stroke-width="1.6" d="M493.4 1127.4L488 1138.1"/>
<path stroke-width="1.6" d="M405.5 1072.6L397.8 1081.8"/>
<path stroke-width="1.6" d="M332.2 998.6L322.6 1005.8"/>
<path stroke-width="1.6" d="M277.7 909.2L266.6 913.9"/>
<path stroke-width="1.6" d="M245 809L233.2 811.1"/>
<path stroke-width="1.6" d="M236.4 703.4L224.4 702.7"/>
<path stroke-width="1.6" d="M252.4 598.1L240.9 594.6"/>
<path stroke-width="1.6" d="M292.5 498.8L282.1 492.8"/>
<path stroke-width="1.6" d="M354.8 410.9L346 402.6"/>
<path stroke-width="1.6" d="M436.1 339.4L429.5 329.3"/>
<path stroke-width="1.6" d="M532.2 288.3L528.1 277"/>
<path stroke-width="1.6" d="M638.1 260.6L636.7 248.6"/>
<path stroke-width="1.6" d="M748.2 258L749.6 246.1"/>
<path stroke-width="1.6" d="M856.4 281.1L860.5 269.8"/>
<path stroke-width="1.6" d="M956.9 328.8L963.5 318.7"/>
<path stroke-width="1.6" d="M1044.2 398.7L1052.9 390.5"/>
<path stroke-width="1.6" d="M1113.3 487.3L1123.7 481.3"/>
<path stroke-width="1.6" d="M1160.4 590.1L1171.9 586.6"/>
<path stroke-width="1.6" d="M1182.6 701.5L1194.5 700.8"/>
<path stroke-width="1.6" d="M1178.4 815.6L1190.3 817.7"/>
<path stroke-width="1.6" d="M1147.9 926.2L1159 931"/>
<path stroke-width="1.6" d="M1092.5 1027.4L1102.1 1034.6"/>
<path stroke-width="1.6" d="M1014.7 1113.4L1022.5 1122.6"/>
<path stroke-width="1.6" d="M918.8 1179.6L924.2 1190.3"/>
<path stroke-width="1.6" d="M809.6 1222L812.4 1233.7"/>
<path stroke-width="1.6" d="M693 1238.2L693 1250.2"/>
<path stroke-width="1.6" d="M575.2 1226.9L572.5 1238.6"/>
<path stroke-width="1.6" d="M462.7 1188.6L457.3 1199.4"/>
<path stroke-width="1.6" d="M361.5 1125.1L353.8 1134.3"/>
<path stroke-width="1.6" d="M277.3 1039.5L267.6 1046.7"/>
<path stroke-width="1.6" d="M214.8 936.3L203.7 941"/>
<path stroke-width="1.6" d="M177.6 820.9L165.8 823"/>
<path stroke-width="1.6" d="M168 699.4L156 698.7"/>
<path stroke-width="1.6" d="M186.8 578.4L175.3 575"/>
<path stroke-width="1.6" d="M233.2 464.5L222.8 458.5"/>
<path stroke-width="1.6" d="M304.9 363.9L296.2 355.6"/>
<path stroke-width="1.6" d="M398.4 282.1L391.8 272.1"/>
<path stroke-width="1.6" d="M508.8 223.9L504.7 212.6"/>
<path stroke-width="1.6" d="M630.2 192.5L628.8 180.6"/>
<path stroke-width="1.6" d="M756.1 190L757.5 178.1"/>
<path stroke-width="1.6" d="M879.8 216.7L883.9 205.5"/>
<path stroke-width="1.6" d="M994.5 271.5L1001.1 261.5"/>
<path stroke-width="1.6" d="M1094 351.7L1102.7 343.5"/>
<path stroke-width="1.6" d="M1172.6 453.1L1183 447.1"/>
<path stroke-width="1.6" d="M1226 570.4L1237.5 567"/>
<path stroke-width="1.6" d="M1250.9 697.5L1262.9 696.8"/>
<path stroke-width="1.6" d="M1245.9 827.5L1257.7 829.6"/>
<path stroke-width="1.6" d="M1210.8 953.4L1221.9 958.1"/>
<path stroke-width="1.6" d="M1147.4 1068.3L1157 1075.5"/>
<path stroke-width="1.6" d="M1058.8 1165.9L1066.5 1175.1"/>
<path stroke-width="1.6" d="M949.5 1240.8L954.9 1251.5"/>
<path stroke-width="1.6" d="M825.4 1288.6L828.2 1300.3"/>
<path stroke-width="1.6" d="M693 1306.7L693 1318.7"/>
<path stroke-width="1.6" d="M559.4 1293.6L556.7 1305.3"/>
<path stroke-width="1.6" d="M431.9 1249.8L426.5 1260.6"/>
<path stroke-width="1.6" d="M317.4 1177.6L309.7 1186.8"/>
<path stroke-width="1.6" d="M222.3 1080.4L212.7 1087.6"/>
<path stroke-width="1.6" d="M151.9 963.4L140.8 968.2"/>
<path stroke-width="1.6" d="M110.1 832.8L98.3 834.9"/>
<path stroke-width="1.6" d="M99.6 695.4L87.6 694.7"/>
<path stroke-width="1.6" d="M121.1 558.8L109.6 555.4"/>
<path stroke-width="1.6" d="M173.8 430.3L163.4 424.3"/>
<path stroke-width="1.6" d="M255.1 316.9L246.4 308.6"/>
<path stroke-width="1.6" d="M360.8 224.9L354.2 214.9"/>
</g>
<circle cx="568.3" cy="491.5" r="14.3" fill="none" stroke="#adabab" stroke-width="1.8"/>
<circle cx="730.9" cy="388" r="14.3" fill="none" stroke="#adabab" stroke-width="1.8"/>
<circle cx="974.2" cy="418.8" r="14.3" fill="none" stroke="#adabab" stroke-width="1.8"/>
<circle cx="1176.9" cy="627" r="14.3" fill="none" stroke="#adabab" stroke-width="1.8"/>
<circle cx="1215.2" cy="958.6" r="14.3" fill="none" stroke="#adabab" stroke-width="1.8"/>
<path fill="none" stroke="#000" stroke-width="1.1" d="M537.4 512.3L542.3 508.5L547.4 504.8L552.5 501.3L557.8 497.9L563.1 494.6L568.5 491.4L574 488.3L579.5 485.4L585.1 482.6L590.8 479.9L596.6 477.3L602.4 474.9L608.3 472.7L614.2 470.5L620.2 468.5L626.2 466.6L632.3 464.9L638.5 463.3L644.6 461.9L650.9 460.6L657.1 459.4L663.4 458.4L669.7 457.5L676 456.8L682.4 456.2L688.7 455.8L695.1 455.5L701.5 455.4L707.9 455.4L714.3 455.6L720.7 455.9L727.1 456.4L733.5 457L739.9 457.8L746.3 458.7L752.6 459.7L759 460.9L765.3 462.3L771.6 463.8L777.8 465.5L784 467.3L790.2 469.2L796.3 471.3L802.4 473.6L808.5 476L814.5 478.5L820.4 481.2L826.3 484L832.1 486.9L837.8 490L843.5 493.2L849.1 496.6L854.7 500.1L860.1 503.7L865.5 507.4L870.8 511.3L876 515.3L881.1 519.4L886.1 523.7L891.1 528.1L895.9 532.5L900.6 537.1L905.2 541.9L909.7 546.7L914.2 551.6L918.4 556.7L922.6 561.8L926.7 567L930.6 572.4L934.4 577.8L938.1 583.4L941.7 589L945.1 594.7L948.4 600.5L951.6 606.3L954.7 612.3L957.6 618.3L960.3 624.4L962.9 630.6L965.4 636.8L967.8 643.1L970 649.4L972 655.8L973.9 662.3L975.6 668.8L977.2 675.3L978.7 681.9L980 688.5L981.1 695.2L982.1 701.9L982.9 708.6L983.6 715.3L984.1 722.1L984.5 728.9L984.7 735.7L984.7 742.5L984.6 749.3L984.3 756.1L983.9 762.9L983.3 769.7L982.6 776.4L981.6 783.2L980.6 790L979.4 796.7L978 803.4L976.4 810.1L974.7 816.7L972.9 823.3L970.9 829.9L968.7 836.4L966.4 842.9L963.9 849.4L961.3 855.7L958.5 862.1L955.6 868.3L952.5 874.5L949.3 880.7L946 886.7L942.5 892.7L938.8 898.6L935 904.4L931.1 910.2L927.1 915.8L922.9 921.4L918.5 926.8L914.1 932.2L909.5 937.5L904.8 942.6L900 947.7L895 952.6L889.9 957.5L884.8 962.2L879.5 966.8L874.1 971.2L868.5 975.6L862.9 979.8L857.2 983.9L851.4 987.9L845.5 991.7L839.5 995.4L833.4 999L827.2 1002.4L820.9 1005.7L814.6 1008.8L808.1 1011.8L801.6 1014.7L795.1 1017.3L788.4 1019.9L781.7 1022.3L775 1024.5L768.2 1026.6L761.3 1028.5L754.4 1030.2L747.4 1031.8L740.4 1033.3L733.4 1034.5L726.3 1035.7L719.2 1036.6L712.1 1037.4L705 1038L697.8 1038.4L690.6 1038.7L683.4 1038.8L676.2 1038.8L669 1038.6L661.8 1038.2L654.6 1037.6L647.4 1036.9L640.3 1036L633.1 1034.9L626 1033.7L618.9 1032.3L611.8 1030.8L604.7 1029L597.7 1027.1L590.8 1025.1L583.8 1022.9L577 1020.5L570.1 1017.9L563.4 1015.2L556.6 1012.4L550 1009.3L543.4 1006.1L536.9 1002.8L530.5 999.3L524.1 995.7L517.8 991.9L511.6 988L505.5 983.9L499.5 979.6L493.6 975.3L487.8 970.8L482.1 966.1L476.5 961.3L471 956.4L465.6 951.3L460.3 946.2L455.1 940.9L450.1 935.4L445.2 929.9L440.4 924.2L435.7 918.4L431.2 912.5L426.8 906.5L422.6 900.4L418.5 894.2L414.5 887.9L410.7 881.5L407 875L403.5 868.4L400.1 861.8L396.9 855L393.8 848.2L390.9 841.3L388.2 834.3L385.6 827.3L383.2 820.1L380.9 813L378.8 805.8L376.9 798.5L375.1 791.1L373.5 783.8L372.1 776.4L370.9 768.9L369.8 761.4L368.9 753.9L368.2 746.4L367.6 738.8L367.3 731.3L367.1 723.7L367.1 716.1L367.2 708.5L367.6 700.9L368.1 693.3L368.8 685.7L369.6 678.1L370.7 670.6L371.9 663L373.3 655.5L374.9 648.1L376.6 640.6L378.5 633.2L380.6 625.8L382.9 618.5L385.3 611.2L388 604L390.7 596.8L393.7 589.7L396.8 582.7L400.1 575.7L403.5 568.8L407.1 562L410.9 555.3L414.8 548.6L418.9 542L423.2 535.6L427.6 529.2L432.1 522.9L436.8 516.7L441.7 510.7L446.6 504.7L451.8 498.8L457 493.1L462.4 487.5L468 482L473.6 476.7L479.4 471.4L485.3 466.3L491.4 461.4L497.5 456.5L503.8 451.9L510.2 447.3L516.7 442.9L523.3 438.7L530 434.6L536.8 430.6L543.7 426.9L550.7 423.2L557.8 419.8L564.9 416.5L572.2 413.4L579.5 410.4L586.9 407.6L594.3 405L601.8 402.5L609.4 400.2L617.1 398.1L624.8 396.2L632.5 394.5L640.3 392.9L648.1 391.5L656 390.3L663.9 389.3L671.8 388.4L679.7 387.8L687.7 387.3L695.7 387L703.6 386.9L711.6 387L719.6 387.3L727.6 387.7L735.6 388.4L743.6 389.2L751.5 390.2L759.5 391.5L767.4 392.8L775.3 394.4L783.1 396.2L791 398.1L798.7 400.3L806.5 402.6L814.1 405.1L821.8 407.7L829.3 410.6L836.8 413.6L844.3 416.8L851.6 420.2L858.9 423.7L866.1 427.5L873.2 431.4L880.3 435.4L887.2 439.6L894.1 444L900.8 448.6L907.5 453.3L914 458.2L920.4 463.2L926.8 468.4L932.9 473.7L939 479.2L945 484.8L950.8 490.5L956.5 496.4L962.1 502.5L967.5 508.6L972.7 514.9L977.9 521.3L982.9 527.9L987.7 534.5L992.4 541.3L996.9 548.2L1001.3 555.2L1005.5 562.3L1009.5 569.5L1013.4 576.8L1017.1 584.2L1020.7 591.7L1024 599.2L1027.2 606.9L1030.2 614.6L1033.1 622.4L1035.7 630.3L1038.2 638.2L1040.5 646.2L1042.6 654.3L1044.5 662.4L1046.2 670.5L1047.8 678.7L1049.1 687L1050.3 695.2L1051.2 703.6L1052 711.9L1052.6 720.2L1053 728.6L1053.2 737L1053.2 745.4L1053 753.8L1052.6 762.2L1052 770.5L1051.2 778.9L1050.2 787.3L1049 795.6L1047.6 803.9L1046.1 812.2L1044.3 820.5L1042.3 828.7L1040.2 836.9L1037.9 845L1035.3 853.1L1032.6 861.1L1029.7 869.1L1026.6 877L1023.3 884.8L1019.9 892.6L1016.2 900.3L1012.4 907.8L1008.4 915.4L1004.2 922.8L999.8 930.1L995.3 937.3L990.6 944.5L985.7 951.5L980.7 958.4L975.5 965.2L970.1 971.9L964.6 978.4L959 984.9L953.1 991.2L947.2 997.3L941 1003.3L934.8 1009.2L928.4 1015L921.8 1020.6L915.2 1026L908.4 1031.3L901.4 1036.5L894.4 1041.4L887.2 1046.3L879.9 1050.9L872.6 1055.4L865 1059.7L857.4 1063.9L849.7 1067.8L841.9 1071.6L834 1075.2L826.1 1078.6L818 1081.9L809.9 1084.9L801.6 1087.8L793.3 1090.5L785 1093L776.6 1095.3L768.1 1097.4L759.6 1099.2L751 1100.9L742.4 1102.5L733.7 1103.8L725.1 1104.9L716.3 1105.7L707.6 1106.4L698.8 1106.9L690.1 1107.2L681.3 1107.3L672.5 1107.2L663.7 1106.9L654.9 1106.3L646.1 1105.6L637.4 1104.7L628.6 1103.5L619.9 1102.2L611.2 1100.6L602.6 1098.8L593.9 1096.9L585.3 1094.7L576.8 1092.4L568.3 1089.8L559.9 1087L551.5 1084.1L543.2 1080.9L535 1077.6L526.9 1074L518.8 1070.3L510.8 1066.4L502.9 1062.3L495.1 1058L487.4 1053.5L479.7 1048.8L472.2 1044L464.8 1039L457.6 1033.8L450.4 1028.4L443.3 1022.9L436.4 1017.2L429.6 1011.3L423 1005.3L416.5 999.1L410.1 992.8L403.9 986.3L397.8 979.7L391.9 972.9L386.1 966L380.5 958.9L375 951.7L369.8 944.4L364.6 937L359.7 929.4L354.9 921.7L350.3 913.9L345.9 906L341.7 898L337.6 889.9L333.8 881.7L330.1 873.4L326.6 865L323.4 856.5L320.3 847.9L317.4 839.3L314.7 830.6L312.2 821.8L309.9 813L307.9 804.1L306 795.1L304.3 786.2L302.9 777.1L301.6 768.1L300.6 759L299.8 749.8L299.2 740.7L298.8 731.5L298.6 722.4L298.6 713.2L298.9 704L299.3 694.8L300 685.6L300.9 676.4L302 667.3L303.3 658.2L304.8 649.1L306.6 640L308.5 631L310.7 622L313.1 613L315.6 604.1L318.4 595.3L321.4 586.5L324.6 577.8L328.1 569.2L331.7 560.7L335.5 552.2L339.5 543.8L343.7 535.5L348.1 527.3L352.7 519.2L357.5 511.2L362.4 503.3L367.6 495.5L372.9 487.8L378.5 480.3L384.2 472.9L390 465.6L396.1 458.5L402.3 451.5L408.7 444.6L415.2 437.9L421.9 431.3L428.8 424.9L435.8 418.6L443 412.5L450.3 406.6L457.7 400.8L465.3 395.2L473 389.8L480.8 384.5L488.8 379.5L496.9 374.6L505.1 369.9L513.4 365.4L521.9 361.1L530.4 357L539 353.1L547.7 349.4L556.5 345.8L565.4 342.5L574.4 339.4L583.5 336.5L592.6 333.8L601.8 331.4L611 329.1L620.3 327L629.7 325.2L639.1 323.6L648.5 322.2L658 321L667.5 320.1L677.1 319.3L686.6 318.8L696.2 318.5L705.8 318.5L715.4 318.6L724.9 319L734.5 319.6L744.1 320.4L753.7 321.5L763.2 322.7L772.7 324.2L782.2 326L791.6 327.9L801 330L810.3 332.4L819.6 335L828.9 337.8L838.1 340.9L847.2 344.1L856.2 347.6L865.2 351.2L874 355.1L882.8 359.2L891.5 363.5L900.1 368L908.6 372.7L917 377.6L925.3 382.7L933.5 388L941.5 393.5L949.4 399.2L957.2 405L964.9 411.1L972.4 417.3L979.8 423.7L987 430.3L994.1 437L1001 443.9L1007.8 451L1014.4 458.2L1020.8 465.6L1027.1 473.2L1033.1 480.8L1039.1 488.7L1044.8 496.7L1050.3 504.8L1055.7 513L1060.9 521.4L1065.9 529.9L1070.6 538.5L1075.2 547.2L1079.6 556.1L1083.8 565L1087.7 574.1L1091.5 583.2L1095 592.4L1098.4 601.8L1101.5 611.1L1104.4 620.6L1107.1 630.2L1109.5 639.8L1111.8 649.4L1113.8 659.2L1115.6 668.9L1117.1 678.8L1118.5 688.6L1119.6 698.5L1120.4 708.4L1121.1 718.4L1121.5 728.3L1121.7 738.3L1121.6 748.3L1121.3 758.3L1120.8 768.3L1120 778.2L1119 788.2L1117.8 798.1L1116.4 808L1114.7 817.9L1112.8 827.8L1110.6 837.6L1108.3 847.3L1105.7 857L1102.8 866.7L1099.8 876.3L1096.5 885.8L1093 895.2L1089.3 904.6L1085.4 913.9L1081.2 923.1L1076.8 932.2L1072.2 941.2L1067.4 950.1L1062.4 958.9L1057.2 967.5L1051.8 976.1L1046.2 984.5L1040.4 992.8L1034.4 1001L1028.2 1009L1021.8 1016.9L1015.2 1024.7L1008.4 1032.2L1001.5 1039.7L994.4 1047L987.1 1054.1L979.6 1061L972 1067.8L964.2 1074.4L956.3 1080.8L948.2 1087.1L940 1093.1L931.6 1099L923.1 1104.6L914.4 1110.1L905.6 1115.4L896.7 1120.4L887.7 1125.3L878.6 1130L869.3 1134.4L859.9 1138.6L850.5 1142.6L840.9 1146.4L831.3 1150L821.5 1153.4L811.7 1156.5L801.8 1159.4L791.9 1162L781.8 1164.5L771.7 1166.7L761.6 1168.6L751.4 1170.4L741.2 1171.8L730.9 1173.1L720.6 1174.1L710.3 1174.9L699.9 1175.4L689.5 1175.7L679.2 1175.8L668.8 1175.6L658.4 1175.2L648 1174.5L637.7 1173.6L627.3 1172.4L617 1171L606.7 1169.4L596.5 1167.5L586.2 1165.4L576.1 1163L566 1160.4L555.9 1157.6L545.9 1154.5L536 1151.2L526.1 1147.7L516.3 1143.9L506.7 1139.9L497.1 1135.7L487.6 1131.3L478.2 1126.6L468.9 1121.7L459.7 1116.6L450.6 1111.3L441.7 1105.8L432.8 1100L424.1 1094.1L415.6 1087.9L407.2 1081.6L398.9 1075L390.8 1068.3L382.8 1061.3L375 1054.2L367.4 1046.9L359.9 1039.4L352.6 1031.7L345.5 1023.9L338.6 1015.9L331.8 1007.7L325.2 999.4L318.8 990.9L312.7 982.3L306.7 973.5L300.9 964.6L295.3 955.5L290 946.3L284.8 937L279.9 927.5L275.2 918L270.7 908.3L266.4 898.5L262.4 888.6L258.5 878.7L255 868.6L251.6 858.4L248.5 848.2L245.6 837.9L243 827.5L240.6 817L238.4 806.5L236.5 796L234.9 785.4L233.5 774.7L232.3 764L231.4 753.3L230.7 742.6L230.3 731.8L230.1 721L230.2 710.2L230.5 699.5L231.1 688.7L231.9 677.9L233 667.2L234.4 656.4L235.9 645.7L237.8 635.1L239.9 624.5L242.2 613.9L244.8 603.4L247.6 592.9L250.7 582.5L254 572.1L257.5 561.9L261.3 551.7L265.4 541.6L269.6 531.6L274.1 521.7L278.9 511.9L283.8 502.2L289 492.6L294.5 483.1L300.1 473.8L306 464.5L312 455.5L318.3 446.5L324.8 437.7L331.5 429.1L338.4 420.6L345.5 412.2L352.8 404.1L360.3 396.1L368 388.2L375.9 380.6L384 373.1L392.2 365.8L400.6 358.7L409.1 351.8L417.9 345.1L426.8 338.6L435.8 332.3L445 326.2L454.3 320.3L463.8 314.6L473.4 309.2L483.2 304L493 299L503 294.2L513.1 289.7L523.3 285.4L533.6 281.3L544 277.5L554.5 273.9L565.1 270.5L575.8 267.4L586.5 264.6L597.3 262L608.2 259.6L619.1 257.5L630.1 255.7L641.1 254.1L652.2 252.8L663.3 251.7L674.4 250.9L685.6 250.3L696.7 250L707.9 250L719.1 250.2L730.3 250.7L741.4 251.4L752.6 252.4L763.7 253.7L774.8 255.2L785.9 257L796.9 259.1L807.9 261.4L818.9 263.9L829.7 266.7L840.6 269.8L851.3 273.1L862 276.7L872.6 280.5L883.1 284.6L893.5 288.9L903.8 293.4L914 298.2L924.2 303.3L934.2 308.5L944 314.1L953.8 319.8L963.4 325.8L972.9 332L982.2 338.4L991.4 345L1000.4 351.9L1009.3 358.9L1018 366.2L1026.6 373.7L1035 381.3L1043.2 389.2L1051.2 397.3L1059 405.5L1066.7 414L1074.1 422.6L1081.4 431.4L1088.4 440.4L1095.2 449.5L1101.9 458.8L1108.3 468.3L1114.5 477.9L1120.5 487.6L1126.2 497.5L1131.7 507.5L1137 517.7L1142.1 528L1146.9 538.4L1151.4 548.9L1155.8 559.5L1159.9 570.3L1163.7 581.1L1167.3 592L1170.6 603L1173.7 614.1L1176.5 625.3L1179 636.5L1181.3 647.8L1183.4 659.1L1185.1 670.5L1186.6 682L1187.9 693.5L1188.8 705L1189.5 716.5L1190 728.1L1190.1 739.6L1190 751.2L1189.7 762.8L1189 774.4L1188.1 785.9L1186.9 797.5L1185.5 809L1183.7 820.5L1181.8 831.9L1179.5 843.3L1177 854.7L1174.2 866L1171.1 877.2L1167.8 888.4L1164.2 899.5L1160.4 910.5L1156.3 921.4L1152 932.2L1147.4 943L1142.5 953.6L1137.4 964.1L1132.1 974.5L1126.5 984.8L1120.7 994.9L1114.6 1004.9L1108.3 1014.8L1101.8 1024.6L1095 1034.1L1088 1043.6L1080.8 1052.8L1073.4 1061.9L1065.7 1070.9L1057.9 1079.6L1049.8 1088.2L1041.6 1096.6L1033.1 1104.8L1024.5 1112.8L1015.6 1120.6L1006.6 1128.2L997.4 1135.6L988 1142.8L978.5 1149.7L968.8 1156.5L958.9 1163L948.9 1169.3L938.7 1175.4L928.4 1181.2L918 1186.8L907.4 1192.1L896.7 1197.2L885.9 1202L874.9 1206.6L863.9 1211L852.7 1215.1L841.4 1218.9L830.1 1222.5L818.7 1225.8L807.1 1228.8L795.6 1231.6L783.9 1234.1L772.2 1236.3L760.4 1238.3L748.6 1239.9L736.7 1241.4L724.8 1242.5L712.9 1243.3L701 1243.9L689 1244.2L677 1244.2L665.1 1244L653.1 1243.4L641.1 1242.6L629.2 1241.5L617.3 1240.2L605.4 1238.5L593.5 1236.6L581.7 1234.4L569.9 1231.9L558.2 1229.1L546.6 1226.1L535 1222.8L523.5 1219.2L512 1215.4L500.7 1211.3L489.5 1206.9L478.3 1202.3L467.3 1197.4L456.3 1192.2L445.5 1186.8L434.8 1181.2L424.3 1175.3L413.9 1169.1L403.6 1162.7L393.4 1156.1L383.5 1149.2L373.6 1142.1L364 1134.7L354.5 1127.1L345.2 1119.3L336 1111.3L327.1 1103.1L318.3 1094.7L309.7 1086L301.4 1077.2L293.2 1068.1L285.2 1058.9L277.5 1049.5L270 1039.9L262.7 1030.1L255.6 1020.1L248.7 1010L242.1 999.7L235.7 989.3L229.6 978.7L223.7 968L218.1 957.1L212.7 946.1L207.6 934.9L202.7 923.7L198.1 912.3L193.7 900.8L189.7 889.2L185.8 877.6L182.3 865.8L179 853.9L176 842L173.3 830L170.9 817.9L168.7 805.8L166.9 793.6L165.3 781.3L164 769.1L162.9 756.7L162.2 744.4L161.8 732.1L161.6 719.7L161.7 707.3L162.2 694.9L162.9 682.6L163.9 670.2L165.1 657.9L166.7 645.6L168.6 633.3L170.7 621.1L173.1 608.9L175.9 596.8L178.9 584.7L182.1 572.7L185.7 560.8L189.5 549L193.6 537.2L198 525.5L202.7 514L207.6 502.5L212.8 491.2L218.3 479.9L224 468.8L230 457.9L236.2 447L242.7 436.3L249.5 425.8L256.5 415.4L263.7 405.2L271.2 395.1L278.9 385.2L286.8 375.5L295 366L303.4 356.7L312 347.5L320.8 338.6L329.9 329.8L339.1 321.3L348.6 313L358.2 304.9L368 297L378 289.4L388.2 281.9L398.6 274.7L409.2 267.8L419.9 261.1L430.7 254.7L441.7 248.5L452.9 242.5L464.2 236.8L475.6 231.4L487.2 226.2L498.9 221.4L510.7 216.7L522.6 212.4L534.6 208.3L546.7 204.5L558.9 201L571.2 197.8L583.6 194.9L596 192.2L608.5 189.9L621.1 187.8L633.7 186L646.3 184.5L659 183.3L671.8 182.4L684.5 181.8L697.3 181.5L710 181.5L722.8 181.8L735.6 182.4L748.3 183.3L761.1 184.5L773.8 186L786.4 187.7L799.1 189.8L811.7 192.2L824.2 194.8L836.7 197.8L849.1 201L861.5 204.6L873.7 208.4L885.9 212.5L898 216.9L910 221.6L921.9 226.5L933.6 231.8L945.3 237.3L956.8 243L968.2 249.1L979.4 255.4L990.5 262L1001.5 268.8L1012.3 275.9L1022.9 283.3L1033.4 290.9L1043.6 298.7L1053.7 306.8L1063.7 315.1L1073.4 323.7L1082.9 332.4L1092.2 341.4L1101.4 350.7L1110.3 360.1L1119 369.8L1127.4 379.6L1135.7 389.7L1143.7 399.9L1151.4 410.3L1159 420.9L1166.2 431.7L1173.3 442.7L1180 453.8L1186.6 465.1L1192.8 476.5L1198.8 488.1L1204.5 499.9L1210 511.7L1215.2 523.7L1220.1 535.8L1224.7 548.1L1229 560.4L1233 572.9L1236.8 585.4L1240.3 598.1L1243.4 610.8L1246.3 623.6L1248.9 636.4L1251.2 649.3L1253.1 662.3L1254.8 675.4L1256.2 688.4L1257.3 701.5L1258 714.7L1258.5 727.8L1258.6 741L1258.5 754.1L1258 767.3L1257.2 780.5L1256.2 793.6L1254.8 806.7L1253.1 819.8L1251.1 832.9L1248.8 845.9L1246.2 858.8L1243.3 871.8L1240.1 884.6L1236.6 897.3L1232.8 910L1228.7 922.6L1224.3 935.1L1219.6 947.5L1214.7 959.8L1209.4 972L1203.9 984.1L1198 996L1191.9 1007.8L1185.5 1019.5L1178.9 1031L1172 1042.4L1164.8 1053.6L1157.3 1064.6L1149.6 1075.5L1141.7 1086.2L1133.4 1096.7L1125 1107L1116.3 1117.1L1107.3 1127L1098.2 1136.7L1088.8 1146.2L1079.1 1155.5L1069.3 1164.6L1059.3 1173.4L1049 1182L1038.5 1190.4L1027.9 1198.5L1017 1206.4L1006 1214L994.8 1221.4L983.4 1228.5L971.8 1235.3L960.1 1241.9L948.2 1248.2L936.2 1254.2L924.1 1260L911.8 1265.5L899.3 1270.6L886.8 1275.5L874.1 1280.1L861.3 1284.4L848.5 1288.5L835.5 1292.2L822.4 1295.6L809.3 1298.7L796.1 1301.5L782.8 1304L769.4 1306.2L756 1308L742.6 1309.6L729.1 1310.9L715.6 1311.8L702 1312.4L688.5 1312.7L674.9 1312.7L661.3 1312.4L647.8 1311.7L634.2 1310.8L620.7 1309.5L607.2 1307.9L593.7 1306L580.3 1303.8L566.9 1301.3L553.6 1298.4L540.4 1295.3L527.2 1291.8L514.1 1288L501 1284L488.1 1279.6L475.3 1274.9L462.6 1269.9L450 1264.7L437.5 1259.1L425.1 1253.2L412.9 1247.1L400.8 1240.6L388.9 1233.9L377.1 1226.9L365.5 1219.6L354 1212.1L342.8 1204.3L331.7 1196.2L320.8 1187.9L310 1179.3L299.5 1170.4L289.2 1161.3L279.1 1152L269.2 1142.4L259.5 1132.6L250.1 1122.6L240.9 1112.4L231.9 1101.9L223.2 1091.2L214.7 1080.3L206.5 1069.3L198.5 1058L190.8 1046.5L183.3 1034.9L176.2 1023.1L169.3 1011.1L162.6 998.9L156.3 986.6L150.2 974.2L144.5 961.6L139 948.9L133.8 936L128.9 923L124.3 909.9L120.1 896.7L116.1 883.4L112.4 870L109.1 856.5L106.1 842.9L103.3 829.3L100.9 815.6L98.9 801.8L97.1 788L95.7 774.1L94.5 760.2L93.7 746.3L93.3 732.3L93.1 718.4L93.3 704.4L93.8 690.4L94.6 676.5L95.8 662.5L97.3 648.6L99.1 634.8L101.2 620.9L103.7 607.1L106.4 593.4L109.5 579.7L112.9 566.1L116.7 552.6L120.7 539.1L125.1 525.8L129.7 512.5L134.7 499.4L140 486.4L145.6 473.4L151.5 460.7L157.7 448L164.2 435.5L170.9 423.2L178 411L185.3 398.9L193 387.1L200.9 375.4L209.1 363.9L217.5 352.5L226.2 341.4L235.2 330.5L244.4 319.8L253.9 309.3L263.7 299L273.6 288.9L283.8 279.1L294.3 269.5L304.9 260.2L315.8 251.1L326.9 242.2L338.2 233.6L349.7 225.3L361.4 217.2L373.3 209.4L385.4 201.9L397.6 194.7L410 187.7L422.6 181.1L435.4 174.7L448.3 168.6L461.3 162.8L474.5 157.4L487.8 152.2L501.2 147.3L514.7 142.8L528.4 138.5L542.1 134.6L555.9 131L569.9 127.8L583.9 124.8L597.9 122.2"/>
<g fill="none" stroke="#000" stroke-width="1.5">
<path d="M590.8 479.9L576.6 445"/>
<path d="M650.9 460.6L645.2 424.1"/>
<path d="M714.3 455.6L717.2 418.8"/>
<path d="M777.8 465.5L789.5 428.9"/>
<path d="M837.8 490L857.7 457.1"/>
<path d="M891.1 528.1L920.6 497.9"/>
<path d="M934.4 577.8L974 552.9"/>
<path d="M965.4 636.8L1020.9 617.8"/>
<path d="M982.1 701.9L1047.3 695.5"/>
<path d="M983.3 769.7L1051.9 779"/>
<path d="M968.7 836.4L1034.7 861.9"/>
<path d="M938.8 898.6L997.8 939.1"/>
<path d="M895 952.6L944.6 1007.3"/>
<path d="M839.5 995.4L875.1 1060.1"/>
<path d="M775 1024.5L794.5 1094.5"/>
<path d="M705 1038L707.7 1109.5"/>
<path d="M633.1 1034.9L621.9 1092.1"/>
<path d="M563.4 1015.2L539.6 1067.5"/>
<path d="M499.5 979.6L465 1024.2"/>
<path d="M445.2 929.9L403.1 963.8"/>
<path d="M403.5 868.4L355.1 891.6"/>
<path d="M376.9 798.5L324.4 809.8"/>
<path d="M367.1 723.7L327.5 722.9"/>
<path d="M374.9 648.1L336.9 638.3"/>
<path d="M400.1 575.7L367.1 558.3"/>
<path d="M441.7 510.7L415.9 488.1"/>
<path d="M497.5 456.5L478.1 429.3"/>
<path d="M564.9 416.5L552.8 386.9"/>
<path d="M640.3 392.9L635.2 360.6"/>
<path d="M719.6 387.3L722.2 354.3"/>
<path d="M798.7 400.3L809.4 366.9"/>
<path d="M873.2 431.4L893.3 398.1"/>
<path d="M939 479.2L974.7 442.7"/>
<path d="M992.4 541.3L1042.6 509.6"/>
<path d="M1030.2 614.6L1086.8 595.3"/>
<path d="M1050.3 695.2L1112 689.2"/>
<path d="M1051.2 778.9L1112.6 787.3"/>
<path d="M1032.6 861.1L1089.8 883.2"/>
<path d="M995.3 937.3L1044 970.7"/>
<path d="M941 1003.3L978.1 1044.2"/>
<path d="M872.6 1055.4L899.2 1103.7"/>
<path d="M793.3 1090.5L807.5 1141.4"/>
<path d="M707.6 1106.4L709.3 1149.8"/>
<path d="M619.9 1102.2L612.4 1140.2"/>
<path d="M535 1077.6L518.6 1113.6"/>
<path d="M457.6 1033.8L432.8 1065.7"/>
<path d="M391.9 972.9L357.8 1000.4"/>
<path d="M341.7 898L294.6 920.5"/>
<path d="M309.9 813L259 824"/>
<path d="M298.6 722.4L242.3 721.3"/>
<path d="M308.5 631L253.6 616.8"/>
<path d="M339.5 543.8L289.3 517.4"/>
<path d="M390 465.6L349.6 430.3"/>
<path d="M457.7 400.8L431.8 364.6"/>
<path d="M539 353.1L522.2 311.9"/>
<path d="M629.7 325.2L623.3 284.2"/>
<path d="M724.9 319L727.9 280.7"/>
<path d="M819.6 335L830.1 302.4"/>
<path d="M908.6 372.7L925.5 344.7"/>
<path d="M987 430.3L1011.8 405"/>
<path d="M1050.3 504.8L1083.8 483.7"/>
<path d="M1095 592.4L1133.2 579.4"/>
<path d="M1118.5 688.6L1162 684.4"/>
<path d="M1119 788.2L1163.5 794.3"/>
<path d="M1096.5 885.8L1138.4 902"/>
<path d="M1051.8 976.1L1087.9 1000.8"/>
<path d="M987.1 1054.1L1014.7 1084.5"/>
<path d="M905.6 1115.4L927 1154"/>
<path d="M811.7 1156.5L825 1204.1"/>
<path d="M710.3 1174.9L712.2 1225.8"/>
<path d="M606.7 1169.4L596.2 1222.8"/>
<path d="M506.7 1139.9L484.1 1189.5"/>
<path d="M415.6 1087.9L384.1 1128.5"/>
<path d="M338.6 1015.9L302.7 1044.8"/>
<path d="M279.9 927.5L242.1 945.6"/>
<path d="M243 827.5L207.3 835.2"/>
<path d="M230.1 721L196.2 720.4"/>
<path d="M242.2 613.9L211.2 605.9"/>
<path d="M278.9 511.9L247.6 495.4"/>
<path d="M338.4 420.6L311.8 397.3"/>
<path d="M417.9 345.1L398 317.2"/>
<path d="M513.1 289.7L500.6 259"/>
<path d="M619.1 257.5L614.5 228.2"/>
<path d="M730.3 250.7L732.5 221.5"/>
<path d="M840.6 269.8L849 243.3"/>
<path d="M944 314.1L959.2 289"/>
<path d="M1035 381.3L1058.7 357.2"/>
<path d="M1108.3 468.3L1137.3 450"/>
<path d="M1159.9 570.3L1198 557.2"/>
<path d="M1186.6 682L1229.4 677.8"/>
<path d="M1186.9 797.5L1229.5 803.3"/>
<path d="M1160.4 910.5L1202.3 926.6"/>
<path d="M1108.3 1014.8L1150.7 1043.9"/>
<path d="M1033.1 1104.8L1067.6 1142.8"/>
<path d="M938.7 1175.4L960.2 1214.3"/>
<path d="M830.1 1222.5L841.7 1264.3"/>
<path d="M712.9 1243.3L714.4 1282.1"/>
<path d="M593.5 1236.6L585.4 1277.7"/>
<path d="M478.3 1202.3L461 1240.4"/>
<path d="M373.6 1142.1L351 1171.2"/>
<path d="M285.2 1058.9L259.2 1079.9"/>
<path d="M218.1 957.1L187.9 971.5"/>
<path d="M176 842L144.1 848.9"/>
<path d="M161.6 719.7L126.2 719"/>
<path d="M175.9 596.8L141.6 588"/>
<path d="M218.3 479.9L184.6 462.2"/>
<path d="M286.8 375.5L258.2 350.5"/>
<path d="M378 289.4L353.9 255.6"/>
<path d="M487.2 226.2L471.5 187.8"/>
<path d="M608.5 189.9L602.2 149.3"/>
<path d="M735.6 182.4L738.7 141.4"/>
<path d="M861.5 204.6L874.6 163.6"/>
<path d="M979.4 255.4L1001.6 218.6"/>
<path d="M1082.9 332.4L1108.2 306.6"/>
<path d="M1166.2 431.7L1196.8 412.5"/>
<path d="M1224.7 548.1L1260 536"/>
<path d="M1254.8 675.4L1292.7 671.7"/>
<path d="M1254.8 806.7L1293.2 812"/>
<path d="M1224.3 935.1L1260.5 949.1"/>
<path d="M1164.8 1053.6L1194.9 1074.2"/>
<path d="M1079.1 1155.5L1102.2 1180.9"/>
<path d="M971.8 1235.3L987.6 1264"/>
<path d="M848.5 1288.5L857.2 1320"/>
<path d="M715.6 1311.8L716.8 1344.1"/>
<path d="M580.3 1303.8L573.8 1337"/>
<path d="M450 1264.7L436 1295.5"/>
<path d="M331.7 1196.2L310.9 1223"/>
<path d="M231.9 1101.9L204.7 1123.9"/>
<path d="M156.3 986.6L123.7 1002.2"/>
<path d="M109.1 856.5L71.5 864.6"/>
<path d="M93.1 718.4L54.3 717.6"/>
<path d="M109.5 579.7L71.9 570"/>
<path d="M157.7 448L125.7 431.2"/>
<path d="M235.2 330.5L210.6 309"/>
<path d="M338.2 233.6L319.4 207.3"/>
<path d="M461.3 162.8L449.9 135"/>
<path d="M597.9 122.2L593.4 92.9"/>
</g>
<path transform="translate(669.9 476.3) translate(-3.3 0)" d="M3.3 -9.4L4.4 -9.9L6.1 -11.6L6.1 0M12.7 -11.6L20.4 -11.6L14.9 0M24.2 -5L34.1 -5M38.5 -11.6L38.5 0L42.4 0L44 -0.6L45.1 -1.7L45.7 -2.8L46.2 -4.4L46.2 -7.2L45.7 -8.8L45.1 -9.9L44 -11L42.4 -11.6L38.5 -11.6M49.5 -4.4L50.1 -6.1L51.2 -7.2L52.3 -7.7L53.9 -7.7L55 -7.2L55.6 -6.6L56.1 -5.5L56.1 -4.4L49.5 -4.4L49.5 -3.3L50.1 -1.7L51.2 -0.6L52.3 0L53.9 0L55 -0.6L56.1 -1.7M66 -6.1L64.9 -7.2L63.8 -7.7L62.2 -7.7L61.1 -7.2L60 -6.1L59.4 -4.4L59.4 -3.3L60 -1.7L61.1 -0.6L62.2 0L63.8 0L64.9 -0.6L66 -1.7" fill="none" stroke="#000" stroke-width="1.0" stroke-linecap="round" stroke-linejoin="round"/>
<path transform="translate(842.7 514.6) rotate(40) translate(-1.7 0)" d="M2.2 -8.8L2.2 -9.4L2.8 -10.5L3.3 -11L4.4 -11.6L6.6 -11.6L7.7 -11L8.2 -10.5L8.8 -9.4L8.8 -8.2L8.2 -7.2L7.2 -5.5L1.7 0L9.4 0M12.7 -6.6L12.7 -5L13.2 -2.2L14.3 -0.6L16 0L17.1 0L18.7 -0.6L19.8 -2.2L20.4 -5L20.4 -6.6L19.8 -9.4L18.7 -11L17.1 -11.6L16 -11.6L14.3 -11L13.2 -9.4L12.7 -6.6M24.2 -5L34.1 -5M38.5 -11.6L38.5 0L42.4 0L44 -0.6L45.1 -1.7L45.7 -2.8L46.2 -4.4L46.2 -7.2L45.7 -8.8L45.1 -9.9L44 -11L42.4 -11.6L38.5 -11.6M49.5 -4.4L50.1 -6.1L51.2 -7.2L52.3 -7.7L53.9 -7.7L55 -7.2L55.6 -6.6L56.1 -5.5L56.1 -4.4L49.5 -4.4L49.5 -3.3L50.1 -1.7L51.2 -0.6L52.3 0L53.9 0L55 -0.6L56.1 -1.7M66 -6.1L64.9 -7.2L63.8 -7.7L62.2 -7.7L61.1 -7.2L60 -6.1L59.4 -4.4L59.4 -3.3L60 -1.7L61.1 -0.6L62.2 0L63.8 0L64.9 -0.6L66 -1.7" fill="none" stroke="#000" stroke-width="1.0" stroke-linecap="round" stroke-linejoin="round"/>
<path transform="translate(953.5 659.2) rotate(80) translate(-1.7 0)" d="M2.2 -8.8L2.2 -9.4L2.8 -10.5L3.3 -11L4.4 -11.6L6.6 -11.6L7.7 -11L8.2 -10.5L8.8 -9.4L8.8 -8.2L8.2 -7.2L7.2 -5.5L1.7 0L9.4 0M12.7 -2.2L13.2 -1.1L13.8 -0.6L15.4 0L17.1 0L18.7 -0.6L19.8 -1.7L20.4 -3.3L20.4 -4.4L19.8 -6.1L19.2 -6.6L18.2 -7.2L16.5 -7.2L19.8 -11.6L13.8 -11.6M24.2 -5L34.1 -5M38.5 -11.6L38.5 0L42.4 0L44 -0.6L45.1 -1.7L45.7 -2.8L46.2 -4.4L46.2 -7.2L45.7 -8.8L45.1 -9.9L44 -11L42.4 -11.6L38.5 -11.6M49.5 -4.4L50.1 -6.1L51.2 -7.2L52.3 -7.7L53.9 -7.7L55 -7.2L55.6 -6.6L56.1 -5.5L56.1 -4.4L49.5 -4.4L49.5 -3.3L50.1 -1.7L51.2 -0.6L52.3 0L53.9 0L55 -0.6L56.1 -1.7M66 -6.1L64.9 -7.2L63.8 -7.7L62.2 -7.7L61.1 -7.2L60 -6.1L59.4 -4.4L59.4 -3.3L60 -1.7L61.1 -0.6L62.2 0L63.8 0L64.9 -0.6L66 -1.7" fill="none" stroke="#000" stroke-width="1.0" stroke-linecap="round" stroke-linejoin="round"/>
<path transform="translate(955.6 851.3) rotate(-60) translate(-66 0)" d="M2.2 -8.8L2.2 -9.4L2.8 -10.5L3.3 -11L4.4 -11.6L6.6 -11.6L7.7 -11L8.2 -10.5L8.8 -9.4L8.8 -8.2L8.2 -7.2L7.2 -5.5L1.7 0L9.4 0M13.2 -3.9L13.8 -1.7L14.9 -0.6L16.5 0L17.1 0L18.7 -0.6L19.8 -1.7L20.4 -3.3L20.4 -3.9L19.8 -5.5L18.7 -6.6L17.1 -7.2L16.5 -7.2L14.9 -6.6L13.8 -5.5L13.2 -3.9L13.2 -6.6L13.8 -9.4L14.9 -11L16.5 -11.6L17.6 -11.6L19.2 -11L19.8 -9.9M24.2 -5L34.1 -5M38.5 -11.6L38.5 0L42.4 0L44 -0.6L45.1 -1.7L45.7 -2.8L46.2 -4.4L46.2 -7.2L45.7 -8.8L45.1 -9.9L44 -11L42.4 -11.6L38.5 -11.6M49.5 -4.4L50.1 -6.1L51.2 -7.2L52.3 -7.7L53.9 -7.7L55 -7.2L55.6 -6.6L56.1 -5.5L56.1 -4.4L49.5 -4.4L49.5 -3.3L50.1 -1.7L51.2 -0.6L52.3 0L53.9 0L55 -0.6L56.1 -1.7M66 -6.1L64.9 -7.2L63.8 -7.7L62.2 -7.7L61.1 -7.2L60 -6.1L59.4 -4.4L59.4 -3.3L60 -1.7L61.1 -0.6L62.2 0L63.8 0L64.9 -0.6L66 -1.7" fill="none" stroke="#000" stroke-width="1.0" stroke-linecap="round" stroke-linejoin="round"/>
<path transform="translate(819.5 998.6) rotate(-20) translate(-66 0)" d="M2.2 -8.8L2.2 -9.4L2.8 -10.5L3.3 -11L4.4 -11.6L6.6 -11.6L7.7 -11L8.2 -10.5L8.8 -9.4L8.8 -8.2L8.2 -7.2L7.2 -5.5L1.7 0L9.4 0M13.2 -1.7L13.8 -0.6L15.4 0L16.5 0L18.2 -0.6L19.2 -2.2L19.8 -5L19.8 -7.7L19.2 -9.9L18.2 -11L16.5 -11.6L16 -11.6L14.3 -11L13.2 -9.9L12.7 -8.2L12.7 -7.7L13.2 -6.1L14.3 -5L16 -4.4L16.5 -4.4L18.2 -5L19.2 -6.1L19.8 -7.7M24.2 -5L34.1 -5M38.5 -11.6L38.5 0L42.4 0L44 -0.6L45.1 -1.7L45.7 -2.8L46.2 -4.4L46.2 -7.2L45.7 -8.8L45.1 -9.9L44 -11L42.4 -11.6L38.5 -11.6M49.5 -4.4L50.1 -6.1L51.2 -7.2L52.3 -7.7L53.9 -7.7L55 -7.2L55.6 -6.6L56.1 -5.5L56.1 -4.4L49.5 -4.4L49.5 -3.3L50.1 -1.7L51.2 -0.6L52.3 0L53.9 0L55 -0.6L56.1 -1.7M66 -6.1L64.9 -7.2L63.8 -7.7L62.2 -7.7L61.1 -7.2L60 -6.1L59.4 -4.4L59.4 -3.3L60 -1.7L61.1 -0.6L62.2 0L63.8 0L64.9 -0.6L66 -1.7" fill="none" stroke="#000" stroke-width="1.0" stroke-linecap="round" stroke-linejoin="round"/>
<path transform="translate(615.3 1024.4) rotate(20) translate(-63.8 0)" d="M1.7 -6.6L1.7 -5L2.2 -2.2L3.3 -0.6L5 0L6.1 0L7.7 -0.6L8.8 -2.2L9.4 -5L9.4 -6.6L8.8 -9.4L7.7 -11L6.1 -11.6L5 -11.6L3.3 -11L2.2 -9.4L1.7 -6.6M14.3 -9.4L15.4 -9.9L17.1 -11.6L17.1 0M24.2 -5L34.1 -5M37.4 -3.9L37.4 -2.8L38 -1.1L38.5 -0.6L39.6 0L40.7 0L41.8 -0.6L42.4 -1.1L42.9 -2.8L42.9 -11.6M53.4 -7.7L53.4 -6.1L53.4 -1.7L53.4 0M53.4 -6.1L52.3 -7.2L51.2 -7.7L49.5 -7.7L48.4 -7.2L47.3 -6.1L46.8 -4.4L46.8 -3.3L47.3 -1.7L48.4 -0.6L49.5 0L51.2 0L52.3 -0.6L53.4 -1.7M57.8 -7.7L57.8 -5.5L57.8 0M57.8 -5.5L59.4 -7.2L60.5 -7.7L62.2 -7.7L63.3 -7.2L63.8 -5.5L63.8 0" fill="none" stroke="#000" stroke-width="1.0" stroke-linecap="round" stroke-linejoin="round"/>
<path transform="translate(438 909.9) rotate(60) translate(-63.8 0)" d="M1.7 -6.6L1.7 -5L2.2 -2.2L3.3 -0.6L5 0L6.1 0L7.7 -0.6L8.8 -2.2L9.4 -5L9.4 -6.6L8.8 -9.4L7.7 -11L6.1 -11.6L5 -11.6L3.3 -11L2.2 -9.4L1.7 -6.6M18.2 0L18.2 -3.9L18.2 -11.6L12.7 -3.9L18.2 -3.9L20.9 -3.9M24.2 -5L34.1 -5M37.4 -3.9L37.4 -2.8L38 -1.1L38.5 -0.6L39.6 0L40.7 0L41.8 -0.6L42.4 -1.1L42.9 -2.8L42.9 -11.6M53.4 -7.7L53.4 -6.1L53.4 -1.7L53.4 0M53.4 -6.1L52.3 -7.2L51.2 -7.7L49.5 -7.7L48.4 -7.2L47.3 -6.1L46.8 -4.4L46.8 -3.3L47.3 -1.7L48.4 -0.6L49.5 0L51.2 0L52.3 -0.6L53.4 -1.7M57.8 -7.7L57.8 -5.5L57.8 0M57.8 -5.5L59.4 -7.2L60.5 -7.7L62.2 -7.7L63.3 -7.2L63.8 -5.5L63.8 0" fill="none" stroke="#000" stroke-width="1.0" stroke-linecap="round" stroke-linejoin="round"/>
<path transform="translate(386.1 704.3) rotate(280) translate(-1.7 0)" d="M1.7 -6.6L1.7 -5L2.2 -2.2L3.3 -0.6L5 0L6.1 0L7.7 -0.6L8.8 -2.2L9.4 -5L9.4 -6.6L8.8 -9.4L7.7 -11L6.1 -11.6L5 -11.6L3.3 -11L2.2 -9.4L1.7 -6.6M12.7 -11.6L20.4 -11.6L14.9 0M24.2 -5L34.1 -5M37.4 -3.9L37.4 -2.8L38 -1.1L38.5 -0.6L39.6 0L40.7 0L41.8 -0.6L42.4 -1.1L42.9 -2.8L42.9 -11.6M53.4 -7.7L53.4 -6.1L53.4 -1.7L53.4 0M53.4 -6.1L52.3 -7.2L51.2 -7.7L49.5 -7.7L48.4 -7.2L47.3 -6.1L46.8 -4.4L46.8 -3.3L47.3 -1.7L48.4 -0.6L49.5 0L51.2 0L52.3 -0.6L53.4 -1.7M57.8 -7.7L57.8 -5.5L57.8 0M57.8 -5.5L59.4 -7.2L60.5 -7.7L62.2 -7.7L63.3 -7.2L63.8 -5.5L63.8 0" fill="none" stroke="#000" stroke-width="1.0" stroke-linecap="round" stroke-linejoin="round"/>
<path transform="translate(469 507.7) rotate(320) translate(-3.3 0)" d="M3.3 -9.4L4.4 -9.9L6.1 -11.6L6.1 0M12.7 -6.6L12.7 -5L13.2 -2.2L14.3 -0.6L16 0L17.1 0L18.7 -0.6L19.8 -2.2L20.4 -5L20.4 -6.6L19.8 -9.4L18.7 -11L17.1 -11.6L16 -11.6L14.3 -11L13.2 -9.4L12.7 -6.6M24.2 -5L34.1 -5M37.4 -3.9L37.4 -2.8L38 -1.1L38.5 -0.6L39.6 0L40.7 0L41.8 -0.6L42.4 -1.1L42.9 -2.8L42.9 -11.6M53.4 -7.7L53.4 -6.1L53.4 -1.7L53.4 0M53.4 -6.1L52.3 -7.2L51.2 -7.7L49.5 -7.7L48.4 -7.2L47.3 -6.1L46.8 -4.4L46.8 -3.3L47.3 -1.7L48.4 -0.6L49.5 0L51.2 0L52.3 -0.6L53.4 -1.7M57.8 -7.7L57.8 -5.5L57.8 0M57.8 -5.5L59.4 -7.2L60.5 -7.7L62.2 -7.7L63.3 -7.2L63.8 -5.5L63.8 0" fill="none" stroke="#000" stroke-width="1.0" stroke-linecap="round" stroke-linejoin="round"/>
<path transform="translate(666.8 407.8) translate(-3.3 0)" d="M3.3 -9.4L4.4 -9.9L6.1 -11.6L6.1 0M12.7 -2.2L13.2 -1.1L13.8 -0.6L15.4 0L17.1 0L18.7 -0.6L19.8 -1.7L20.4 -3.3L20.4 -4.4L19.8 -6.1L19.2 -6.6L18.2 -7.2L16.5 -7.2L19.8 -11.6L13.8 -11.6M24.2 -5L34.1 -5M37.4 -3.9L37.4 -2.8L38 -1.1L38.5 -0.6L39.6 0L40.7 0L41.8 -0.6L42.4 -1.1L42.9 -2.8L42.9 -11.6M53.4 -7.7L53.4 -6.1L53.4 -1.7L53.4 0M53.4 -6.1L52.3 -7.2L51.2 -7.7L49.5 -7.7L48.4 -7.2L47.3 -6.1L46.8 -4.4L46.8 -3.3L47.3 -1.7L48.4 -0.6L49.5 0L51.2 0L52.3 -0.6L53.4 -1.7M57.8 -7.7L57.8 -5.5L57.8 0M57.8 -5.5L59.4 -7.2L60.5 -7.7L62.2 -7.7L63.3 -7.2L63.8 -5.5L63.8 0" fill="none" stroke="#000" stroke-width="1.0" stroke-linecap="round" stroke-linejoin="round"/>
<path transform="translate(884.2 459.9) rotate(40) translate(-3.3 0)" d="M3.3 -9.4L4.4 -9.9L6.1 -11.6L6.1 0M13.2 -3.9L13.8 -1.7L14.9 -0.6L16.5 0L17.1 0L18.7 -0.6L19.8 -1.7L20.4 -3.3L20.4 -3.9L19.8 -5.5L18.7 -6.6L17.1 -7.2L16.5 -7.2L14.9 -6.6L13.8 -5.5L13.2 -3.9L13.2 -6.6L13.8 -9.4L14.9 -11L16.5 -11.6L17.6 -11.6L19.2 -11L19.8 -9.9M24.2 -5L34.1 -5M37.4 -3.9L37.4 -2.8L38 -1.1L38.5 -0.6L39.6 0L40.7 0L41.8 -0.6L42.4 -1.1L42.9 -2.8L42.9 -11.6M53.4 -7.7L53.4 -6.1L53.4 -1.7L53.4 0M53.4 -6.1L52.3 -7.2L51.2 -7.7L49.5 -7.7L48.4 -7.2L47.3 -6.1L46.8 -4.4L46.8 -3.3L47.3 -1.7L48.4 -0.6L49.5 0L51.2 0L52.3 -0.6L53.4 -1.7M57.8 -7.7L57.8 -5.5L57.8 0M57.8 -5.5L59.4 -7.2L60.5 -7.7L62.2 -7.7L63.3 -7.2L63.8 -5.5L63.8 0" fill="none" stroke="#000" stroke-width="1.0" stroke-linecap="round" stroke-linejoin="round"/>
<path transform="translate(1020.4 643.9) rotate(80) translate(-3.3 0)" d="M3.3 -9.4L4.4 -9.9L6.1 -11.6L6.1 0M13.2 -1.7L13.8 -0.6L15.4 0L16.5 0L18.2 -0.6L19.2 -2.2L19.8 -5L19.8 -7.7L19.2 -9.9L18.2 -11L16.5 -11.6L16 -11.6L14.3 -11L13.2 -9.9L12.7 -8.2L12.7 -7.7L13.2 -6.1L14.3 -5L16 -4.4L16.5 -4.4L18.2 -5L19.2 -6.1L19.8 -7.7M24.2 -5L34.1 -5M37.4 -3.9L37.4 -2.8L38 -1.1L38.5 -0.6L39.6 0L40.7 0L41.8 -0.6L42.4 -1.1L42.9 -2.8L42.9 -11.6M53.4 -7.7L53.4 -6.1L53.4 -1.7L53.4 0M53.4 -6.1L52.3 -7.2L51.2 -7.7L49.5 -7.7L48.4 -7.2L47.3 -6.1L46.8 -4.4L46.8 -3.3L47.3 -1.7L48.4 -0.6L49.5 0L51.2 0L52.3 -0.6L53.4 -1.7M57.8 -7.7L57.8 -5.5L57.8 0M57.8 -5.5L59.4 -7.2L60.5 -7.7L62.2 -7.7L63.3 -7.2L63.8 -5.5L63.8 0" fill="none" stroke="#000" stroke-width="1.0" stroke-linecap="round" stroke-linejoin="round"/>
<path transform="translate(1016.7 882.5) rotate(-60) translate(-63.8 0)" d="M2.2 -8.8L2.2 -9.4L2.8 -10.5L3.3 -11L4.4 -11.6L6.6 -11.6L7.7 -11L8.2 -10.5L8.8 -9.4L8.8 -8.2L8.2 -7.2L7.2 -5.5L1.7 0L9.4 0M13.2 -8.8L13.2 -9.4L13.8 -10.5L14.3 -11L15.4 -11.6L17.6 -11.6L18.7 -11L19.2 -10.5L19.8 -9.4L19.8 -8.2L19.2 -7.2L18.2 -5.5L12.7 0L20.4 0M24.2 -5L34.1 -5M37.4 -3.9L37.4 -2.8L38 -1.1L38.5 -0.6L39.6 0L40.7 0L41.8 -0.6L42.4 -1.1L42.9 -2.8L42.9 -11.6M53.4 -7.7L53.4 -6.1L53.4 -1.7L53.4 0M53.4 -6.1L52.3 -7.2L51.2 -7.7L49.5 -7.7L48.4 -7.2L47.3 -6.1L46.8 -4.4L46.8 -3.3L47.3 -1.7L48.4 -0.6L49.5 0L51.2 0L52.3 -0.6L53.4 -1.7M57.8 -7.7L57.8 -5.5L57.8 0M57.8 -5.5L59.4 -7.2L60.5 -7.7L62.2 -7.7L63.3 -7.2L63.8 -5.5L63.8 0" fill="none" stroke="#000" stroke-width="1.0" stroke-linecap="round" stroke-linejoin="round"/>
<path transform="translate(846.4 1061.7) rotate(-20) translate(-63.8 0)" d="M2.2 -8.8L2.2 -9.4L2.8 -10.5L3.3 -11L4.4 -11.6L6.6 -11.6L7.7 -11L8.2 -10.5L8.8 -9.4L8.8 -8.2L8.2 -7.2L7.2 -5.5L1.7 0L9.4 0M12.7 -2.2L13.2 -1.1L13.8 -0.6L15.4 0L17.1 0L18.7 -0.6L19.8 -1.7L20.4 -3.3L20.4 -4.4L19.8 -6.1L18.7 -7.2L17.1 -7.7L15.4 -7.7L13.8 -7.2L13.2 -6.6L13.8 -11.6L19.2 -11.6M24.2 -5L34.1 -5M37.4 -3.9L37.4 -2.8L38 -1.1L38.5 -0.6L39.6 0L40.7 0L41.8 -0.6L42.4 -1.1L42.9 -2.8L42.9 -11.6M53.4 -7.7L53.4 -6.1L53.4 -1.7L53.4 0M53.4 -6.1L52.3 -7.2L51.2 -7.7L49.5 -7.7L48.4 -7.2L47.3 -6.1L46.8 -4.4L46.8 -3.3L47.3 -1.7L48.4 -0.6L49.5 0L51.2 0L52.3 -0.6L53.4 -1.7M57.8 -7.7L57.8 -5.5L57.8 0M57.8 -5.5L59.4 -7.2L60.5 -7.7L62.2 -7.7L63.3 -7.2L63.8 -5.5L63.8 0" fill="none" stroke="#000" stroke-width="1.0" stroke-linecap="round" stroke-linejoin="round"/>
<path transform="translate(595.5 1090.1) rotate(20) translate(-63.8 0)" d="M2.2 -8.8L2.2 -9.4L2.8 -10.5L3.3 -11L4.4 -11.6L6.6 -11.6L7.7 -11L8.2 -10.5L8.8 -9.4L8.8 -8.2L8.2 -7.2L7.2 -5.5L1.7 0L9.4 0M12.7 -3.9L12.7 -2.2L13.2 -1.1L13.8 -0.6L15.4 0L17.6 0L19.2 -0.6L19.8 -1.1L20.4 -2.2L20.4 -3.9L19.8 -5L18.7 -6.1L17.1 -6.6L14.9 -7.2L13.8 -7.7L13.2 -8.8L13.2 -9.9L13.8 -11L15.4 -11.6L17.6 -11.6L19.2 -11L19.8 -9.9L19.8 -8.8L19.2 -7.7L18.2 -7.2L16 -6.6L14.3 -6.1L13.2 -5L12.7 -3.9M24.2 -5L34.1 -5M37.4 -3.9L37.4 -2.8L38 -1.1L38.5 -0.6L39.6 0L40.7 0L41.8 -0.6L42.4 -1.1L42.9 -2.8L42.9 -11.6M53.4 -7.7L53.4 -6.1L53.4 -1.7L53.4 0M53.4 -6.1L52.3 -7.2L51.2 -7.7L49.5 -7.7L48.4 -7.2L47.3 -6.1L46.8 -4.4L46.8 -3.3L47.3 -1.7L48.4 -0.6L49.5 0L51.2 0L52.3 -0.6L53.4 -1.7M57.8 -7.7L57.8 -5.5L57.8 0M57.8 -5.5L59.4 -7.2L60.5 -7.7L62.2 -7.7L63.3 -7.2L63.8 -5.5L63.8 0" fill="none" stroke="#000" stroke-width="1.0" stroke-linecap="round" stroke-linejoin="round"/>
<path transform="translate(380.8 947.7) rotate(60) translate(-63.8 0)" d="M1.7 -2.2L2.2 -1.1L2.8 -0.6L4.4 0L6.1 0L7.7 -0.6L8.8 -1.7L9.4 -3.3L9.4 -4.4L8.8 -6.1L8.2 -6.6L7.2 -7.2L5.5 -7.2L8.8 -11.6L2.8 -11.6M14.3 -9.4L15.4 -9.9L17.1 -11.6L17.1 0M24.2 -5L34.1 -5M37.4 -3.9L37.4 -2.8L38 -1.1L38.5 -0.6L39.6 0L40.7 0L41.8 -0.6L42.4 -1.1L42.9 -2.8L42.9 -11.6M53.4 -7.7L53.4 -6.1L53.4 -1.7L53.4 0M53.4 -6.1L52.3 -7.2L51.2 -7.7L49.5 -7.7L48.4 -7.2L47.3 -6.1L46.8 -4.4L46.8 -3.3L47.3 -1.7L48.4 -0.6L49.5 0L51.2 0L52.3 -0.6L53.4 -1.7M57.8 -7.7L57.8 -5.5L57.8 0M57.8 -5.5L59.4 -7.2L60.5 -7.7L62.2 -7.7L63.3 -7.2L63.8 -5.5L63.8 0" fill="none" stroke="#000" stroke-width="1.0" stroke-linecap="round" stroke-linejoin="round"/>
<path transform="translate(317.9 696.7) rotate(280) translate(-1.7 0)" d="M1.7 -6.6L1.7 -5L2.2 -2.2L3.3 -0.6L5 0L6.1 0L7.7 -0.6L8.8 -2.2L9.4 -5L9.4 -6.6L8.8 -9.4L7.7 -11L6.1 -11.6L5 -11.6L3.3 -11L2.2 -9.4L1.7 -6.6M12.7 -2.2L13.2 -1.1L13.8 -0.6L15.4 0L17.1 0L18.7 -0.6L19.8 -1.7L20.4 -3.3L20.4 -4.4L19.8 -6.1L19.2 -6.6L18.2 -7.2L16.5 -7.2L19.8 -11.6L13.8 -11.6M24.2 -5L34.1 -5M38.5 -6.1L38.5 0M38.5 -6.1L38.5 -11.6L45.7 -11.6M38.5 -6.1L42.9 -6.1M47.9 -4.4L48.4 -6.1L49.5 -7.2L50.6 -7.7L52.3 -7.7L53.4 -7.2L53.9 -6.6L54.5 -5.5L54.5 -4.4L47.9 -4.4L47.9 -3.3L48.4 -1.7L49.5 -0.6L50.6 0L52.3 0L53.4 -0.6L54.5 -1.7M58.3 -11.6L58.3 -6.1L58.3 -1.7L58.3 0M58.3 -6.1L59.4 -7.2L60.5 -7.7L62.2 -7.7L63.3 -7.2L64.4 -6.1L64.9 -4.4L64.9 -3.3L64.4 -1.7L63.3 -0.6L62.2 0L60.5 0L59.4 -0.6L58.3 -1.7" fill="none" stroke="#000" stroke-width="1.0" stroke-linecap="round" stroke-linejoin="round"/>
<path transform="translate(421.6 458.2) rotate(320) translate(-1.7 0)" d="M1.7 -6.6L1.7 -5L2.2 -2.2L3.3 -0.6L5 0L6.1 0L7.7 -0.6L8.8 -2.2L9.4 -5L9.4 -6.6L8.8 -9.4L7.7 -11L6.1 -11.6L5 -11.6L3.3 -11L2.2 -9.4L1.7 -6.6M13.2 -3.9L13.8 -1.7L14.9 -0.6L16.5 0L17.1 0L18.7 -0.6L19.8 -1.7L20.4 -3.3L20.4 -3.9L19.8 -5.5L18.7 -6.6L17.1 -7.2L16.5 -7.2L14.9 -6.6L13.8 -5.5L13.2 -3.9L13.2 -6.6L13.8 -9.4L14.9 -11L16.5 -11.6L17.6 -11.6L19.2 -11L19.8 -9.9M24.2 -5L34.1 -5M38.5 -6.1L38.5 0M38.5 -6.1L38.5 -11.6L45.7 -11.6M38.5 -6.1L42.9 -6.1M47.9 -4.4L48.4 -6.1L49.5 -7.2L50.6 -7.7L52.3 -7.7L53.4 -7.2L53.9 -6.6L54.5 -5.5L54.5 -4.4L47.9 -4.4L47.9 -3.3L48.4 -1.7L49.5 -0.6L50.6 0L52.3 0L53.4 -0.6L54.5 -1.7M58.3 -11.6L58.3 -6.1L58.3 -1.7L58.3 0M58.3 -6.1L59.4 -7.2L60.5 -7.7L62.2 -7.7L63.3 -7.2L64.4 -6.1L64.9 -4.4L64.9 -3.3L64.4 -1.7L63.3 -0.6L62.2 0L60.5 0L59.4 -0.6L58.3 -1.7" fill="none" stroke="#000" stroke-width="1.0" stroke-linecap="round" stroke-linejoin="round"/>
<path transform="translate(658.9 339.7) translate(-1.7 0)" d="M1.7 -6.6L1.7 -5L2.2 -2.2L3.3 -0.6L5 0L6.1 0L7.7 -0.6L8.8 -2.2L9.4 -5L9.4 -6.6L8.8 -9.4L7.7 -11L6.1 -11.6L5 -11.6L3.3 -11L2.2 -9.4L1.7 -6.6M13.2 -1.7L13.8 -0.6L15.4 0L16.5 0L18.2 -0.6L19.2 -2.2L19.8 -5L19.8 -7.7L19.2 -9.9L18.2 -11L16.5 -11.6L16 -11.6L14.3 -11L13.2 -9.9L12.7 -8.2L12.7 -7.7L13.2 -6.1L14.3 -5L16 -4.4L16.5 -4.4L18.2 -5L19.2 -6.1L19.8 -7.7M24.2 -5L34.1 -5M38.5 -6.1L38.5 0M38.5 -6.1L38.5 -11.6L45.7 -11.6M38.5 -6.1L42.9 -6.1M47.9 -4.4L48.4 -6.1L49.5 -7.2L50.6 -7.7L52.3 -7.7L53.4 -7.2L53.9 -6.6L54.5 -5.5L54.5 -4.4L47.9 -4.4L47.9 -3.3L48.4 -1.7L49.5 -0.6L50.6 0L52.3 0L53.4 -0.6L54.5 -1.7M58.3 -11.6L58.3 -6.1L58.3 -1.7L58.3 0M58.3 -6.1L59.4 -7.2L60.5 -7.7L62.2 -7.7L63.3 -7.2L64.4 -6.1L64.9 -4.4L64.9 -3.3L64.4 -1.7L63.3 -0.6L62.2 0L60.5 0L59.4 -0.6L58.3 -1.7" fill="none" stroke="#000" stroke-width="1.0" stroke-linecap="round" stroke-linejoin="round"/>
<path transform="translate(921.9 402.8) rotate(40) translate(-3.3 0)" d="M3.3 -9.4L4.4 -9.9L6.1 -11.6L6.1 0M13.2 -8.8L13.2 -9.4L13.8 -10.5L14.3 -11L15.4 -11.6L17.6 -11.6L18.7 -11L19.2 -10.5L19.8 -9.4L19.8 -8.2L19.2 -7.2L18.2 -5.5L12.7 0L20.4 0M24.2 -5L34.1 -5M38.5 -6.1L38.5 0M38.5 -6.1L38.5 -11.6L45.7 -11.6M38.5 -6.1L42.9 -6.1M47.9 -4.4L48.4 -6.1L49.5 -7.2L50.6 -7.7L52.3 -7.7L53.4 -7.2L53.9 -6.6L54.5 -5.5L54.5 -4.4L47.9 -4.4L47.9 -3.3L48.4 -1.7L49.5 -0.6L50.6 0L52.3 0L53.4 -0.6L54.5 -1.7M58.3 -11.6L58.3 -6.1L58.3 -1.7L58.3 0M58.3 -6.1L59.4 -7.2L60.5 -7.7L62.2 -7.7L63.3 -7.2L64.4 -6.1L64.9 -4.4L64.9 -3.3L64.4 -1.7L63.3 -0.6L62.2 0L60.5 0L59.4 -0.6L58.3 -1.7" fill="none" stroke="#000" stroke-width="1.0" stroke-linecap="round" stroke-linejoin="round"/>
<path transform="translate(1086 624.3) rotate(80) translate(-3.3 0)" d="M3.3 -9.4L4.4 -9.9L6.1 -11.6L6.1 0M12.7 -2.2L13.2 -1.1L13.8 -0.6L15.4 0L17.1 0L18.7 -0.6L19.8 -1.7L20.4 -3.3L20.4 -4.4L19.8 -6.1L18.7 -7.2L17.1 -7.7L15.4 -7.7L13.8 -7.2L13.2 -6.6L13.8 -11.6L19.2 -11.6M24.2 -5L34.1 -5M38.5 -6.1L38.5 0M38.5 -6.1L38.5 -11.6L45.7 -11.6M38.5 -6.1L42.9 -6.1M47.9 -4.4L48.4 -6.1L49.5 -7.2L50.6 -7.7L52.3 -7.7L53.4 -7.2L53.9 -6.6L54.5 -5.5L54.5 -4.4L47.9 -4.4L47.9 -3.3L48.4 -1.7L49.5 -0.6L50.6 0L52.3 0L53.4 -0.6L54.5 -1.7M58.3 -11.6L58.3 -6.1L58.3 -1.7L58.3 0M58.3 -6.1L59.4 -7.2L60.5 -7.7L62.2 -7.7L63.3 -7.2L64.4 -6.1L64.9 -4.4L64.9 -3.3L64.4 -1.7L63.3 -0.6L62.2 0L60.5 0L59.4 -0.6L58.3 -1.7" fill="none" stroke="#000" stroke-width="1.0" stroke-linecap="round" stroke-linejoin="round"/>
<path transform="translate(1079.6 909.6) rotate(-60) translate(-64.9 0)" d="M3.3 -9.4L4.4 -9.9L6.1 -11.6L6.1 0M12.7 -3.9L12.7 -2.2L13.2 -1.1L13.8 -0.6L15.4 0L17.6 0L19.2 -0.6L19.8 -1.1L20.4 -2.2L20.4 -3.9L19.8 -5L18.7 -6.1L17.1 -6.6L14.9 -7.2L13.8 -7.7L13.2 -8.8L13.2 -9.9L13.8 -11L15.4 -11.6L17.6 -11.6L19.2 -11L19.8 -9.9L19.8 -8.8L19.2 -7.7L18.2 -7.2L16 -6.6L14.3 -6.1L13.2 -5L12.7 -3.9M24.2 -5L34.1 -5M38.5 -6.1L38.5 0M38.5 -6.1L38.5 -11.6L45.7 -11.6M38.5 -6.1L42.9 -6.1M47.9 -4.4L48.4 -6.1L49.5 -7.2L50.6 -7.7L52.3 -7.7L53.4 -7.2L53.9 -6.6L54.5 -5.5L54.5 -4.4L47.9 -4.4L47.9 -3.3L48.4 -1.7L49.5 -0.6L50.6 0L52.3 0L53.4 -0.6L54.5 -1.7M58.3 -11.6L58.3 -6.1L58.3 -1.7L58.3 0M58.3 -6.1L59.4 -7.2L60.5 -7.7L62.2 -7.7L63.3 -7.2L64.4 -6.1L64.9 -4.4L64.9 -3.3L64.4 -1.7L63.3 -0.6L62.2 0L60.5 0L59.4 -0.6L58.3 -1.7" fill="none" stroke="#000" stroke-width="1.0" stroke-linecap="round" stroke-linejoin="round"/>
<path transform="translate(877.1 1122.9) rotate(-20) translate(-64.9 0)" d="M2.2 -8.8L2.2 -9.4L2.8 -10.5L3.3 -11L4.4 -11.6L6.6 -11.6L7.7 -11L8.2 -10.5L8.8 -9.4L8.8 -8.2L8.2 -7.2L7.2 -5.5L1.7 0L9.4 0M14.3 -9.4L15.4 -9.9L17.1 -11.6L17.1 0M24.2 -5L34.1 -5M38.5 -6.1L38.5 0M38.5 -6.1L38.5 -11.6L45.7 -11.6M38.5 -6.1L42.9 -6.1M47.9 -4.4L48.4 -6.1L49.5 -7.2L50.6 -7.7L52.3 -7.7L53.4 -7.2L53.9 -6.6L54.5 -5.5L54.5 -4.4L47.9 -4.4L47.9 -3.3L48.4 -1.7L49.5 -0.6L50.6 0L52.3 0L53.4 -0.6L54.5 -1.7M58.3 -11.6L58.3 -6.1L58.3 -1.7L58.3 0M58.3 -6.1L59.4 -7.2L60.5 -7.7L62.2 -7.7L63.3 -7.2L64.4 -6.1L64.9 -4.4L64.9 -3.3L64.4 -1.7L63.3 -0.6L62.2 0L60.5 0L59.4 -0.6L58.3 -1.7" fill="none" stroke="#000" stroke-width="1.0" stroke-linecap="round" stroke-linejoin="round"/>
<path transform="translate(579.7 1156.7) rotate(20) translate(-64.9 0)" d="M2.2 -8.8L2.2 -9.4L2.8 -10.5L3.3 -11L4.4 -11.6L6.6 -11.6L7.7 -11L8.2 -10.5L8.8 -9.4L8.8 -8.2L8.2 -7.2L7.2 -5.5L1.7 0L9.4 0M18.2 0L18.2 -3.9L18.2 -11.6L12.7 -3.9L18.2 -3.9L20.9 -3.9M24.2 -5L34.1 -5M38.5 -6.1L38.5 0M38.5 -6.1L38.5 -11.6L45.7 -11.6M38.5 -6.1L42.9 -6.1M47.9 -4.4L48.4 -6.1L49.5 -7.2L50.6 -7.7L52.3 -7.7L53.4 -7.2L53.9 -6.6L54.5 -5.5L54.5 -4.4L47.9 -4.4L47.9 -3.3L48.4 -1.7L49.5 -0.6L50.6 0L52.3 0L53.4 -0.6L54.5 -1.7M58.3 -11.6L58.3 -6.1L58.3 -1.7L58.3 0M58.3 -6.1L59.4 -7.2L60.5 -7.7L62.2 -7.7L63.3 -7.2L64.4 -6.1L64.9 -4.4L64.9 -3.3L64.4 -1.7L63.3 -0.6L62.2 0L60.5 0L59.4 -0.6L58.3 -1.7" fill="none" stroke="#000" stroke-width="1.0" stroke-linecap="round" stroke-linejoin="round"/>
<path transform="translate(325.8 988.6) rotate(60) translate(-64.9 0)" d="M2.2 -8.8L2.2 -9.4L2.8 -10.5L3.3 -11L4.4 -11.6L6.6 -11.6L7.7 -11L8.2 -10.5L8.8 -9.4L8.8 -8.2L8.2 -7.2L7.2 -5.5L1.7 0L9.4 0M12.7 -11.6L20.4 -11.6L14.9 0M24.2 -5L34.1 -5M38.5 -6.1L38.5 0M38.5 -6.1L38.5 -11.6L45.7 -11.6M38.5 -6.1L42.9 -6.1M47.9 -4.4L48.4 -6.1L49.5 -7.2L50.6 -7.7L52.3 -7.7L53.4 -7.2L53.9 -6.6L54.5 -5.5L54.5 -4.4L47.9 -4.4L47.9 -3.3L48.4 -1.7L49.5 -0.6L50.6 0L52.3 0L53.4 -0.6L54.5 -1.7M58.3 -11.6L58.3 -6.1L58.3 -1.7L58.3 0M58.3 -6.1L59.4 -7.2L60.5 -7.7L62.2 -7.7L63.3 -7.2L64.4 -6.1L64.9 -4.4L64.9 -3.3L64.4 -1.7L63.3 -0.6L62.2 0L60.5 0L59.4 -0.6L58.3 -1.7" fill="none" stroke="#000" stroke-width="1.0" stroke-linecap="round" stroke-linejoin="round"/>
<path transform="translate(249.6 692.6) rotate(280) translate(-1.7 0)" d="M1.7 -6.6L1.7 -5L2.2 -2.2L3.3 -0.6L5 0L6.1 0L7.7 -0.6L8.8 -2.2L9.4 -5L9.4 -6.6L8.8 -9.4L7.7 -11L6.1 -11.6L5 -11.6L3.3 -11L2.2 -9.4L1.7 -6.6M13.2 -8.8L13.2 -9.4L13.8 -10.5L14.3 -11L15.4 -11.6L17.6 -11.6L18.7 -11L19.2 -10.5L19.8 -9.4L19.8 -8.2L19.2 -7.2L18.2 -5.5L12.7 0L20.4 0M24.2 -5L34.1 -5M38.5 0L38.5 -11.6L42.9 0L47.3 -11.6L47.3 0M57.8 -7.7L57.8 -6.1L57.8 -1.7L57.8 0M57.8 -6.1L56.7 -7.2L55.6 -7.7L53.9 -7.7L52.8 -7.2L51.7 -6.1L51.2 -4.4L51.2 -3.3L51.7 -1.7L52.8 -0.6L53.9 0L55.6 0L56.7 -0.6L57.8 -1.7M62.2 -7.7L62.2 -4.4L62.2 0M62.2 -4.4L62.7 -6.1L63.8 -7.2L64.9 -7.7L66.6 -7.7" fill="none" stroke="#000" stroke-width="1.0" stroke-linecap="round" stroke-linejoin="round"/>
<path transform="translate(371.8 411.1) rotate(320) translate(-1.7 0)" d="M1.7 -6.6L1.7 -5L2.2 -2.2L3.3 -0.6L5 0L6.1 0L7.7 -0.6L8.8 -2.2L9.4 -5L9.4 -6.6L8.8 -9.4L7.7 -11L6.1 -11.6L5 -11.6L3.3 -11L2.2 -9.4L1.7 -6.6M12.7 -2.2L13.2 -1.1L13.8 -0.6L15.4 0L17.1 0L18.7 -0.6L19.8 -1.7L20.4 -3.3L20.4 -4.4L19.8 -6.1L18.7 -7.2L17.1 -7.7L15.4 -7.7L13.8 -7.2L13.2 -6.6L13.8 -11.6L19.2 -11.6M24.2 -5L34.1 -5M38.5 0L38.5 -11.6L42.9 0L47.3 -11.6L47.3 0M57.8 -7.7L57.8 -6.1L57.8 -1.7L57.8 0M57.8 -6.1L56.7 -7.2L55.6 -7.7L53.9 -7.7L52.8 -7.2L51.7 -6.1L51.2 -4.4L51.2 -3.3L51.7 -1.7L52.8 -0.6L53.9 0L55.6 0L56.7 -0.6L57.8 -1.7M62.2 -7.7L62.2 -4.4L62.2 0M62.2 -4.4L62.7 -6.1L63.8 -7.2L64.9 -7.7L66.6 -7.7" fill="none" stroke="#000" stroke-width="1.0" stroke-linecap="round" stroke-linejoin="round"/>
<path transform="translate(651 271.7) translate(-1.7 0)" d="M1.7 -6.6L1.7 -5L2.2 -2.2L3.3 -0.6L5 0L6.1 0L7.7 -0.6L8.8 -2.2L9.4 -5L9.4 -6.6L8.8 -9.4L7.7 -11L6.1 -11.6L5 -11.6L3.3 -11L2.2 -9.4L1.7 -6.6M12.7 -3.9L12.7 -2.2L13.2 -1.1L13.8 -0.6L15.4 0L17.6 0L19.2 -0.6L19.8 -1.1L20.4 -2.2L20.4 -3.9L19.8 -5L18.7 -6.1L17.1 -6.6L14.9 -7.2L13.8 -7.7L13.2 -8.8L13.2 -9.9L13.8 -11L15.4 -11.6L17.6 -11.6L19.2 -11L19.8 -9.9L19.8 -8.8L19.2 -7.7L18.2 -7.2L16 -6.6L14.3 -6.1L13.2 -5L12.7 -3.9M24.2 -5L34.1 -5M38.5 0L38.5 -11.6L42.9 0L47.3 -11.6L47.3 0M57.8 -7.7L57.8 -6.1L57.8 -1.7L57.8 0M57.8 -6.1L56.7 -7.2L55.6 -7.7L53.9 -7.7L52.8 -7.2L51.7 -6.1L51.2 -4.4L51.2 -3.3L51.7 -1.7L52.8 -0.6L53.9 0L55.6 0L56.7 -0.6L57.8 -1.7M62.2 -7.7L62.2 -4.4L62.2 0M62.2 -4.4L62.7 -6.1L63.8 -7.2L64.9 -7.7L66.6 -7.7" fill="none" stroke="#000" stroke-width="1.0" stroke-linecap="round" stroke-linejoin="round"/>
<path transform="translate(959.6 345.6) rotate(40) translate(-3.3 0)" d="M3.3 -9.4L4.4 -9.9L6.1 -11.6L6.1 0M14.3 -9.4L15.4 -9.9L17.1 -11.6L17.1 0M24.2 -5L34.1 -5M38.5 0L38.5 -11.6L42.9 0L47.3 -11.6L47.3 0M57.8 -7.7L57.8 -6.1L57.8 -1.7L57.8 0M57.8 -6.1L56.7 -7.2L55.6 -7.7L53.9 -7.7L52.8 -7.2L51.7 -6.1L51.2 -4.4L51.2 -3.3L51.7 -1.7L52.8 -0.6L53.9 0L55.6 0L56.7 -0.6L57.8 -1.7M62.2 -7.7L62.2 -4.4L62.2 0M62.2 -4.4L62.7 -6.1L63.8 -7.2L64.9 -7.7L66.6 -7.7" fill="none" stroke="#000" stroke-width="1.0" stroke-linecap="round" stroke-linejoin="round"/>
<path transform="translate(1151.6 604.8) rotate(80) translate(-3.3 0)" d="M3.3 -9.4L4.4 -9.9L6.1 -11.6L6.1 0M18.2 0L18.2 -3.9L18.2 -11.6L12.7 -3.9L18.2 -3.9L20.9 -3.9M24.2 -5L34.1 -5M38.5 0L38.5 -11.6L42.9 0L47.3 -11.6L47.3 0M57.8 -7.7L57.8 -6.1L57.8 -1.7L57.8 0M57.8 -6.1L56.7 -7.2L55.6 -7.7L53.9 -7.7L52.8 -7.2L51.7 -6.1L51.2 -4.4L51.2 -3.3L51.7 -1.7L52.8 -0.6L53.9 0L55.6 0L56.7 -0.6L57.8 -1.7M62.2 -7.7L62.2 -4.4L62.2 0M62.2 -4.4L62.7 -6.1L63.8 -7.2L64.9 -7.7L66.6 -7.7" fill="none" stroke="#000" stroke-width="1.0" stroke-linecap="round" stroke-linejoin="round"/>
<path transform="translate(1142.4 936.8) rotate(-60) translate(-66.6 0)" d="M3.3 -9.4L4.4 -9.9L6.1 -11.6L6.1 0M12.7 -11.6L20.4 -11.6L14.9 0M24.2 -5L34.1 -5M38.5 0L38.5 -11.6L42.9 0L47.3 -11.6L47.3 0M57.8 -7.7L57.8 -6.1L57.8 -1.7L57.8 0M57.8 -6.1L56.7 -7.2L55.6 -7.7L53.9 -7.7L52.8 -7.2L51.7 -6.1L51.2 -4.4L51.2 -3.3L51.7 -1.7L52.8 -0.6L53.9 0L55.6 0L56.7 -0.6L57.8 -1.7M62.2 -7.7L62.2 -4.4L62.2 0M62.2 -4.4L62.7 -6.1L63.8 -7.2L64.9 -7.7L66.6 -7.7" fill="none" stroke="#000" stroke-width="1.0" stroke-linecap="round" stroke-linejoin="round"/>
<path transform="translate(907.8 1184.1) rotate(-20) translate(-66.6 0)" d="M2.2 -8.8L2.2 -9.4L2.8 -10.5L3.3 -11L4.4 -11.6L6.6 -11.6L7.7 -11L8.2 -10.5L8.8 -9.4L8.8 -8.2L8.2 -7.2L7.2 -5.5L1.7 0L9.4 0M12.7 -6.6L12.7 -5L13.2 -2.2L14.3 -0.6L16 0L17.1 0L18.7 -0.6L19.8 -2.2L20.4 -5L20.4 -6.6L19.8 -9.4L18.7 -11L17.1 -11.6L16 -11.6L14.3 -11L13.2 -9.4L12.7 -6.6M24.2 -5L34.1 -5M38.5 0L38.5 -11.6L42.9 0L47.3 -11.6L47.3 0M57.8 -7.7L57.8 -6.1L57.8 -1.7L57.8 0M57.8 -6.1L56.7 -7.2L55.6 -7.7L53.9 -7.7L52.8 -7.2L51.7 -6.1L51.2 -4.4L51.2 -3.3L51.7 -1.7L52.8 -0.6L53.9 0L55.6 0L56.7 -0.6L57.8 -1.7M62.2 -7.7L62.2 -4.4L62.2 0M62.2 -4.4L62.7 -6.1L63.8 -7.2L64.9 -7.7L66.6 -7.7" fill="none" stroke="#000" stroke-width="1.0" stroke-linecap="round" stroke-linejoin="round"/>
<path transform="translate(563.9 1223.3) rotate(20) translate(-66.6 0)" d="M2.2 -8.8L2.2 -9.4L2.8 -10.5L3.3 -11L4.4 -11.6L6.6 -11.6L7.7 -11L8.2 -10.5L8.8 -9.4L8.8 -8.2L8.2 -7.2L7.2 -5.5L1.7 0L9.4 0M12.7 -2.2L13.2 -1.1L13.8 -0.6L15.4 0L17.1 0L18.7 -0.6L19.8 -1.7L20.4 -3.3L20.4 -4.4L19.8 -6.1L19.2 -6.6L18.2 -7.2L16.5 -7.2L19.8 -11.6L13.8 -11.6M24.2 -5L34.1 -5M38.5 0L38.5 -11.6L42.9 0L47.3 -11.6L47.3 0M57.8 -7.7L57.8 -6.1L57.8 -1.7L57.8 0M57.8 -6.1L56.7 -7.2L55.6 -7.7L53.9 -7.7L52.8 -7.2L51.7 -6.1L51.2 -4.4L51.2 -3.3L51.7 -1.7L52.8 -0.6L53.9 0L55.6 0L56.7 -0.6L57.8 -1.7M62.2 -7.7L62.2 -4.4L62.2 0M62.2 -4.4L62.7 -6.1L63.8 -7.2L64.9 -7.7L66.6 -7.7" fill="none" stroke="#000" stroke-width="1.0" stroke-linecap="round" stroke-linejoin="round"/>
<path transform="translate(270.9 1029.5) rotate(60) translate(-66.6 0)" d="M2.2 -8.8L2.2 -9.4L2.8 -10.5L3.3 -11L4.4 -11.6L6.6 -11.6L7.7 -11L8.2 -10.5L8.8 -9.4L8.8 -8.2L8.2 -7.2L7.2 -5.5L1.7 0L9.4 0M13.2 -3.9L13.8 -1.7L14.9 -0.6L16.5 0L17.1 0L18.7 -0.6L19.8 -1.7L20.4 -3.3L20.4 -3.9L19.8 -5.5L18.7 -6.6L17.1 -7.2L16.5 -7.2L14.9 -6.6L13.8 -5.5L13.2 -3.9L13.2 -6.6L13.8 -9.4L14.9 -11L16.5 -11.6L17.6 -11.6L19.2 -11L19.8 -9.9M24.2 -5L34.1 -5M38.5 0L38.5 -11.6L42.9 0L47.3 -11.6L47.3 0M57.8 -7.7L57.8 -6.1L57.8 -1.7L57.8 0M57.8 -6.1L56.7 -7.2L55.6 -7.7L53.9 -7.7L52.8 -7.2L51.7 -6.1L51.2 -4.4L51.2 -3.3L51.7 -1.7L52.8 -0.6L53.9 0L55.6 0L56.7 -0.6L57.8 -1.7M62.2 -7.7L62.2 -4.4L62.2 0M62.2 -4.4L62.7 -6.1L63.8 -7.2L64.9 -7.7L66.6 -7.7" fill="none" stroke="#000" stroke-width="1.0" stroke-linecap="round" stroke-linejoin="round"/>
<path transform="translate(181.2 688.6) rotate(280) translate(-1.7 0)" d="M2.2 -8.8L2.2 -9.4L2.8 -10.5L3.3 -11L4.4 -11.6L6.6 -11.6L7.7 -11L8.2 -10.5L8.8 -9.4L8.8 -8.2L8.2 -7.2L7.2 -5.5L1.7 0L9.4 0M13.2 -1.7L13.8 -0.6L15.4 0L16.5 0L18.2 -0.6L19.2 -2.2L19.8 -5L19.8 -7.7L19.2 -9.9L18.2 -11L16.5 -11.6L16 -11.6L14.3 -11L13.2 -9.9L12.7 -8.2L12.7 -7.7L13.2 -6.1L14.3 -5L16 -4.4L16.5 -4.4L18.2 -5L19.2 -6.1L19.8 -7.7M24.2 -5L34.1 -5M38.5 0L38.5 -11.6L42.9 0L47.3 -11.6L47.3 0M57.8 -7.7L57.8 -6.1L57.8 -1.7L57.8 0M57.8 -6.1L56.7 -7.2L55.6 -7.7L53.9 -7.7L52.8 -7.2L51.7 -6.1L51.2 -4.4L51.2 -3.3L51.7 -1.7L52.8 -0.6L53.9 0L55.6 0L56.7 -0.6L57.8 -1.7M62.2 -7.7L62.2 -4.4L62.2 0M62.2 -4.4L62.7 -6.1L63.8 -7.2L64.9 -7.7L66.6 -7.7" fill="none" stroke="#000" stroke-width="1.0" stroke-linecap="round" stroke-linejoin="round"/>
<path transform="translate(322 364.1) rotate(320) translate(-1.7 0)" d="M1.7 -6.6L1.7 -5L2.2 -2.2L3.3 -0.6L5 0L6.1 0L7.7 -0.6L8.8 -2.2L9.4 -5L9.4 -6.6L8.8 -9.4L7.7 -11L6.1 -11.6L5 -11.6L3.3 -11L2.2 -9.4L1.7 -6.6M14.3 -9.4L15.4 -9.9L17.1 -11.6L17.1 0M24.2 -5L34.1 -5M36.9 0L41.2 -11.6L45.7 0M38.5 -3.9L44 -3.9M48.4 -7.7L48.4 -6.1L48.4 -1.7L48.4 3.9M48.4 -6.1L49.5 -7.2L50.6 -7.7L52.3 -7.7L53.4 -7.2L54.5 -6.1L55 -4.4L55 -3.3L54.5 -1.7L53.4 -0.6L52.3 0L50.6 0L49.5 -0.6L48.4 -1.7M58.9 -7.7L58.9 -4.4L58.9 0M58.9 -4.4L59.4 -6.1L60.5 -7.2L61.6 -7.7L63.3 -7.7" fill="none" stroke="#000" stroke-width="1.0" stroke-linecap="round" stroke-linejoin="round"/>
<path transform="translate(643.2 203.7) translate(-1.7 0)" d="M1.7 -6.6L1.7 -5L2.2 -2.2L3.3 -0.6L5 0L6.1 0L7.7 -0.6L8.8 -2.2L9.4 -5L9.4 -6.6L8.8 -9.4L7.7 -11L6.1 -11.6L5 -11.6L3.3 -11L2.2 -9.4L1.7 -6.6M18.2 0L18.2 -3.9L18.2 -11.6L12.7 -3.9L18.2 -3.9L20.9 -3.9M24.2 -5L34.1 -5M36.9 0L41.2 -11.6L45.7 0M38.5 -3.9L44 -3.9M48.4 -7.7L48.4 -6.1L48.4 -1.7L48.4 3.9M48.4 -6.1L49.5 -7.2L50.6 -7.7L52.3 -7.7L53.4 -7.2L54.5 -6.1L55 -4.4L55 -3.3L54.5 -1.7L53.4 -0.6L52.3 0L50.6 0L49.5 -0.6L48.4 -1.7M58.9 -7.7L58.9 -4.4L58.9 0M58.9 -4.4L59.4 -6.1L60.5 -7.2L61.6 -7.7L63.3 -7.7" fill="none" stroke="#000" stroke-width="1.0" stroke-linecap="round" stroke-linejoin="round"/>
<path transform="translate(997.3 288.4) rotate(40) translate(-1.7 0)" d="M1.7 -6.6L1.7 -5L2.2 -2.2L3.3 -0.6L5 0L6.1 0L7.7 -0.6L8.8 -2.2L9.4 -5L9.4 -6.6L8.8 -9.4L7.7 -11L6.1 -11.6L5 -11.6L3.3 -11L2.2 -9.4L1.7 -6.6M12.7 -11.6L20.4 -11.6L14.9 0M24.2 -5L34.1 -5M36.9 0L41.2 -11.6L45.7 0M38.5 -3.9L44 -3.9M48.4 -7.7L48.4 -6.1L48.4 -1.7L48.4 3.9M48.4 -6.1L49.5 -7.2L50.6 -7.7L52.3 -7.7L53.4 -7.2L54.5 -6.1L55 -4.4L55 -3.3L54.5 -1.7L53.4 -0.6L52.3 0L50.6 0L49.5 -0.6L48.4 -1.7M58.9 -7.7L58.9 -4.4L58.9 0M58.9 -4.4L59.4 -6.1L60.5 -7.2L61.6 -7.7L63.3 -7.7" fill="none" stroke="#000" stroke-width="1.0" stroke-linecap="round" stroke-linejoin="round"/>
<path transform="translate(1217.2 585.2) rotate(80) translate(-3.3 0)" d="M3.3 -9.4L4.4 -9.9L6.1 -11.6L6.1 0M12.7 -6.6L12.7 -5L13.2 -2.2L14.3 -0.6L16 0L17.1 0L18.7 -0.6L19.8 -2.2L20.4 -5L20.4 -6.6L19.8 -9.4L18.7 -11L17.1 -11.6L16 -11.6L14.3 -11L13.2 -9.4L12.7 -6.6M24.2 -5L34.1 -5M36.9 0L41.2 -11.6L45.7 0M38.5 -3.9L44 -3.9M48.4 -7.7L48.4 -6.1L48.4 -1.7L48.4 3.9M48.4 -6.1L49.5 -7.2L50.6 -7.7L52.3 -7.7L53.4 -7.2L54.5 -6.1L55 -4.4L55 -3.3L54.5 -1.7L53.4 -0.6L52.3 0L50.6 0L49.5 -0.6L48.4 -1.7M58.9 -7.7L58.9 -4.4L58.9 0M58.9 -4.4L59.4 -6.1L60.5 -7.2L61.6 -7.7L63.3 -7.7" fill="none" stroke="#000" stroke-width="1.0" stroke-linecap="round" stroke-linejoin="round"/>
<path transform="translate(1205.3 963.9) rotate(-60) translate(-63.3 0)" d="M3.3 -9.4L4.4 -9.9L6.1 -11.6L6.1 0M12.7 -2.2L13.2 -1.1L13.8 -0.6L15.4 0L17.1 0L18.7 -0.6L19.8 -1.7L20.4 -3.3L20.4 -4.4L19.8 -6.1L19.2 -6.6L18.2 -7.2L16.5 -7.2L19.8 -11.6L13.8 -11.6M24.2 -5L34.1 -5M36.9 0L41.2 -11.6L45.7 0M38.5 -3.9L44 -3.9M48.4 -7.7L48.4 -6.1L48.4 -1.7L48.4 3.9M48.4 -6.1L49.5 -7.2L50.6 -7.7L52.3 -7.7L53.4 -7.2L54.5 -6.1L55 -4.4L55 -3.3L54.5 -1.7L53.4 -0.6L52.3 0L50.6 0L49.5 -0.6L48.4 -1.7M58.9 -7.7L58.9 -4.4L58.9 0M58.9 -4.4L59.4 -6.1L60.5 -7.2L61.6 -7.7L63.3 -7.7" fill="none" stroke="#000" stroke-width="1.0" stroke-linecap="round" stroke-linejoin="round"/>
<path transform="translate(938.5 1245.3) rotate(-20) translate(-63.3 0)" d="M3.3 -9.4L4.4 -9.9L6.1 -11.6L6.1 0M13.2 -3.9L13.8 -1.7L14.9 -0.6L16.5 0L17.1 0L18.7 -0.6L19.8 -1.7L20.4 -3.3L20.4 -3.9L19.8 -5.5L18.7 -6.6L17.1 -7.2L16.5 -7.2L14.9 -6.6L13.8 -5.5L13.2 -3.9L13.2 -6.6L13.8 -9.4L14.9 -11L16.5 -11.6L17.6 -11.6L19.2 -11L19.8 -9.9M24.2 -5L34.1 -5M36.9 0L41.2 -11.6L45.7 0M38.5 -3.9L44 -3.9M48.4 -7.7L48.4 -6.1L48.4 -1.7L48.4 3.9M48.4 -6.1L49.5 -7.2L50.6 -7.7L52.3 -7.7L53.4 -7.2L54.5 -6.1L55 -4.4L55 -3.3L54.5 -1.7L53.4 -0.6L52.3 0L50.6 0L49.5 -0.6L48.4 -1.7M58.9 -7.7L58.9 -4.4L58.9 0M58.9 -4.4L59.4 -6.1L60.5 -7.2L61.6 -7.7L63.3 -7.7" fill="none" stroke="#000" stroke-width="1.0" stroke-linecap="round" stroke-linejoin="round"/>
<path transform="translate(548.1 1290) rotate(20) translate(-63.3 0)" d="M3.3 -9.4L4.4 -9.9L6.1 -11.6L6.1 0M13.2 -1.7L13.8 -0.6L15.4 0L16.5 0L18.2 -0.6L19.2 -2.2L19.8 -5L19.8 -7.7L19.2 -9.9L18.2 -11L16.5 -11.6L16 -11.6L14.3 -11L13.2 -9.9L12.7 -8.2L12.7 -7.7L13.2 -6.1L14.3 -5L16 -4.4L16.5 -4.4L18.2 -5L19.2 -6.1L19.8 -7.7M24.2 -5L34.1 -5M36.9 0L41.2 -11.6L45.7 0M38.5 -3.9L44 -3.9M48.4 -7.7L48.4 -6.1L48.4 -1.7L48.4 3.9M48.4 -6.1L49.5 -7.2L50.6 -7.7L52.3 -7.7L53.4 -7.2L54.5 -6.1L55 -4.4L55 -3.3L54.5 -1.7L53.4 -0.6L52.3 0L50.6 0L49.5 -0.6L48.4 -1.7M58.9 -7.7L58.9 -4.4L58.9 0M58.9 -4.4L59.4 -6.1L60.5 -7.2L61.6 -7.7L63.3 -7.7" fill="none" stroke="#000" stroke-width="1.0" stroke-linecap="round" stroke-linejoin="round"/>
<path transform="translate(216 1070.4) rotate(60) translate(-63.3 0)" d="M2.2 -8.8L2.2 -9.4L2.8 -10.5L3.3 -11L4.4 -11.6L6.6 -11.6L7.7 -11L8.2 -10.5L8.8 -9.4L8.8 -8.2L8.2 -7.2L7.2 -5.5L1.7 0L9.4 0M13.2 -8.8L13.2 -9.4L13.8 -10.5L14.3 -11L15.4 -11.6L17.6 -11.6L18.7 -11L19.2 -10.5L19.8 -9.4L19.8 -8.2L19.2 -7.2L18.2 -5.5L12.7 0L20.4 0M24.2 -5L34.1 -5M36.9 0L41.2 -11.6L45.7 0M38.5 -3.9L44 -3.9M48.4 -7.7L48.4 -6.1L48.4 -1.7L48.4 3.9M48.4 -6.1L49.5 -7.2L50.6 -7.7L52.3 -7.7L53.4 -7.2L54.5 -6.1L55 -4.4L55 -3.3L54.5 -1.7L53.4 -0.6L52.3 0L50.6 0L49.5 -0.6L48.4 -1.7M58.9 -7.7L58.9 -4.4L58.9 0M58.9 -4.4L59.4 -6.1L60.5 -7.2L61.6 -7.7L63.3 -7.7" fill="none" stroke="#000" stroke-width="1.0" stroke-linecap="round" stroke-linejoin="round"/>
<path transform="translate(112.8 684.6) rotate(280) translate(-1.7 0)" d="M2.2 -8.8L2.2 -9.4L2.8 -10.5L3.3 -11L4.4 -11.6L6.6 -11.6L7.7 -11L8.2 -10.5L8.8 -9.4L8.8 -8.2L8.2 -7.2L7.2 -5.5L1.7 0L9.4 0M12.7 -2.2L13.2 -1.1L13.8 -0.6L15.4 0L17.1 0L18.7 -0.6L19.8 -1.7L20.4 -3.3L20.4 -4.4L19.8 -6.1L18.7 -7.2L17.1 -7.7L15.4 -7.7L13.8 -7.2L13.2 -6.6L13.8 -11.6L19.2 -11.6M24.2 -5L34.1 -5M36.9 0L41.2 -11.6L45.7 0M38.5 -3.9L44 -3.9M48.4 -7.7L48.4 -6.1L48.4 -1.7L48.4 3.9M48.4 -6.1L49.5 -7.2L50.6 -7.7L52.3 -7.7L53.4 -7.2L54.5 -6.1L55 -4.4L55 -3.3L54.5 -1.7L53.4 -0.6L52.3 0L50.6 0L49.5 -0.6L48.4 -1.7M58.9 -7.7L58.9 -4.4L58.9 0M58.9 -4.4L59.4 -6.1L60.5 -7.2L61.6 -7.7L63.3 -7.7" fill="none" stroke="#000" stroke-width="1.0" stroke-linecap="round" stroke-linejoin="round"/>
<path transform="translate(713.4 49.4) translate(-14.1 0)" d="M1.9 -7.5L1.9 -8L2.3 -8.9L2.8 -9.4L3.8 -9.9L5.6 -9.9L6.6 -9.4L7 -8.9L7.5 -8L7.5 -7L7 -6.1L6.1 -4.7L1.4 0L8 0M10.8 -1.9L11.3 -0.9L11.8 -0.5L13.2 0L14.6 0L16 -0.5L16.9 -1.4L17.4 -2.8L17.4 -3.8L16.9 -5.2L16 -6.1L14.6 -6.6L13.2 -6.6L11.8 -6.1L11.3 -5.6L11.8 -9.9L16.4 -9.9M20.2 -5.6L20.2 -4.2L20.7 -1.9L21.6 -0.5L23 0L24 0L25.4 -0.5L26.3 -1.9L26.8 -4.2L26.8 -5.6L26.3 -8L25.4 -9.4L24 -9.9L23 -9.9L21.6 -9.4L20.7 -8L20.2 -5.6" fill="none" stroke="#000" stroke-width="1.8" stroke-linecap="round" stroke-linejoin="round"/>
<path transform="translate(713.4 72.1) translate(-14.8 0)" d="M2.8 -8L3.8 -8.5L5.2 -9.9L5.2 0M11.3 -1.4L11.8 -0.5L13.2 0L14.1 0L15.5 -0.5L16.4 -1.9L16.9 -4.2L16.9 -6.6L16.4 -8.5L15.5 -9.4L14.1 -9.9L13.6 -9.9L12.2 -9.4L11.3 -8.5L10.8 -7L10.8 -6.6L11.3 -5.2L12.2 -4.2L13.6 -3.8L14.1 -3.8L15.5 -4.2L16.4 -5.2L16.9 -6.6M20.2 -5.6L20.2 -4.2L20.7 -1.9L21.6 -0.5L23 0L24 0L25.4 -0.5L26.3 -1.9L26.8 -4.2L26.8 -5.6L26.3 -8L25.4 -9.4L24 -9.9L23 -9.9L21.6 -9.4L20.7 -8L20.2 -5.6" fill="none" stroke="#000" stroke-width="1.8" stroke-linecap="round" stroke-linejoin="round"/>
<path transform="translate(713.4 94.8) translate(-14.8 0)" d="M2.8 -8L3.8 -8.5L5.2 -9.9L5.2 0M10.8 -1.9L11.3 -0.9L11.8 -0.5L13.2 0L14.6 0L16 -0.5L16.9 -1.4L17.4 -2.8L17.4 -3.8L16.9 -5.2L16.4 -5.6L15.5 -6.1L14.1 -6.1L16.9 -9.9L11.8 -9.9M20.2 -5.6L20.2 -4.2L20.7 -1.9L21.6 -0.5L23 0L24 0L25.4 -0.5L26.3 -1.9L26.8 -4.2L26.8 -5.6L26.3 -8L25.4 -9.4L24 -9.9L23 -9.9L21.6 -9.4L20.7 -8L20.2 -5.6" fill="none" stroke="#000" stroke-width="1.8" stroke-linecap="round" stroke-linejoin="round"/>
<circle cx="42" cy="28.3" r="14.8" fill="#adabab"/>
<circle cx="42" cy="84.3" r="14.2" fill="none" stroke="#adabab" stroke-width="2"/>
<path transform="translate(71.7 27.8) translate(-2.1 0)" d="M2.1 0L2.1 -10.8L9.3 0L9.3 -10.8M12.9 -4.1L13.4 -5.7L14.4 -6.7L15.5 -7.2L17 -7.2L18 -6.7L18.5 -6.2L19.1 -5.2L19.1 -4.1L12.9 -4.1L12.9 -3.1L13.4 -1.5L14.4 -0.5L15.5 0L17 0L18 -0.5L19.1 -1.5M22.1 -7.2L24.2 0L26.3 -7.2L28.3 0L30.4 -7.2M42.2 0L42.2 -10.8L46.4 0L50.5 -10.8L50.5 0M54.1 -4.1L54.6 -5.7L55.6 -6.7L56.6 -7.2L58.2 -7.2L59.2 -6.7L60.3 -5.7L60.8 -4.1L60.8 -3.1L60.3 -1.5L59.2 -0.5L58.2 0L56.6 0L55.6 -0.5L54.6 -1.5L54.1 -3.1L54.1 -4.1M63.9 -4.1L64.4 -5.7L65.4 -6.7L66.4 -7.2L68 -7.2L69 -6.7L70 -5.7L70.6 -4.1L70.6 -3.1L70 -1.5L69 -0.5L68 0L66.4 0L65.4 -0.5L64.4 -1.5L63.9 -3.1L63.9 -4.1M74.2 -7.2L74.2 -5.2L74.2 0M74.2 -5.2L75.7 -6.7L76.7 -7.2L78.3 -7.2L79.3 -6.7L79.8 -5.2L79.8 0" fill="none" stroke="#000" stroke-width="1.0" stroke-linecap="round" stroke-linejoin="round"/>
<path transform="translate(71.7 84) translate(-2.1 0)" d="M2.1 -5.7L2.1 0M2.1 -5.7L2.1 -10.8L8.8 -10.8M2.1 -5.7L6.2 -5.7M11.3 -7.2L11.3 -2.1L11.8 -0.5L12.9 0L14.4 0L15.5 -0.5L17 -2.1L17 -7.2M17 -2.1L17 0M21.1 -10.8L21.1 0M25.2 -10.8L25.2 0M37.6 0L37.6 -10.8L41.7 0L45.8 -10.8L45.8 0M49.4 -4.1L50 -5.7L51 -6.7L52 -7.2L53.6 -7.2L54.6 -6.7L55.6 -5.7L56.1 -4.1L56.1 -3.1L55.6 -1.5L54.6 -0.5L53.6 0L52 0L51 -0.5L50 -1.5L49.4 -3.1L49.4 -4.1M59.2 -4.1L59.7 -5.7L60.8 -6.7L61.8 -7.2L63.3 -7.2L64.4 -6.7L65.4 -5.7L65.9 -4.1L65.9 -3.1L65.4 -1.5L64.4 -0.5L63.3 0L61.8 0L60.8 -0.5L59.7 -1.5L59.2 -3.1L59.2 -4.1M69.5 -7.2L69.5 -5.2L69.5 0M69.5 -5.2L71.1 -6.7L72.1 -7.2L73.6 -7.2L74.7 -6.7L75.2 -5.2L75.2 0" fill="none" stroke="#000" stroke-width="1.0" stroke-linecap="round" stroke-linejoin="round"/>
<path transform="translate(1393.5 37.7) translate(-127.7 0)" d="M2.1 -5.2L2.1 0M2.1 -5.2L2.1 -10.8L6.7 -10.8L8.2 -10.3L8.8 -9.8L9.3 -8.8L9.3 -7.2L8.8 -6.2L8.2 -5.7L6.7 -5.2L2.1 -5.2M12.4 -4.1L12.9 -5.7L13.9 -6.7L14.9 -7.2L16.5 -7.2L17.5 -6.7L18 -6.2L18.5 -5.2L18.5 -4.1L12.4 -4.1L12.4 -3.1L12.9 -1.5L13.9 -0.5L14.9 0L16.5 0L17.5 -0.5L18.5 -1.5M22.1 -7.2L22.1 -4.1L22.1 0M22.1 -4.1L22.7 -5.7L23.7 -6.7L24.7 -7.2L26.3 -7.2M28.8 -7.2L28.8 0M28.3 -10.8L28.8 -11.3L29.4 -10.8L28.8 -10.3L28.3 -10.8M32.4 -4.1L33 -5.7L34 -6.7L35 -7.2L36.6 -7.2L37.6 -6.7L38.6 -5.7L39.1 -4.1L39.1 -3.1L38.6 -1.5L37.6 -0.5L36.6 0L35 0L34 -0.5L33 -1.5L32.4 -3.1L32.4 -4.1M48.4 -10.8L48.4 -5.7L48.4 -1.5L48.4 0M48.4 -5.7L47.4 -6.7L46.4 -7.2L44.8 -7.2L43.8 -6.7L42.7 -5.7L42.2 -4.1L42.2 -3.1L42.7 -1.5L43.8 -0.5L44.8 0L46.4 0L47.4 -0.5L48.4 -1.5M52.5 -6.7L53 -7.2L53.6 -6.7L53 -6.2L52.5 -6.7M52.5 -0.5L53 -1L53.6 -0.5L53 0L52.5 -0.5M65.9 -8.2L65.9 -8.8L66.4 -9.8L67 -10.3L68 -10.8L70 -10.8L71.1 -10.3L71.6 -9.8L72.1 -8.8L72.1 -7.7L71.6 -6.7L70.6 -5.2L65.4 0L72.6 0M75.7 -10.8L82.9 -10.8L77.8 0M100.4 -10.8L100.4 -5.7L100.4 -1.5L100.4 0M100.4 -5.7L99.4 -6.7L98.4 -7.2L96.8 -7.2L95.8 -6.7L94.8 -5.7L94.2 -4.1L94.2 -3.1L94.8 -1.5L95.8 -0.5L96.8 0L98.4 0L99.4 -0.5L100.4 -1.5M110.2 -7.2L110.2 -5.7L110.2 -1.5L110.2 0M110.2 -5.7L109.2 -6.7L108.2 -7.2L106.6 -7.2L105.6 -6.7L104.5 -5.7L104 -4.1L104 -3.1L104.5 -1.5L105.6 -0.5L106.6 0L108.2 0L109.2 -0.5L110.2 -1.5M112.8 3.6L113.3 3.6L114.3 3.1L115.4 2.1L116.4 0L119.5 -7.2M113.3 -7.2L116.4 0M122.1 -1.5L122.6 -0.5L124.1 0L125.7 0L127.2 -0.5L127.7 -1.5L127.7 -2.1L127.2 -3.1L126.2 -3.6L123.6 -4.1L122.6 -4.6L122.1 -5.7L122.6 -6.7L124.1 -7.2L125.7 -7.2L127.2 -6.7L127.7 -5.7" fill="none" stroke="#000" stroke-width="1.0" stroke-linecap="round" stroke-linejoin="round"/>
<path transform="translate(6 1394.9) translate(-1.5 0)" d="M6.7 -4.1L9.3 -4.1L9.3 -2.6L8.8 -1.5L7.7 -0.5L6.7 0L4.6 0L3.6 -0.5L2.6 -1.5L2.1 -2.6L1.5 -4.1L1.5 -6.7L2.1 -8.2L2.6 -9.3L3.6 -10.3L4.6 -10.8L6.7 -10.8L7.7 -10.3L8.8 -9.3L9.3 -8.2M12.9 -10.8L12.9 0M17 -4.6L26.3 -4.6M30.4 -10.8L30.4 -3.1L30.9 -1.5L31.9 -0.5L33.5 0L34.5 0L36.1 -0.5L37.1 -1.5L37.6 -3.1L37.6 -10.8M40.2 0L44.3 -10.8L48.4 0M41.7 -3.6L46.9 -3.6M51 -5.7L51 0M51 -5.7L51 -10.8L57.7 -10.8M51 -5.7L55.1 -5.7M68.5 -8.2L68.5 -8.8L69 -9.8L69.5 -10.3L70.6 -10.8L72.6 -10.8L73.6 -10.3L74.2 -9.8L74.7 -8.8L74.7 -7.7L74.2 -6.7L73.1 -5.2L68 0L75.2 0M78.3 -6.2L78.3 -4.6L78.8 -2.1L79.8 -0.5L81.4 0L82.4 0L83.9 -0.5L85 -2.1L85.5 -4.6L85.5 -6.2L85 -8.8L83.9 -10.3L82.4 -10.8L81.4 -10.8L79.8 -10.3L78.8 -8.8L78.3 -6.2M89.1 -8.2L89.1 -8.8L89.6 -9.8L90.1 -10.3L91.2 -10.8L93.2 -10.8L94.2 -10.3L94.8 -9.8L95.3 -8.8L95.3 -7.7L94.8 -6.7L93.7 -5.2L88.6 0L95.8 0M98.9 -2.1L99.4 -1L99.9 -0.5L101.5 0L103 0L104.5 -0.5L105.6 -1.5L106.1 -3.1L106.1 -4.1L105.6 -5.7L104.5 -6.7L103 -7.2L101.5 -7.2L99.9 -6.7L99.4 -6.2L99.9 -10.8L105.1 -10.8" fill="none" stroke="#000" stroke-width="1.0" stroke-linecap="round" stroke-linejoin="round"/>
<path transform="translate(1393.6 1394.5) translate(-323 0)" d="M9.1 -8.1L8.6 -9.1L7.6 -10.1L6.6 -10.6L4.6 -10.6L3.5 -10.1L2.5 -9.1L2 -8.1L1.5 -6.6L1.5 -4.1L2 -2.5L2.5 -1.5L3.5 -0.5L4.6 0L6.6 0L7.6 -0.5L8.6 -1.5L9.1 -2.5M12.2 -4.1L12.7 -5.6L13.7 -6.6L14.7 -7.1L16.2 -7.1L17.2 -6.6L18.3 -5.6L18.8 -4.1L18.8 -3L18.3 -1.5L17.2 -0.5L16.2 0L14.7 0L13.7 -0.5L12.7 -1.5L12.2 -3L12.2 -4.1M22.3 -7.1L22.3 -5.1L22.3 0M22.3 -5.1L23.8 -6.6L24.8 -7.1L26.4 -7.1L27.4 -6.6L27.9 -5.1L27.9 0M37.5 -10.6L37.5 -5.6L37.5 -1.5L37.5 0M37.5 -5.6L36.5 -6.6L35.5 -7.1L34 -7.1L33 -6.6L31.9 -5.6L31.4 -4.1L31.4 -3L31.9 -1.5L33 -0.5L34 0L35.5 0L36.5 -0.5L37.5 -1.5M41.1 -4.1L41.6 -5.6L42.6 -6.6L43.6 -7.1L45.1 -7.1L46.1 -6.6L46.6 -6.1L47.2 -5.1L47.2 -4.1L41.1 -4.1L41.1 -3L41.6 -1.5L42.6 -0.5L43.6 0L45.1 0L46.1 -0.5L47.2 -1.5M51.7 3L52.7 3.5L54.2 3.5L55.3 3L55.8 2.5L56.3 1L56.3 -1.5L56.3 -5.6L56.3 -7.1M56.3 -5.6L55.3 -6.6L54.2 -7.1L52.7 -7.1L51.7 -6.6L50.7 -5.6L50.2 -4.1L50.2 -3L50.7 -1.5L51.7 -0.5L52.7 0L54.2 0L55.3 -0.5L56.3 -1.5M60.3 -7.1L60.3 -4.1L60.3 0M60.3 -4.1L60.8 -5.6L61.9 -6.6L62.9 -7.1L64.4 -7.1M72.5 -7.1L72.5 -5.6L72.5 -1.5L72.5 0M72.5 -5.6L71.5 -6.6L70.5 -7.1L69 -7.1L67.9 -6.6L66.9 -5.6L66.4 -4.1L66.4 -3L66.9 -1.5L67.9 -0.5L69 0L70.5 0L71.5 -0.5L72.5 -1.5M76.6 -7.1L76.6 -5.1L76.6 0M76.6 -5.1L78.1 -6.6L79.1 -7.1L80.6 -7.1L81.6 -6.6L82.1 -5.1L82.1 0M82.1 -5.1L83.7 -6.6L84.7 -7.1L86.2 -7.1L87.2 -6.6L87.7 -5.1L87.7 0M99.9 -7.1L99.9 -5.6L99.9 -1.5L99.9 3.5M99.9 -5.6L100.9 -6.6L101.9 -7.1L103.4 -7.1L104.4 -6.6L105.5 -5.6L106 -4.1L106 -3L105.5 -1.5L104.4 -0.5L103.4 0L101.9 0L100.9 -0.5L99.9 -1.5M109.5 -10.6L109.5 0M113.1 -4.1L113.6 -5.6L114.6 -6.6L115.6 -7.1L117.1 -7.1L118.1 -6.6L119.1 -5.6L119.7 -4.1L119.7 -3L119.1 -1.5L118.1 -0.5L117.1 0L115.6 0L114.6 -0.5L113.6 -1.5L113.1 -3L113.1 -4.1M122.2 -7.1L123.7 -7.1L125.7 -7.1M123.7 -10.6L123.7 -7.1L123.7 -2L124.2 -0.5L125.2 0L126.2 0M128.3 -7.1L129.8 -7.1L131.8 -7.1M129.8 -10.6L129.8 -7.1L129.8 -2L130.3 -0.5L131.3 0L132.3 0M134.9 -4.1L135.4 -5.6L136.4 -6.6L137.4 -7.1L138.9 -7.1L139.9 -6.6L140.4 -6.1L140.9 -5.1L140.9 -4.1L134.9 -4.1L134.9 -3L135.4 -1.5L136.4 -0.5L137.4 0L138.9 0L139.9 -0.5L140.9 -1.5M150.1 -10.6L150.1 -5.6L150.1 -1.5L150.1 0M150.1 -5.6L149.1 -6.6L148 -7.1L146.5 -7.1L145.5 -6.6L144.5 -5.6L144 -4.1L144 -3L144.5 -1.5L145.5 -0.5L146.5 0L148 0L149.1 -0.5L150.1 -1.5M162.2 0L162.2 -10.6L166.3 0L170.4 -10.6L170.4 0M180 -7.1L180 -5.6L180 -1.5L180 0M180 -5.6L179 -6.6L178 -7.1L176.4 -7.1L175.4 -6.6L174.4 -5.6L173.9 -4.1L173.9 -3L174.4 -1.5L175.4 -0.5L176.4 0L178 0L179 -0.5L180 -1.5M182.5 3.5L183 3.5L184 3L185.1 2L186.1 0L189.1 -7.1M183 -7.1L186.1 0M199.8 -6.1L199.8 -4.6L200.3 -2L201.3 -0.5L202.8 0L203.8 0L205.3 -0.5L206.3 -2L206.9 -4.6L206.9 -6.1L206.3 -8.6L205.3 -10.1L203.8 -10.6L202.8 -10.6L201.3 -10.1L200.3 -8.6L199.8 -6.1M211.4 -8.6L212.4 -9.1L214 -10.6L214 0M234.2 -7.1L234.2 -5.6L234.2 -1.5L234.2 0M234.2 -5.6L233.2 -6.6L232.2 -7.1L230.7 -7.1L229.7 -6.6L228.7 -5.6L228.2 -4.1L228.2 -3L228.7 -1.5L229.7 -0.5L230.7 0L232.2 0L233.2 -0.5L234.2 -1.5M237.3 -7.1L238.8 -7.1L240.8 -7.1M238.8 -10.6L238.8 -7.1L238.8 -2L239.3 -0.5L240.3 0L241.3 0M253.5 -8.6L254.5 -9.1L256 -10.6L256 0M262.6 -8.1L262.6 -8.6L263.1 -9.6L263.6 -10.1L264.7 -10.6L266.7 -10.6L267.7 -10.1L268.2 -9.6L268.7 -8.6L268.7 -7.6L268.2 -6.6L267.2 -5.1L262.1 0L269.2 0M272.8 -6.6L273.3 -7.1L273.8 -6.6L273.3 -6.1L272.8 -6.6M272.8 -0.5L273.3 -1L273.8 -0.5L273.3 0L272.8 -0.5M277.3 -6.1L277.3 -4.6L277.8 -2L278.9 -0.5L280.4 0L281.4 0L282.9 -0.5L283.9 -2L284.4 -4.6L284.4 -6.1L283.9 -8.6L282.9 -10.1L281.4 -10.6L280.4 -10.6L278.9 -10.1L277.8 -8.6L277.3 -6.1M288 -8.1L288 -8.6L288.5 -9.6L289 -10.1L290 -10.6L292 -10.6L293 -10.1L293.6 -9.6L294.1 -8.6L294.1 -7.6L293.6 -6.6L292.5 -5.1L287.5 0L294.6 0M306.2 -10.6L306.2 -3L306.7 -1.5L307.7 -0.5L309.3 0L310.3 0L311.8 -0.5L312.8 -1.5L313.3 -3L313.3 -10.6M315.9 -10.6L319.4 -10.6L323 -10.6M319.4 -10.6L319.4 0" fill="none" stroke="#000" stroke-width="1.0" stroke-linecap="round" stroke-linejoin="round"/>
<path d="M688.1 573.1V642.2" stroke="#000" stroke-width="2" fill="none"/>
<path d="M671.4 573.1H706.4M671.4 642.2H706.4" stroke="#000" stroke-width="1" fill="none"/>
<path transform="translate(719 580) translate(-1.9 0)" d="M2.6 -10.3L2.6 -10.9L3.2 -12.2L3.9 -12.9L5.1 -13.5L7.7 -13.5L9 -12.9L9.6 -12.2L10.3 -10.9L10.3 -9.6L9.6 -8.4L8.4 -6.4L1.9 0L10.9 0M14.8 -2.6L15.4 -1.3L16.1 -0.6L18 0L19.9 0L21.9 -0.6L23.1 -1.9L23.8 -3.9L23.8 -5.1L23.1 -7.1L21.9 -8.4L19.9 -9L18 -9L16.1 -8.4L15.4 -7.7L16.1 -13.5L22.5 -13.5M27.6 -7.7L27.6 -5.8L28.3 -2.6L29.6 -0.6L31.5 0L32.8 0L34.7 -0.6L36 -2.6L36.7 -5.8L36.7 -7.7L36 -10.9L34.7 -12.9L32.8 -13.5L31.5 -13.5L29.6 -12.9L28.3 -10.9L27.6 -7.7M50.8 -1.9L51.4 -0.6L53.4 0L55.3 0L57.2 -0.6L57.9 -1.9L57.9 -2.6L57.2 -3.9L55.9 -4.5L52.7 -5.1L51.4 -5.8L50.8 -7.1L51.4 -8.4L53.4 -9L55.3 -9L57.2 -8.4L57.9 -7.1M61.1 -9L63 -9L65.6 -9M63 0L63 -9L63 -10.9L63.7 -12.9L64.9 -13.5L66.2 -13.5M70.1 -9L70.1 -2.6L70.7 -0.6L72 0L73.9 0L75.2 -0.6L77.2 -2.6L77.2 -9M77.2 -2.6L77.2 0" fill="none" stroke="#000" stroke-width="1.0" stroke-linecap="round" stroke-linejoin="round"/>
<path transform="translate(719 648.6) translate(-1.9 0)" d="M1.9 -13.5L10.9 -13.5L4.5 0M14.8 -7.7L14.8 -5.8L15.4 -2.6L16.7 -0.6L18.6 0L19.9 0L21.9 -0.6L23.1 -2.6L23.8 -5.8L23.8 -7.7L23.1 -10.9L21.9 -12.9L19.9 -13.5L18.6 -13.5L16.7 -12.9L15.4 -10.9L14.8 -7.7M37.9 -1.9L38.6 -0.6L40.5 0L42.4 0L44.4 -0.6L45 -1.9L45 -2.6L44.4 -3.9L43.1 -4.5L39.9 -5.1L38.6 -5.8L37.9 -7.1L38.6 -8.4L40.5 -9L42.4 -9L44.4 -8.4L45 -7.1M48.2 -9L50.2 -9L52.7 -9M50.2 0L50.2 -9L50.2 -10.9L50.8 -12.9L52.1 -13.5L53.4 -13.5M57.2 -9L57.2 -2.6L57.9 -0.6L59.2 0L61.1 0L62.4 -0.6L64.3 -2.6L64.3 -9M64.3 -2.6L64.3 0" fill="none" stroke="#000" stroke-width="1.0" stroke-linecap="round" stroke-linejoin="round"/>
<path transform="translate(695.4 727.9) translate(-141.8 0)" d="M7.9 0L13.5 -19.1M9 0L15.8 -23.6L12.4 -20.2L9 -18L6.8 -16.9L10.1 -18L14.6 -20.2M31.5 0L33.8 0L37.1 -1.1L39.4 -3.4L41.6 -6.8L42.8 -10.1L43.9 -14.6L43.9 -18L42.8 -21.4L41.6 -22.5L39.4 -23.6L37.1 -23.6L33.8 -22.5L31.5 -20.2L29.2 -16.9L28.1 -13.5L27 -9L27 -5.6L28.1 -2.2L29.2 -1.1L31.5 0L29.2 -2.2L28.1 -5.6L28.1 -9L29.2 -13.5L30.4 -16.9L32.6 -20.2L34.9 -22.5L37.1 -23.6M33.8 0L36 -1.1L38.2 -3.4L40.5 -6.8L41.6 -10.1L42.8 -14.6L42.8 -18L41.6 -21.4L39.4 -23.6M51.8 -1.1L52.9 -2.2L54 -1.1L52.9 0L51.8 -1.1M63 -16.9L64.1 -20.2L65.2 -23.6M64.1 -20.2L65.2 -21.4L67.5 -23.6L69.8 -23.6L75.4 -20.2L77.6 -20.2L78.8 -21.4L79.9 -23.6L78.8 -20.2L76.5 -16.9L70.9 -10.1L68.6 -6.8L67.5 -4.5L66.4 0M65.2 -21.4L67.5 -22.5L69.8 -22.5L75.4 -20.2M65.2 0L66.4 -4.5L67.5 -6.8L69.8 -10.1L76.5 -16.9M105.8 -1.1L104.6 -2.2L103.5 -4.5L103.5 -7.9L104.6 -11.2L106.9 -14.6L110.2 -15.8L113.6 -15.8L115.9 -14.6L117 -12.4L117 -11.2L115.9 -11.2L115.9 -12.4M105.8 -1.1L108 0L110.2 0L113.6 -1.1L115.9 -4.5M105.8 -1.1L104.6 -3.4L104.6 -7.9L105.8 -11.2L108 -14.6L110.2 -15.8M121.5 -11.2L122.6 -13.5L124.9 -15.8L127.1 -15.8L128.2 -15.8L129.4 -14.6L129.4 -12.4L128.2 -7.9L126 0M124.9 0L127.1 -7.9L128.2 -12.4L128.2 -14.6L127.1 -15.8M128.2 -7.9L130.5 -12.4L132.8 -14.6L135 -15.8L137.2 -15.8L139.5 -14.6L140.6 -13.5L140.6 -11.2L137.2 0M136.1 0L139.5 -11.2L139.5 -13.5L137.2 -15.8M139.5 -7.9L141.8 -12.4L144 -14.6L146.2 -15.8L148.5 -15.8L150.8 -14.6L151.9 -13.5L151.9 -11.2L149.6 -4.5L149.6 -1.1L150.8 0L153 0L155.2 -2.2L156.4 -4.5M148.5 -15.8L150.8 -13.5L150.8 -11.2L148.5 -4.5L148.5 -1.1L149.6 0L150.8 0M180 -2.2L178.9 -4.5L178.9 -6.8L177.8 0L178.9 -2.2L180 -2.2L181.1 -1.1L184.5 0L189 0L192.4 -1.1L193.5 -2.2L194.6 -4.5L194.6 -7.9L193.5 -10.1L192.4 -11.2L184.5 -15.8L182.2 -18L182.2 -20.2L184.5 -22.5L187.9 -23.6L192.4 -23.6L195.8 -22.5L196.9 -21.4L198 -19.1L198 -16.9L199.1 -23.6L198 -21.4L196.9 -21.4M182.2 -18L183.4 -15.8L184.5 -14.6L192.4 -10.1L194.6 -7.9M207 -1.1L205.9 -2.2L204.8 -4.5L204.8 -7.9L205.9 -11.2L208.1 -14.6L211.5 -15.8L213.8 -15.8L216 -14.6L217.1 -13.5L218.2 -11.2L218.2 -7.9L217.1 -4.5L214.9 -1.1L211.5 0L209.2 0L207 -1.1L205.9 -3.4L205.9 -7.9L207 -11.2L209.2 -14.6L211.5 -15.8M211.5 0L213.8 -1.1L216 -4.5L217.1 -7.9L217.1 -12.4L216 -14.6M227.2 -23.6L230.6 -23.6L231.8 -23.6L227.2 -7.9L226.1 -3.4L226.1 -1.1L227.2 0L229.5 0L231.8 -2.2L232.9 -4.5M227.2 0L226.1 0L225 -1.1L225 -3.4L226.1 -7.9L230.6 -23.6M240.8 -1.1L239.6 -2.2L238.5 -4.5L238.5 -7.9L239.6 -11.2L241.9 -14.6L245.2 -15.8L247.5 -15.8L249.8 -14.6L250.9 -11.2L250.9 -7.9L249.8 -3.4L249.8 -1.1L250.9 0L252 0L254.2 0L256.5 -2.2L257.6 -4.5M240.8 -1.1L243 0L245.2 0L247.5 -1.1L249.8 -4.5L250.9 -7.9L253.1 -15.8M240.8 -1.1L239.6 -3.4L239.6 -7.9L240.8 -11.2L243 -14.6L245.2 -15.8M252 0L250.9 -1.1L250.9 -3.4L252 -7.9L254.2 -15.8M259.9 -11.2L261 -13.5L263.2 -15.8L265.5 -15.8L266.6 -15.8L267.8 -14.6L267.8 -12.4L266.6 -7.9L264.4 0M263.2 0L265.5 -7.9L266.6 -12.4L266.6 -14.6L265.5 -15.8M266.6 -7.9L268.9 -12.4L271.1 -14.6L273.4 -15.8L275.6 -15.8L276.8 -14.6L276.8 -13.5L275.6 -12.4L274.5 -13.5L275.6 -14.6" fill="none" stroke="#ff3030" stroke-width="2.2" stroke-linecap="round" stroke-linejoin="round"/>
<path transform="translate(692.6 759) translate(-105.8 0)" d="M0 0L3.4 0L4.5 0L7.9 0M3.4 0L10.1 -23.6L11.2 -23.6L19.1 -23.6L22.5 -22.5L23.6 -20.2L23.6 -18L22.5 -14.6L21.4 -13.5L18 -12.4L13.5 -12.4L7.9 -12.4M4.5 0L11.2 -23.6M6.8 -23.6L10.1 -23.6M13.5 -12.4L15.8 -11.2L16.9 -10.1L19.1 -2.2L20.2 -1.1L21.4 -1.1L22.5 -2.2L22.5 -3.4M16.9 -10.1L18 -1.1L19.1 0L21.4 0L22.5 -2.2M18 -12.4L20.2 -13.5L21.4 -14.6L22.5 -18L22.5 -20.2L21.4 -22.5L19.1 -23.6M32.6 -1.1L31.5 -2.2L30.4 -4.5L30.4 -7.9L31.5 -11.2L33.8 -14.6L37.1 -15.8L39.4 -15.8L41.6 -14.6L42.8 -11.2L42.8 -7.9L41.6 -3.4L41.6 -1.1L42.8 0L43.9 0L46.1 0L48.4 -2.2L49.5 -4.5M32.6 -1.1L34.9 0L37.1 0L39.4 -1.1L41.6 -4.5L42.8 -7.9L45 -15.8M32.6 -1.1L31.5 -3.4L31.5 -7.9L32.6 -11.2L34.9 -14.6L37.1 -15.8M43.9 0L42.8 -1.1L42.8 -3.4L43.9 -7.9L46.1 -15.8M56.2 -1.1L55.1 -2.2L54 -4.5L54 -7.9L55.1 -11.2L57.4 -14.6L60.8 -15.8L63 -15.8L65.2 -14.6L66.4 -11.2L66.4 -7.9L65.2 -3.4L65.2 -1.1L66.4 0L67.5 0L69.8 0L72 -2.2L73.1 -4.5M56.2 -1.1L58.5 0L60.8 0L63 -1.1L65.2 -4.5L66.4 -7.9L70.9 -23.6L72 -23.6L67.5 -7.9L66.4 -3.4L66.4 -1.1L67.5 0M56.2 -1.1L55.1 -3.4L55.1 -7.9L56.2 -11.2L58.5 -14.6L60.8 -15.8M67.5 -23.6L70.9 -23.6M75.4 -11.2L76.5 -13.5L78.8 -15.8L81 -15.8L82.1 -15.8L83.2 -14.6L83.2 -11.2L81 -4.5L81 -1.1L82.1 0L84.4 0L86.6 -2.2L87.8 -4.5M81 -15.8L82.1 -14.6L82.1 -11.2L79.9 -4.5L79.9 -1.1L81 0L82.1 0M83.2 -22.5L84.4 -23.6L85.5 -22.5L84.4 -21.4L83.2 -22.5M94.5 -1.1L93.4 -2.2L92.2 -4.5L92.2 -7.9L93.4 -11.2L95.6 -14.6L99 -15.8L101.2 -15.8L103.5 -14.6L104.6 -13.5L105.8 -11.2L105.8 -7.9L104.6 -4.5L102.4 -1.1L99 0L96.8 0L94.5 -1.1L93.4 -3.4L93.4 -7.9L94.5 -11.2L96.8 -14.6L99 -15.8M99 0L101.2 -1.1L103.5 -4.5L104.6 -7.9L104.6 -12.4L103.5 -14.6M127.1 0L130.5 0L131.6 0L135 0M130.5 0L137.2 -23.6L138.4 -23.6L149.6 -23.6L150.8 -23.6L149.6 -16.9L149.6 -23.6M131.6 0L138.4 -23.6M133.9 -23.6L137.2 -23.6M135 -12.4L141.8 -12.4L142.9 -16.9M140.6 -7.9L141.8 -12.4M157.5 -23.6L160.9 -23.6L162 -23.6L157.5 -7.9L156.4 -3.4L156.4 -1.1L157.5 0L159.8 0L162 -2.2L163.1 -4.5M157.5 0L156.4 0L155.2 -1.1L155.2 -3.4L156.4 -7.9L160.9 -23.6M166.5 -11.2L167.6 -13.5L169.9 -15.8L172.1 -15.8L173.2 -15.8L174.4 -14.6L174.4 -11.2L172.1 -4.5L172.1 -2.2L174.4 0L176.6 0L178.9 -1.1L181.1 -3.4L183.4 -7.9L185.6 -15.8M172.1 -15.8L173.2 -14.6L173.2 -11.2L171 -4.5L171 -2.2L172.1 -1.1L174.4 0M183.4 -7.9L182.2 -3.4L182.2 -1.1L183.4 0L184.5 0L186.8 0L189 -2.2L190.1 -4.5M184.5 0L183.4 -1.1L183.4 -3.4L184.5 -7.9L186.8 -15.8M194.6 -11.2L196.9 -14.6L199.1 -15.8L201.4 -15.8L202.5 -15.8L203.6 -13.5L203.6 -10.1L202.5 -5.6L202.5 -2.2L203.6 0L205.9 0L208.1 -1.1L210.4 -4.5M194.6 -1.1L195.8 -2.2L194.6 -3.4L193.5 -2.2L193.5 -1.1L194.6 0L195.8 0L198 -1.1L200.2 -3.4L201.4 -5.6L202.5 -10.1L202.5 -13.5L201.4 -15.8M201.4 -5.6L201.4 -2.2L202.5 0L203.6 0M203.6 -10.1L204.8 -12.4L207 -14.6L209.2 -15.8L210.4 -15.8L211.5 -14.6L211.5 -13.5L210.4 -12.4L209.2 -13.5L210.4 -14.6" fill="none" stroke="#ff3030" stroke-width="2.2" stroke-linecap="round" stroke-linejoin="round"/>
<path transform="translate(692.6 804) translate(-57.2 0)" d="M3.3 -23.3L18.9 -23.3L7.8 0M25.5 -13.3L25.5 -10L26.6 -4.4L28.9 -1.1L32.2 0L34.4 0L37.7 -1.1L40 -4.4L41.1 -10L41.1 -13.3L40 -18.9L37.7 -22.2L34.4 -23.3L32.2 -23.3L28.9 -22.2L26.6 -18.9L25.5 -13.3M65.5 -3.3L66.6 -1.1L69.9 0L73.3 0L76.6 -1.1L77.7 -3.3L77.7 -4.4L76.6 -6.7L74.4 -7.8L68.8 -8.9L66.6 -10L65.5 -12.2L66.6 -14.4L69.9 -15.5L73.3 -15.5L76.6 -14.4L77.7 -12.2M83.3 -15.5L86.6 -15.5L91 -15.5M86.6 0L86.6 -15.5L86.6 -18.9L87.7 -22.2L89.9 -23.3L92.1 -23.3M98.8 -15.5L98.8 -4.4L99.9 -1.1L102.1 0L105.5 0L107.7 -1.1L111 -4.4L111 -15.5M111 -4.4L111 0" fill="none" stroke="#ff3030" stroke-width="2.2" stroke-linecap="round" stroke-linejoin="round"/>
<path transform="translate(693.7 885.8) translate(-126 0)" d="M3.8 -19.7L3.8 0L15 0M30.1 -13.2L30.1 -10.3L30.1 -2.8L30.1 0M30.1 -10.3L28.2 -12.2L26.3 -13.2L23.5 -13.2L21.6 -12.2L19.7 -10.3L18.8 -7.5L18.8 -5.6L19.7 -2.8L21.6 -0.9L23.5 0L26.3 0L28.2 -0.9L30.1 -2.8M35.7 -13.2L38.5 -13.2L42.3 -13.2M38.5 -19.7L38.5 -13.2L38.5 -3.8L39.5 -0.9L41.4 0L43.2 0M47.9 -7.5L48.9 -10.3L50.8 -12.2L52.6 -13.2L55.5 -13.2L57.3 -12.2L58.3 -11.3L59.2 -9.4L59.2 -7.5L47.9 -7.5L47.9 -5.6L48.9 -2.8L50.8 -0.9L52.6 0L55.5 0L57.3 -0.9L59.2 -2.8M64.9 -2.8L65.8 -0.9L68.6 0L71.4 0L74.3 -0.9L75.2 -2.8L75.2 -3.8L74.3 -5.6L72.4 -6.6L67.7 -7.5L65.8 -8.5L64.9 -10.3L65.8 -12.2L68.6 -13.2L71.4 -13.2L74.3 -12.2L75.2 -10.3M79.9 -13.2L82.7 -13.2L86.5 -13.2M82.7 -19.7L82.7 -13.2L82.7 -3.8L83.7 -0.9L85.5 0L87.4 0M93.1 -12.2L94 -13.2L94.9 -12.2L94 -11.3L93.1 -12.2M93.1 -0.9L94 -1.9L94.9 -0.9L94 0L93.1 -0.9M117.5 -15L117.5 -16L118.4 -17.9L119.4 -18.8L121.3 -19.7L125 -19.7L126.9 -18.8L127.8 -17.9L128.8 -16L128.8 -14.1L127.8 -12.2L126 -9.4L116.6 0L129.7 0M135.4 -11.3L135.4 -8.5L136.3 -3.8L138.2 -0.9L141 0L142.9 0L145.7 -0.9L147.6 -3.8L148.5 -8.5L148.5 -11.3L147.6 -16L145.7 -18.8L142.9 -19.7L141 -19.7L138.2 -18.8L136.3 -16L135.4 -11.3M155.1 -12.2L156 -13.2L157 -12.2L156 -11.3L155.1 -12.2M155.1 -0.9L156 -1.9L157 -0.9L156 0L155.1 -0.9M163.6 -11.3L163.6 -8.5L164.5 -3.8L166.4 -0.9L169.2 0L171.1 0L173.9 -0.9L175.8 -3.8L176.7 -8.5L176.7 -11.3L175.8 -16L173.9 -18.8L171.1 -19.7L169.2 -19.7L166.4 -18.8L164.5 -16L163.6 -11.3M182.4 -11.3L182.4 -8.5L183.3 -3.8L185.2 -0.9L188 0L189.9 0L192.7 -0.9L194.6 -3.8L195.5 -8.5L195.5 -11.3L194.6 -16L192.7 -18.8L189.9 -19.7L188 -19.7L185.2 -18.8L183.3 -16L182.4 -11.3M217.1 -19.7L217.1 -5.6L218.1 -2.8L220 -0.9L222.8 0L224.7 0L227.5 -0.9L229.4 -2.8L230.3 -5.6L230.3 -19.7M235 -19.7L241.6 -19.7L248.2 -19.7M241.6 -19.7L241.6 0" fill="none" stroke="#ff3030" stroke-width="2.2" stroke-linecap="round" stroke-linejoin="round"/>
<path transform="translate(692.6 911.4) translate(-104.3 0)" d="M3.8 -15L3.8 -16L4.7 -17.9L5.6 -18.8L7.5 -19.7L11.3 -19.7L13.2 -18.8L14.1 -17.9L15 -16L15 -14.1L14.1 -12.2L12.2 -9.4L2.8 0L16 0M21.6 -11.3L21.6 -8.5L22.6 -3.8L24.4 -0.9L27.3 0L29.1 0L32 -0.9L33.8 -3.8L34.8 -8.5L34.8 -11.3L33.8 -16L32 -18.8L29.1 -19.7L27.3 -19.7L24.4 -18.8L22.6 -16L21.6 -11.3M41.4 -15L41.4 -16L42.3 -17.9L43.2 -18.8L45.1 -19.7L48.9 -19.7L50.8 -18.8L51.7 -17.9L52.6 -16L52.6 -14.1L51.7 -12.2L49.8 -9.4L40.4 0L53.6 0M59.2 -3.8L60.2 -1.9L61.1 -0.9L63.9 0L66.7 0L69.6 -0.9L71.4 -2.8L72.4 -5.6L72.4 -7.5L71.4 -10.3L69.6 -12.2L66.7 -13.2L63.9 -13.2L61.1 -12.2L60.2 -11.3L61.1 -19.7L70.5 -19.7M79 -8.5L95.9 -8.5M100.6 0L108.1 -19.7L115.6 0M103.4 -6.6L112.8 -6.6M120.3 -13.2L120.3 -10.3L120.3 -2.8L120.3 6.6M120.3 -10.3L122.2 -12.2L124.1 -13.2L126.9 -13.2L128.8 -12.2L130.7 -10.3L131.6 -7.5L131.6 -5.6L130.7 -2.8L128.8 -0.9L126.9 0L124.1 0L122.2 -0.9L120.3 -2.8M138.2 -13.2L138.2 -7.5L138.2 0M138.2 -7.5L139.1 -10.3L141 -12.2L142.9 -13.2L145.7 -13.2M150.4 -8.5L167.3 -8.5M173.9 -3.8L174.8 -1.9L175.8 -0.9L178.6 0L181.4 0L184.2 -0.9L186.1 -2.8L187.1 -5.6L187.1 -7.5L186.1 -10.3L185.2 -11.3L183.3 -12.2L180.5 -12.2L186.1 -19.7L175.8 -19.7M192.7 -11.3L192.7 -8.5L193.6 -3.8L195.5 -0.9L198.3 0L200.2 0L203 -0.9L204.9 -3.8L205.9 -8.5L205.9 -11.3L204.9 -16L203 -18.8L200.2 -19.7L198.3 -19.7L195.5 -18.8L193.6 -16L192.7 -11.3" fill="none" stroke="#ff3030" stroke-width="2.2" stroke-linecap="round" stroke-linejoin="round"/>
</svg></body></html>
